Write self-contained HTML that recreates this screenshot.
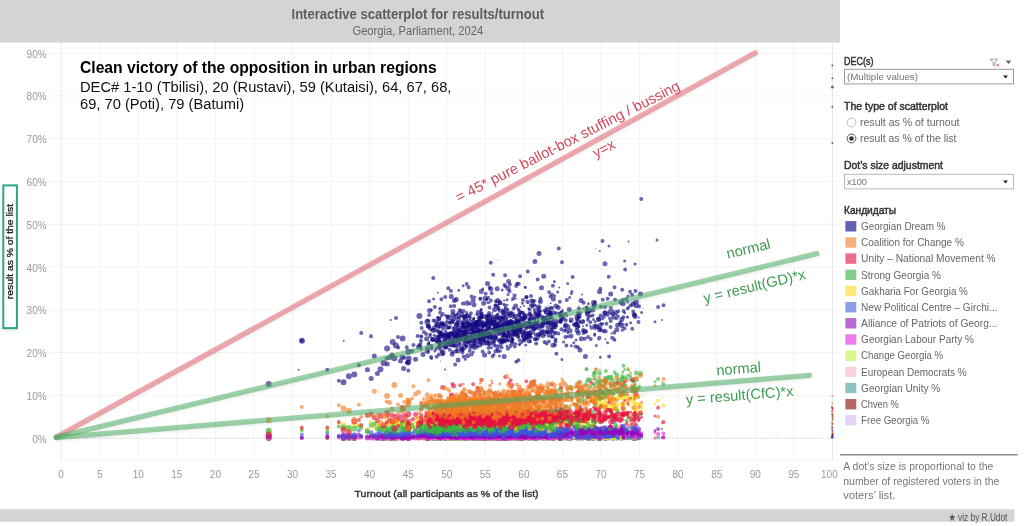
<!DOCTYPE html>
<html lang="en"><head><meta charset="utf-8"><title>Interactive scatterplot for results/turnout</title>
<style>html,body{margin:0;padding:0;background:#fff;overflow:hidden}svg{display:block;will-change:transform}text{font-family:"Liberation Sans", "DejaVu Sans", sans-serif}</style></head><body>
<svg width="1024" height="526" viewBox="0 0 1024 526">
<defs><filter id="sh" x="-5%" y="-5%" width="110%" height="115%"><feDropShadow dx="0.8" dy="1.2" stdDeviation="0.9" flood-color="#666" flood-opacity="0.22"/></filter></defs>
<rect width="1024" height="526" fill="#fff"/>
<rect x="0" y="0" width="840" height="42.5" fill="#d4d4d4"/>
<rect x="0" y="509.2" width="1014.4" height="12.6" fill="#d4d4d4"/>
<text x="417.8" y="19.2" text-anchor="middle" font-size="15" font-weight="bold" fill="#5e5e5e" textLength="252.6" lengthAdjust="spacingAndGlyphs">Interactive scatterplot for results/turnout</text>
<text x="417.8" y="35.4" text-anchor="middle" font-size="12.3" fill="#666" textLength="130.7" lengthAdjust="spacingAndGlyphs">Georgia, Parliament, 2024</text>
<path d="M99.7 43V460M138.2 43V460M176.8 43V460M215.4 43V460M253.9 43V460M292.5 43V460M331.1 43V460M369.6 43V460M408.2 43V460M446.8 43V460M485.3 43V460M523.9 43V460M562.4 43V460M601.0 43V460M639.6 43V460M678.1 43V460M716.7 43V460M755.3 43V460M793.8 43V460M832.4 43V460M49 395.4H840M49 352.7H840M49 309.9H840M49 267.1H840M49 224.3H840M49 181.6H840M49 138.8H840M49 96.0H840M49 53.3H840M61 460H840" stroke="#f3f3f3" stroke-width="1" fill="none"/>
<path d="M832.4 43V460" stroke="#e6e6ea" stroke-width="1" fill="none"/>
<path d="M61.1 43V460M61 438.2H839" stroke="#c4c4c4" stroke-width="1" stroke-dasharray="1 1.6" fill="none"/>
<g font-size="10" fill="#999" text-anchor="end">
<text x="46.6" y="442.6">0%</text>
<text x="46.6" y="399.8">10%</text>
<text x="46.6" y="357.1">20%</text>
<text x="46.6" y="314.3">30%</text>
<text x="46.6" y="271.5">40%</text>
<text x="46.6" y="228.8">50%</text>
<text x="46.6" y="186.0">60%</text>
<text x="46.6" y="143.2">70%</text>
<text x="46.6" y="100.4">80%</text>
<text x="46.6" y="57.7">90%</text>
</g>
<g font-size="10" fill="#999" text-anchor="middle">
<text x="61.1" y="477.7">0</text>
<text x="99.7" y="477.7">5</text>
<text x="138.2" y="477.7">10</text>
<text x="176.8" y="477.7">15</text>
<text x="215.4" y="477.7">20</text>
<text x="253.9" y="477.7">25</text>
<text x="292.5" y="477.7">30</text>
<text x="331.1" y="477.7">35</text>
<text x="369.6" y="477.7">40</text>
<text x="408.2" y="477.7">45</text>
<text x="446.8" y="477.7">50</text>
<text x="485.3" y="477.7">55</text>
<text x="523.9" y="477.7">60</text>
<text x="562.4" y="477.7">65</text>
<text x="601.0" y="477.7">70</text>
<text x="639.6" y="477.7">75</text>
<text x="678.1" y="477.7">80</text>
<text x="716.7" y="477.7">85</text>
<text x="755.3" y="477.7">90</text>
<text x="793.8" y="477.7">95</text>
<text x="829.4" y="477.7">100</text>
</g>
<text x="446.6" y="497" text-anchor="middle" font-size="9.7" fill="#333" stroke="#333" stroke-width=".4" textLength="184" lengthAdjust="spacingAndGlyphs">Turnout (all participants as % of the list)</text>
<rect x="3.3" y="185.4" width="13.6" height="142.7" fill="#fff" stroke="#2fa58c" stroke-width="2" filter="url(#sh)"/>
<text transform="translate(12.7 251.6) rotate(-90)" text-anchor="middle" font-size="9.5" fill="#222" stroke="#222" stroke-width=".3" textLength="95.2" lengthAdjust="spacingAndGlyphs">result as % of the list</text>
<g stroke-opacity="0.62" stroke-linecap="round" fill="none">
<g stroke="#d5b6f7">
<path stroke-width="6" d="M268.7 438.1h0m118.4-.1h0m5.6 0h0m15.6 0h0"/>
<path stroke-width="5" d="M387.3 437.9h0m35.7 .1h0m3.6 .1h0m16 0h0m7.8 0h0m.7 0h0m1.8-.1h0m.4 .2h0m2 0h0m3.3-.1h0m.2-.1h0m7.1-.1h0m.2 .3h0m1.3-.4h0m8.6 .3h0m1.2-.2h0m4.1 .3h0m2.3 0h0m1.4-.1h0m2.8-.1h0m3-.3h0m3 .4h0m.7 0h0m2.8 .1h0m.5-.2h0m6 0h0m.5-.1h0m3.2 .1h0m10.3 0h0m2.3 .1h0m2.7 .1h0m2.9-.1h0m9.6 .1h0m.3-.1h0m9.4-.4h0m.3 .5h0m4.9-.1h0m.9 .1h0m2.2 0h0m.6-.1h0m24.5 0h0m14.3-.1h0m12.3-.1h0m16.8 .3h0"/>
<path stroke-width="4" d="M338.8 438h0m97.3 0h0m2.5 .2h0m.3-.1h0m1.3 0h0m3.3-.1h0m1.8-.1h0m.3 .2h0m1.1 0h0m1.1 .1h0m.4-.3h0m.1 .3h0m1-.1h0m.3 0h0m2.8-.1h0m.2 .2h0m1.1-.3h0m.4 .3h0m.4-.3h0m1.4 .1h0m1.9 .2h0m1.8 0h0m3-.3h0m1 .2h0m.3 0h0m1.1-.3h0m1.7 .4h0m.4-.2h0m3.1 .1h0m.6-.1h0m.6 .1h0m.5 .1h0m1.9-.5h0m.2 .2h0m2.1 .1h0m.9 0h0m1.6 .1h0m5.5 0h0m2.7 .1h0m.9-.3h0m1.3 .3h0m.6-.4h0m.6 .3h0m.6 .1h0m3-.1h0m2.7 0h0m2.1-.2h0m1.3-.1h0m.5 .3h0m2.4 .1h0m3-.1h0m.8-.3h0m.2 .3h0m.2-.1h0m4.7 .1h0m.5-.2h0m.1 .2h0m3.3-.2h0m.6 .2h0m.9-.2h0m3.2 .2h0m7.9 .1h0m1.6-.3h0m.3 0h0m5.8 .3h0m1.6-.3h0m9.1 .2h0m2.2 0h0m1.9 .1h0m.8-.2h0m4.8 .2h0m9.5-.3h0m1 .2h0m13.3-.1h0m6.3 .1h0m17.2 .1h0m7.1-.3h0m9.7 .2h0m14 0h0"/>
<path stroke-width="3" d="M434.9 438.2h0m0 0h0m2.1-.5h0m3.3 .4h0m23.9 .1h0m1.2-.1h0m1.1 0h0m.2 .1h0m6.2 0h0m4.7-.1h0m1-.1h0m9.7 .2h0m1.7-.3h0m1.5 0h0m1.4 .3h0m1.6-.3h0m2.9 .2h0m.9 0h0m.9 0h0m1.2 0h0m3.8-.1h0m2.8 0h0m.1 .1h0m1.3 .1h0m3.2-.2h0m4.1-.2h0m9.1 .3h0m6-.1h0m.8-.1h0m2.2 .3h0m.4-.2h0m6.5 .1h0m3 0h0m3-.1h0m5.1-.1h0m9 .3h0m10.6-.3h0m7.4 .3h0m8-.4h0m1.7 .4h0m1.3-.1h0m.3 0h0m5 0h0m29.6 .1h0m5.9-.1h0"/>
<path stroke-width="2" d="M446.7 438h0m1.1 0h0m2.5 0h0m18.9 0h0m7.9 .1h0m9.1-.2h0m6.1 .3h0m7-.1h0m10.5 0h0m2.9 .1h0m2.7-.4h0m2.7 .4h0m27.2-.1h0m43.9-.1h0m1 .2h0m71.8-.1h0"/>
<path stroke-width="1" d="M435.3 438.2h0m5.5-.3h0m19.6 .1h0m53.3 .2h0m3.3-.3h0m3.5 .2h0"/>
<path stroke-width="6" d="M354.3 438.1h0m29.3 0h0m43.8-.1h0"/>
<path stroke-width="5" d="M389.7 438h0m42.7 0h0m4.3 .1h0m5.4-.1h0m1.7 .1h0m14.2-.1h0m3.7 .2h0m.5-.3h0m1.9 .1h0m2.9-.1h0m2 .2h0m4.5-.1h0m1.1 .1h0m1 0h0m3 .1h0m2.5-.1h0m4.2 .1h0m1-.2h0m2 .2h0m.3-.2h0m13.7 .1h0m15.4-.3h0m7.5 .3h0m4.5 .1h0m5.2 0h0m12.7 0h0m23.4-.1h0m6.1 0h0m4.2-.2h0m18.1 .2h0m5.8-.1h0m5.5 .2h0m2.5-.4h0"/>
<path stroke-width="4" d="M404.1 438.1h0m4.2 0h0m5.2 0h0m5.7-.3h0m8.4 .2h0m2.5 .2h0m8-.2h0m1.1 .1h0m.6-.2h0m1 .1h0m4.9 .2h0m4.6 0h0m2.3 0h0m2.5-.1h0m.7 .1h0m1.2-.1h0m.4 .1h0m2.4-.3h0m3.8 .3h0m1.5 0h0m1-.1h0m.1 .1h0m.5-.2h0m.1 0h0m1.7-.1h0m.4 .3h0m4.7 0h0m1.7-.2h0m.3 .1h0m.8-.2h0m2.6 .2h0m1-.1h0m1.3 .1h0m1.5-.1h0m3 .2h0m2.3-.1h0m3.6 0h0m2.2-.1h0m2 .2h0m.8-.1h0m.4 .1h0m1.1-.3h0m.3 .3h0m1.2-.1h0m1.9-.1h0m.3 0h0m1.1 .1h0m.3 .1h0m.7-.1h0m.5-.3h0m.2 .3h0m1.8-.1h0m1.4 .2h0m.3 0h0m.5-.3h0m0 0h0m1.5 .2h0m.5-.1h0m5.2 .2h0m2.5-.1h0m4.3-.1h0m0 .2h0m1.2-.2h0m2.6 0h0m.8 .2h0m.5-.3h0m1.8 .3h0m2.2 0h0m3.1-.1h0m7 .1h0m.1 0h0m1.2-.4h0m4.3 .1h0m.5 .1h0m1.1 .1h0m1.3-.2h0m1.6 .2h0m6.4 0h0m1.7 0h0m.4 0h0m.9 .1h0m11.2 0h0m11-.1h0m1.2 0h0m2 .1h0m1.1-.2h0m2.8 .2h0m4.4 0h0m5.4 0h0m.3-.3h0m1.9 .1h0m4.9 0h0m1.1-.1h0m5 .3h0m.5-.1h0m.3-.2h0m9.1 .1h0m.9 .1h0m14.6 .1h0"/>
<path stroke-width="3" d="M421 438.2h0m7.6 0h0m.2 0h0m2.7-.2h0m.4 .2h0m3.9-.2h0m3.4 .1h0m2.2 .1h0m4.3-.2h0m.1 0h0m6.3 .2h0m6.7-.3h0m.2 .1h0m.4 0h0m4 .1h0m1.9-.1h0m.1-.1h0m3.6 .1h0m4.4-.1h0m1.4 .3h0m3.3-.1h0m2.2-.3h0m2.5 .4h0m2.2-.1h0m2.1 .1h0m1.8-.1h0m.9 0h0m.6-.1h0m1.4 0h0m5.1 0h0m.8-.1h0m1.7 .3h0m2.8-.4h0m1.5 .1h0m7.7 .1h0m.2 .1h0m1.8-.2h0m3.2 .3h0m3.6-.4h0m9.9 .2h0m6.2-.2h0m1.1 .1h0m.7 0h0m3.9 .3h0m3.4-.3h0m6.9-.1h0m6.5 .4h0m15-.2h0m19.7 .2h0m17.9-.2h0m15.8 .1h0m.7 0h0m.1-.2h0m7.1 .2h0"/>
<path stroke-width="2" d="M435.5 438.1h0m5.8-.2h0m1.8 .3h0m46.3-.3h0m.2 .3h0m5.7-.2h0m17.6 0h0m16.2-.1h0m.8-.2h0m29.3 .4h0m7.8 .1h0m38.3-.3h0"/>
<path stroke-width="1" d="M481.6 438h0m21.3 .2h0m48-.1h0"/>
<path stroke-width="6" d="M343.5 438.2h0m65.2-.1h0m123.6-.1h0"/>
<path stroke-width="5" d="M371.2 438h0m6.2 .2h0m23.1 0h0m29-.1h0m10.8 0h0m.4 .1h0m2.2-.2h0m9.3 .1h0m5.1 0h0m2.7-.1h0m3.6-.2h0m.9 .1h0m1.2 .3h0m3.9 0h0m5.2-.1h0m3.8 .1h0m3.1-.1h0m.7-.1h0m1.3 .2h0m.9-.2h0m3.5 .2h0m1-.1h0m.3 0h0m.5 0h0m8.3 0h0m4.3 .1h0m1.3-.1h0m1.4 0h0m7.2 0h0m9.9-.1h0m5.3 0h0m1.9 0h0m4.6 .1h0m3.8 .1h0m11.3-.1h0m28.8-.1h0m15.5 .1h0m5.3 0h0m.8-.1h0m23.5-.1h0m9.9 0h0m1.4 .1h0m.7 .1h0"/>
<path stroke-width="4" d="M361.2 438.1h0m60.4 .1h0m12-.1h0m3-.2h0m1 .1h0m1.3 .2h0m.3-.1h0m3.8-.2h0m2.1 .3h0m3.3 0h0m1-.1h0m3.2-.1h0m.8 .1h0m.7 0h0m5.5-.1h0m.2 .2h0m2.5 0h0m.1 0h0m.1 0h0m.3 0h0m1.2-.3h0m3.3 .2h0m1 0h0m1.2-.3h0m1.2 .2h0m3.2 .1h0m.7-.2h0m1.1 .1h0m1.1 .2h0m3.4-.1h0m.4 0h0m.6 0h0m.1 0h0m.7 0h0m.9-.2h0m2.8 0h0m.1 .2h0m1 0h0m5.2-.2h0m3.5 0h0m3.9 .3h0m.6-.2h0m1.5 .2h0m.2 0h0m1.3-.1h0m1.1-.1h0m.5 .1h0m1.7-.1h0m2 0h0m1.3 .1h0m3.5 0h0m1.1-.1h0m1.2 .2h0m.3-.1h0m2.5-.1h0m1.2 .1h0m4.7 0h0m2.2 0h0m4.2 0h0m.5-.2h0m1.5 0h0m.6 0h0m.3 .2h0m5.8 0h0m.6-.2h0m3 .2h0m4.6-.2h0m3 .3h0m2.5 0h0m2.9-.1h0m7.2 .1h0m2.5-.2h0m.9 0h0m10.6 0h0m6.1 0h0m5-.1h0m4.4 .1h0m1.7 .2h0m9.4-.2h0m1.5 .1h0m4.4-.3h0m4 .2h0m4.3 .1h0m4.1 0h0m11.3 0h0"/>
<path stroke-width="3" d="M433.6 438h0m13-.2h0m2.1 .2h0m6.2 .1h0m1.7 .1h0m4.4 0h0m2.2 0h0m0-.2h0m1.8 .1h0m2.4 .1h0m2.9-.1h0m.4-.1h0m1.8 .2h0m.8 0h0m0-.2h0m.6 0h0m3.1 .2h0m2-.1h0m.3 .1h0m.6 0h0m.6 0h0m7.2-.2h0m3.3 .1h0m.9-.2h0m.8 .3h0m5-.3h0m3.1 0h0m1.4 .3h0m6.7-.2h0m1.5 .1h0m1.4-.2h0m4.9 .2h0m1.3-.2h0m1.4 .2h0m1.7 .1h0m3.2-.2h0m.3 .1h0m4.6-.1h0m1.2-.1h0m4.5 .2h0m2.6-.3h0m3.2 .2h0m2.1 0h0m26.8 .2h0m6.5 0h0m2-.1h0m2.1 .1h0m2.6 0h0m5.4 0h0m8.1 0h0m37.8 0h0"/>
<path stroke-width="2" d="M429 438h0m8.8 0h0m37.5 .1h0m26.9 .1h0m9.8-.3h0m2.2 .2h0m7.7-.2h0m7.5 .1h0m19.5 0h0m11.3 .1h0"/>
<path stroke-width="1" d="M440.6 438.1h0m34 .1h0m4.2-.2h0m31.9 .1h0m8.5 .1h0m26.2-.1h0m3.7-.1h0m9.7 .1h0m34.6 .1h0"/>
</g>
<g stroke="#840000">
<path stroke-width="6" d="M268.7 438.1h0m74.8 0h0m10.8-.2h0m96.1 0h0"/>
<path stroke-width="5" d="M403.6 437.9h0m23.8 .1h0m2.1 0h0m3.8-.1h0m3.3 0h0m3.7 .3h0m4-.2h0m.4 0h0m1.2 0h0m5.4 .1h0m1.6-.1h0m1.9-.1h0m14.8 .2h0m3.5-.1h0m8 0h0m2.4 0h0m13.8 .2h0m.5-.2h0m.1 .2h0m.3-.2h0m2-.1h0m1.6 .3h0m2 0h0m0-.2h0m3.9 0h0m.5 .1h0m.6-.1h0m5.9-.1h0m12.9-.1h0m10.2 .1h0m.1 .2h0m15.4 0h0m8.2-.2h0m4.1-.1h0m16.8 .2h0m11.5 0h0m6.1 .2h0m4.9-.2h0m29.5 .1h0"/>
<path stroke-width="4" d="M327.3 437.9h0m79.4 .1h0m10.9 0h0m4 .1h0m6.2 0h0m2.2 0h0m1 .1h0m1.9-.2h0m3.4 .1h0m1.9 .1h0m.7-.2h0m.1 0h0m.2-.2h0m2.8 .2h0m1.5 .2h0m2.1 0h0m1.1-.2h0m1.1 .1h0m0-.1h0m0 0h0m1.5 0h0m3.3-.2h0m.8 .1h0m1.1 .2h0m1.3 0h0m1.6-.2h0m.6 .3h0m1.4-.3h0m2.1 .3h0m1.6 0h0m3.6-.2h0m2.9 .2h0m2.3 0h0m6.2-.1h0m.1-.1h0m2.2 0h0m.9 .1h0m.8 0h0m.7 .1h0m2.2-.3h0m6.7 .3h0m.9-.5h0m2.5 .3h0m.6 .1h0m.8-.3h0m1.7 .2h0m2 .2h0m1.6-.2h0m.7 .1h0m3.3 0h0m.8-.1h0m.2 .1h0m1.4-.1h0m.5-.1h0m3.6 .1h0m1 .1h0m0-.1h0m2.6-.1h0m.3 .2h0m2-.1h0m2.8 0h0m1.9 .1h0m1.1-.1h0m.7-.1h0m.8 .3h0m1.3-.1h0m5.5 .1h0m.8-.4h0m3 .3h0m1.1-.1h0m8.4 .1h0m1.9 0h0m.4-.4h0m4.2 .5h0m.8-.3h0m3.4 .1h0m5 0h0m1.7 .2h0m14-.1h0m7.8-.1h0m1 .2h0m8.4-.3h0m11.6 .1h0"/>
<path stroke-width="3" d="M421 437.8h0m12.8 .2h0m.7 0h0m.4 0h0m3.4-.1h0m14.5 .2h0m2.8-.1h0m.7 0h0m.7 .1h0m1-.1h0m1.4 .1h0m.8-.2h0m3.6 .2h0m.4 0h0m1 .1h0m2.2-.2h0m4.2 0h0m.6-.1h0m.7 .2h0m.4-.1h0m.1-.2h0m.5 .4h0m.9-.2h0m2.2 0h0m.5 .1h0m1.8 0h0m1.3-.2h0m.9 .2h0m1.5-.3h0m5.4 0h0m1 0h0m3.2 .2h0m4.1 .2h0m.2 0h0m3.8-.3h0m11.9 .3h0m.7-.3h0m5.7 0h0m1.2 0h0m.9 .3h0m3.5-.3h0m.8 .3h0m3.9-.1h0m8.1-.1h0m6 .2h0m17.2 0h0m7.3-.3h0m3.4 .2h0m12.3 0h0m11.1 0h0m20.2-.3h0m40.1 .2h0"/>
<path stroke-width="2" d="M475.3 438.1h0m10.9-.1h0m1 .1h0m1.4-.1h0m3.7 0h0m.7 .1h0m1.5-.1h0m7.7-.1h0m9.8 0h0m2.2 .1h0m4.7 0h0m1 0h0m4.9 0h0m3.2-.1h0m25 .2h0m30-.1h0m249.3-24.3h0m.2 20h0m0-25.2h0"/>
<path stroke-width="1" d="M431.6 437.9h0m9.2 .1h0m19.6 .1h0m38.1-.1h0m96.6-.2h0m36.8 .1h0m11 .2h0"/>
<path stroke-width="6" d="M348.9 438.1h0m34.7-.1h0"/>
<path stroke-width="5" d="M374.3 438h0m52.3 0h0m1.9 .1h0m3.9-.1h0m4.3 .2h0m3.6-.2h0m.5 0h0m4.5 .1h0m6.8-.2h0m1.6 .3h0m3.3-.1h0m1 0h0m.1 .1h0m15.4-.2h0m2.1 .1h0m3-.2h0m4.5 .2h0m1.3 0h0m.8 .1h0m.4-.1h0m1.9 0h0m.3 0h0m.3-.1h0m2.7-.1h0m3 .1h0m.7 .1h0m.4 0h0m10.9 .1h0m0 0h0m15.4-.1h0m27.9-.2h0m1.1 .1h0m2.8 0h0m5.2 .1h0m34.5-.2h0m5.9 .3h0m1-.2h0m13.6 0h0m7.6-.2h0m12.2 .2h0m2.1-.1h0m1.3 .2h0"/>
<path stroke-width="4" d="M404.1 438h0m17.3-.1h0m7.7 0h0m2.3 0h0m1.9 .1h0m1.5 0h0m1.8-.2h0m3.7 .1h0m2.5 .3h0m2.3-.2h0m1.4 0h0m1.9-.1h0m1 0h0m.9 .1h0m3.8-.2h0m0 .1h0m.2-.1h0m.8 .2h0m.8-.4h0m2.6 .5h0m.8 .1h0m.9-.4h0m2.3 .4h0m.1-.2h0m1.4 0h0m2 .2h0m.2-.2h0m.2 .1h0m.3-.3h0m.3 .3h0m.1 .1h0m0 0h0m.2-.3h0m1-.1h0m1.5 .4h0m.5-.3h0m.5 .2h0m1.7-.2h0m.6 0h0m.1 .1h0m1.2-.1h0m1.3 .1h0m1.3 .1h0m.6 0h0m2.6-.2h0m2 .1h0m2.4 0h0m1.5 .1h0m.8 .1h0m3.9-.2h0m2 .1h0m1.9 0h0m.2-.2h0m.5 .2h0m.4 0h0m1.8-.1h0m.1 0h0m2 .1h0m3.1 0h0m1.9-.1h0m.2 .1h0m.6-.2h0m.8 .2h0m2-.1h0m4.8 .1h0m1.5 0h0m.6-.3h0m.2-.2h0m.2 .4h0m.7 0h0m.8 .2h0m2.8-.1h0m4 0h0m4.6 .1h0m3.3-.1h0m.3-.1h0m5.6 .2h0m1.6-.3h0m.3 .2h0m7-.2h0m2.2 .2h0m.3 .1h0m2.4-.2h0m0 .1h0m6.9-.3h0m2.4 .4h0m16.1-.2h0m20.7-.1h0m13.2 .1h0"/>
<path stroke-width="3" d="M420.9 438.2h0m7.9-.2h0m7 .2h0m1.2 0h0m3.3 0h0m3.5-.1h0m4.9 .1h0m7.6 0h0m.8-.1h0m6 .1h0m.3-.3h0m3.3 .1h0m.8 .1h0m4.6 0h0m.4 .1h0m5.1-.4h0m2.7 .2h0m.7 .1h0m1.7-.2h0m5.5 .3h0m1.2-.2h0m4.6 0h0m1 .2h0m.1 0h0m.2-.3h0m2.8 .2h0m2.4 0h0m1.7 0h0m1.4 0h0m1.8 0h0m1.2-.2h0m.5 .2h0m1.3 0h0m1.6-.2h0m.4 0h0m5.3 .3h0m2.7-.1h0m15.8 .1h0m33.5-.1h0m22.1-.1h0m.3 0h0m19.3-.1h0m17.8 .1h0m7.9 0h0"/>
<path stroke-width="2" d="M425.3 438.1h0m12.5-.2h0m5.3 .1h0m4.7 .1h0m15.1 0h0m.4-.2h0m7.6-.1h0m8 .3h0m4.2 0h0m2.9-.2h0m1.4 .1h0m10.5 .1h0m1.4-.1h0m4.9 0h0m4.8-.2h0m30.5 .1h0m.1 0h0m11.1 .3h0m16.3 0h0m46.1-.4h0m25.6 .2h0m23.3-.1h0m170.5-22.8h0"/>
<path stroke-width="1" d="M440.5 438.1h0m38.3-.1h0m15.3 0h0m8.8 .2h0m10.8-.2h0m6.8-.1h0m38.3 .1h0"/>
<path stroke-width="6" d="M392.7 437.9h0m1.7 .3h0m1.5 0h0m12.4-.4h0m180.4 .3h0"/>
<path stroke-width="5" d="M389.7 438.2h0m10.8-.1h0m18-.2h0m20.2 .3h0m3.9-.1h0m6.4-.2h0m2.1 0h0m4.2 0h0m1.4 0h0m3.3 .2h0m5.7-.1h0m9.1 .1h0m5.4 .1h0m.2-.2h0m3.2 .2h0m1-.3h0m1.7 .2h0m1.8-.2h0m4.2 .1h0m1.6 .1h0m6 .1h0m2.6-.2h0m1.7 0h0m1-.3h0m.3 .2h0m4 .1h0m6.9 .1h0m1.4 0h0m2.3 0h0m2.2 .1h0m1-.1h0m6.4 0h0m4.4-.1h0m1.2 0h0m.3-.1h0m8.1 .3h0m9.6-.2h0m6.9 .1h0m7.7-.1h0m1.4 .2h0m1.9-.3h0m34 0h0"/>
<path stroke-width="4" d="M420.9 438.1h0m3 0h0m3.7 0h0m1.5-.1h0m3.6 .1h0m5.4-.1h0m1.3 0h0m.7 0h0m.1 0h0m0-.1h0m5.4-.2h0m.1 .4h0m2.5-.1h0m4.4 0h0m2.1 0h0m1.9 0h0m.9-.1h0m.3 .1h0m3.8 .1h0m1.3-.2h0m1 .1h0m1.6 .1h0m3 .1h0m1.1-.2h0m.9 .1h0m.9-.3h0m3.2 .2h0m.6 0h0m.1 0h0m.8 .2h0m.3-.1h0m7.3-.1h0m3.1 0h0m1.8 .1h0m2.7 0h0m.4 .1h0m.3 0h0m1.2-.2h0m3.9 .2h0m2.8-.1h0m.1-.1h0m.1 .2h0m1.1-.2h0m.2 .1h0m.5-.2h0m.1 .2h0m1 0h0m6.3 .1h0m.3-.2h0m1.1-.2h0m1.1 .2h0m1.1 0h0m11.1 .2h0m.7-.4h0m2.3 .2h0m3.1 .1h0m.8 0h0m2.2 0h0m4.8 .1h0m1.4-.2h0m.2 0h0m.9 .1h0m2 0h0m1.6 0h0m2.3-.1h0m.5 .2h0m3.2-.1h0m2-.2h0m2.8 .1h0m1.4 0h0m3.9 .1h0m1.3 0h0m5 .1h0m6.2-.2h0m11 .1h0m2.8 0h0m1.7 0h0m2.6-.2h0m1.8-.2h0m2.5 .2h0m4 .2h0m1.5 .1h0m3.1-.4h0m1.5 .3h0m2.5 0h0m4 0h0m1.9-.4h0m4.3 .3h0m7.3-.1h0m1.4 .3h0m7.9-.2h0"/>
<path stroke-width="3" d="M431.6 438.1h0m14.2 .1h0m.8-.2h0m.9-.1h0m5.3 0h0m2.1 .1h0m1.7 .2h0m6.6-.4h0m2.2 .1h0m2.3 0h0m4.9 .1h0m1-.1h0m5 .1h0m.3 .1h0m.1 0h0m1.5 .1h0m2-.3h0m.3 .1h0m.1 .2h0m4.8-.2h0m2.3 .1h0m1.5-.3h0m6.2 .3h0m.7-.2h0m.8 0h0m4.5 .1h0m.1 .1h0m.8-.1h0m3 0h0m4.2 .2h0m4.8-.1h0m.6-.2h0m.7 .1h0m4 0h0m8.5-.1h0m0 .3h0m7.1-.2h0m.1-.1h0m7.8 .2h0m2.3-.1h0m2.8 .1h0m11.4-.2h0m1.7 .1h0m7 .2h0m3.2-.1h0m14.7 0h0m14-.1h0m25.3 0h0m.2 0h0m2.6-.1h0"/>
<path stroke-width="2" d="M429 438.1h0m36.3-.2h0m11.8 .3h0m3.1-.3h0m9.4-.1h0m18.6 .3h0m18.7 0h0m5.7-.2h0m21 .2h0m6.6-.2h0m29 .1h0m1 .1h0m241.7-31.1h0m.4 20.9h0m.1 8.1h0m.2 0h0m.1-16.7h0"/>
<path stroke-width="1" d="M460.8 437.9h0m56.4 .3h0m8.9-.1h0"/>
</g>
<g stroke="#3f9d94">
<path stroke-width="6" d="M427.4 437.8h0m24.8 .2h0"/>
<path stroke-width="5" d="M427.4 437.9h0m11.3 .3h0m1.6-.2h0m7-.1h0m1.7 .1h0m6-.2h0m2.3-.1h0m6.8 .4h0m1.8 .1h0m6.5-.3h0m7.3 0h0m3.9-.1h0m1 .3h0m1 0h0m1.9 0h0m1.1-.4h0m.8 0h0m1.4 .3h0m1.6-.1h0m.2-.1h0m2.3 .2h0m.5 0h0m4.2-.2h0m4.2 .1h0m2 0h0m3.7 .3h0m6.9-.1h0m4.5-.2h0m.3 0h0m8.3-.3h0m14.2 .5h0m6.5 0h0m3.1-.3h0m.6 .2h0m16.1-.2h0m7.4 .3h0m1.7-.3h0m2.2 0h0m17.5 .3h0m8.6 .1h0m5.8-.3h0m3.6 .3h0m19.6-.2h0"/>
<path stroke-width="4" d="M301.8 437.9h0m111.7 0h0m4.1 .3h0m15.1-.2h0m3.4-.3h0m2 .1h0m.9 .4h0m1.9 0h0m1.9-.2h0m2.9-.1h0m5 .1h0m5.9-.2h0m2.7 .3h0m1.6-.3h0m1.6 .4h0m1.1-.1h0m2.6-.4h0m1.9 .4h0m1.4-.2h0m1.7 .3h0m.4-.2h0m.3 .2h0m.6-.2h0m.7-.5h0m.9 .6h0m.7-.2h0m1.6 0h0m.8 .2h0m4-.4h0m.6 .1h0m4.3 .2h0m2.9 0h0m.6-.3h0m1.7 .2h0m3.6 0h0m.5-.1h0m2.2 .3h0m.5-.5h0m1.8 .6h0m.2-.2h0m1.8 0h0m1.1-.4h0m1.1 .3h0m2.9 .1h0m1.7-.2h0m3 .1h0m1.4-.2h0m.4 .3h0m1.1-.3h0m1.7 .3h0m2.4-.1h0m4 0h0m2 .1h0m5.2-.3h0m3.2 .1h0m1.3 .3h0m.5-.1h0m2.6 .2h0m2.1-.3h0m.2 .1h0m6.5-.4h0m3.7 .3h0m.4 .3h0m3.8-.2h0m7.8-.1h0m4.8 0h0m9.4 .1h0m24.3 0h0m24.6-.1h0m1.4 .3h0"/>
<path stroke-width="3" d="M428.8 437.7h0m8.2 .1h0m20 0h0m4 0h0m2.2 0h0m1.9 .1h0m5.2 0h0m1.8 0h0m8.9 .1h0m.9-.2h0m.5 .2h0m.1-.1h0m.1 .1h0m.1 .1h0m1.5-.5h0m5.2 .2h0m8 .2h0m3.4 .2h0m1.4-.4h0m1.5-.1h0m0 .3h0m3.9-.2h0m17 0h0m5.8 .1h0m.1 .2h0m7.5-.4h0m.9 .3h0m4.5-.1h0m26.2 0h0m1 .1h0m1.3-.2h0m6.2 .2h0m5.5-.1h0m3.2 .3h0m14.5-.2h0m29.3 0h0"/>
<path stroke-width="2" d="M463.1 437.8h0m7.8 .3h0m.9-.2h0m5.3-.1h0m12.5 .1h0m4.9 .3h0m17.5-.2h0m2.2-.1h0m7.7-.3h0m13.5 .5h0m17.6-.3h0m7.2 .1h0m21.8 .2h0m29.3-.1h0m1.8-.4h0"/>
<path stroke-width="1" d="M440.6 438.2h0m.2-.4h0m20 .1h0m50.5 0h0m16 .3h0m12.7 0h0"/>
<path stroke-width="6" d="M448.5 438h0m83.8 .1h0m56.4-.4h0"/>
<path stroke-width="5" d="M389.7 437.9h0m13.9 .1h0m19.4-.2h0m3.6-.1h0m6.7 .5h0m3.3-.1h0m4.2-.3h0m4.5 .1h0m11.4-.1h0m1.9 .2h0m.2-.4h0m.6 .2h0m4.2 .1h0m.9 .2h0m11-.2h0m1.3 .1h0m1.8-.3h0m6.6 0h0m16.6 .1h0m2 .4h0m0-.3h0m5.6 .3h0m.4-.3h0m2.6 .2h0m5.4-.5h0m2.3 .6h0m21-.5h0m1.9 .1h0m4.6 .2h0m.4 0h0m2.2 0h0m.9 .1h0m1.9 0h0m1.2 0h0m8.8 0h0m2.6-.2h0m2.3-.2h0m1.4 .5h0m1.7-.4h0m.2 .1h0m8.7 0h0m2.5 .2h0m16.2 .1h0m1.4-.6h0m5.2 .3h0m15.6 .1h0"/>
<path stroke-width="4" d="M398 438h0m29.8-.1h0m1.1 .2h0m.2-.1h0m0 .2h0m4.2-.4h0m3 .2h0m.3-.5h0m2.6 .3h0m1 0h0m.1 .3h0m7.5 0h0m1.6 .1h0m4-.2h0m4.4 0h0m.2 .1h0m1.4 0h0m4.2-.5h0m1.8 .2h0m1.3 .1h0m0-.3h0m.4 .6h0m9-.3h0m.9 0h0m.6 0h0m.6-.2h0m.4 .4h0m1.6 .1h0m.1-.2h0m.9 .1h0m2.9 .1h0m2.5-.2h0m.3-.1h0m3.9 .1h0m1.9-.2h0m1.2 .3h0m.4-.4h0m2.2 .1h0m1.1-.1h0m4 .2h0m.2 .3h0m.7 0h0m2.6 0h0m.7-.5h0m1.3 .2h0m.8 0h0m.3 .1h0m1-.2h0m4.1 .1h0m0 .1h0m2.1-.1h0m.8 .1h0m4.8-.4h0m2.9 .5h0m.1 0h0m.1-.2h0m1 .1h0m3.1 .2h0m.3-.2h0m1.6 0h0m7.6-.4h0m.2 .3h0m1.2 0h0m2.6-.1h0m5.7 .1h0m.6-.2h0m.9 .2h0m.2-.1h0m5.6 .4h0m.7-.2h0m4.7 .2h0m.6-.2h0m3.5-.1h0m1.6 .1h0m6.8-.1h0m13.8 .2h0m7.8-.2h0m.8 0h0m10-.1h0m1.5-.1h0m7.2 .2h0m6.2 .1h0m3.4-.3h0m7.5 .1h0m1.3 .4h0m26-.6h0"/>
<path stroke-width="3" d="M428.6 438.1h0m5.9 .1h0m1.4-.2h0m11.6 .2h0m4.6-.4h0m5-.1h0m6.1 .1h0m2.1 .2h0m.1-.1h0m2-.2h0m.3 .2h0m4.9 .1h0m4.4 .2h0m.6-.2h0m.7 .1h0m.3-.1h0m1.9-.2h0m1 0h0m3.2-.2h0m4.2 .5h0m.9 .1h0m2-.3h0m1.1-.1h0m2.4 .1h0m.3-.1h0m1.1 .4h0m1.4-.4h0m4.1 .2h0m.3-.4h0m5.9 .5h0m1.6-.2h0m3.4 .1h0m2-.4h0m2.5 .3h0m6.4 0h0m5.8 0h0m2.3 0h0m2.5 .1h0m1.5 .1h0m1.1-.2h0m.1-.1h0m3.6 .1h0m2.5 .1h0m13.2 0h0m3.7 .1h0m.2 0h0m1.6 0h0m5.3-.2h0m.2 .2h0m34.6-.4h0m5.1 .5h0m26.5-.4h0m7.5 .1h0"/>
<path stroke-width="2" d="M443.1 438.1h0m18.6-.2h0m26.9 0h0m.8 0h0m2.9-.3h0m3 .3h0m11.6-.1h0m6.1 .3h0m7.5 0h0m2.6-.5h0m.5 .4h0m1.2-.1h0m1.2 .2h0m.9 0h0m32.3-.2h0"/>
<path stroke-width="1" d="M440.5 437.7h0m58 .5h0m29.9-.3h0m2.6 .1h0m18.1 .1h0m22.3-.1h0m261.1-5.5h0m.1-.6h0"/>
<path stroke-width="6" d="M348.9 437.9h0m31.6-.1h0m3.1 .3h0m12.3-.2h0m54.5-.1h0"/>
<path stroke-width="5" d="M377.4 438.2h0m9.9-.5h0m55.3 .4h0m.3-.3h0m1.4 .1h0m.2 .1h0m4.2 .2h0m1.7 0h0m1.8-.1h0m2.2-.4h0m.4 0h0m2.2 .2h0m8.7 .1h0m3.9 0h0m5-.1h0m1 .3h0m5.9-.2h0m.8 .1h0m4.8-.1h0m10.2 .1h0m.9-.3h0m3.9 .3h0m3.1-.2h0m.3-.2h0m8.5 .2h0m.7-.1h0m1.7 .2h0m1.5 0h0m10 0h0m2 0h0m7.9 .2h0m11.6-.5h0m3.9 0h0m13.7 0h0m38 .1h0m29.4 .2h0"/>
<path stroke-width="4" d="M398.2 438.1h0m8.5-.1h0m12.5-.1h0m12.2-.1h0m7.8 .4h0m.6-.3h0m.5-.2h0m1.1-.1h0m2.1 .4h0m1.6-.1h0m.2 0h0m.3-.1h0m2.8 0h0m1.2 .1h0m2.5 .1h0m2 .1h0m4.4-.4h0m1.7 .2h0m.2 0h0m1.2 .2h0m.7-.1h0m5 0h0m.6 .1h0m.6-.5h0m.1 .5h0m1.2 0h0m.9 .1h0m.7-.1h0m2.1-.2h0m5.9-.1h0m.9 .3h0m.3-.4h0m.7 .2h0m1.5 0h0m3.9 .1h0m2.3 0h0m.2-.2h0m.5-.1h0m1.6 .4h0m.8-.2h0m1.1 .2h0m2.2 0h0m1.3 .1h0m.9-.3h0m.1 .3h0m4.3-.1h0m.7 .1h0m1.1-.6h0m.4 .3h0m.5 0h0m.2-.1h0m1.4-.1h0m4.4 .3h0m.5-.2h0m.1 .4h0m.5-.4h0m.5 .4h0m1.6-.2h0m1.6-.1h0m.4 .3h0m3.3-.1h0m.4 0h0m.5-.1h0m.3-.1h0m.8 .3h0m1.7-.3h0m1.7 .2h0m.6-.4h0m1.1 .2h0m.5 .1h0m2.5 0h0m.5-.2h0m1 .2h0m2.6-.1h0m4.9 .3h0m7-.1h0m1.3-.2h0m3.8 .1h0m1.1 .2h0m4.1-.3h0m2.8 .3h0m1.5-.5h0m14 .2h0m3 .1h0m.1 .2h0m13.7-.2h0m4.4 0h0m10.7 .1h0m5.8 .1h0m.5-.2h0m5.7 0h0m2.6 .2h0m3.2-.2h0"/>
<path stroke-width="3" d="M421.3 438h0m10.3 .2h0m.3-.3h0m2.2-.1h0m5.1 .4h0m5.6 0h0m3.7-.2h0m.2 .1h0m4.1-.3h0m3.5 .3h0m.3-.3h0m1.4 .2h0m7.2-.1h0m8.1-.1h0m.1 .1h0m1.2 0h0m4.7-.1h0m8.9 .3h0m10.7-.4h0m.3 .2h0m.2-.3h0m6 .1h0m0 0h0m4.9 .5h0m1.1-.4h0m.2 0h0m.7 .2h0m1-.2h0m2.4 .2h0m3.7 .1h0m.4-.2h0m13.1 .2h0m2.8-.1h0m.6-.3h0m1.1 .1h0m3.3 .1h0m3 .2h0m3-.3h0m1.1 0h0m4-.2h0m2.9 .5h0m19.1-.3h0m5 .2h0m4 0h0m40.1 0h0"/>
<path stroke-width="2" d="M441.3 437.9h0m9 0h0m15 0h0m10-.2h0m10.7 0h0m.2 .3h0m11.7-.1h0m10.3 .3h0m8.2-.4h0m2.5 .4h0m6.4-.4h0m28.3 .2h0m13.4 .1h0m16-.3h0m6.2-.2h0m38.7 .3h0"/>
<path stroke-width="1" d="M435.3 437.9h0m39.7 0h0m3.8 .1h0m31.9-.2h0m6.5 .2h0m2 0h0m1.3-.4h0m38.3 .5h0m273.6-16.5h0"/>
</g>
<g stroke="#f8b6ca">
<path stroke-width="6" d="M348.9 437.8h0m38.2 .1h0m7.3-.2h0"/>
<path stroke-width="5" d="M402.1 438h0m35.7-.1h0m2.5-.3h0m2.6 .1h0m1.6 0h0m4.2 .2h0m4.6-.1h0m1.1 .3h0m.9 .1h0m2 0h0m2.1-.1h0m3.2-.6h0m4.2 .1h0m6.1 .3h0m.2 .1h0m.4-.2h0m.5 0h0m1-.1h0m4.1 .1h0m2.2 0h0m2.3-.5h0m4.2 .3h0m.3 .2h0m2.7-.3h0m1.6-.2h0m2.1 .5h0m.9-.3h0m6.9 .2h0m2.9-.2h0m3.6 .5h0m12.4-.3h0m1.1-.2h0m3.4 0h0m8.4 .2h0m1.2-.1h0m3 .2h0m2.2 0h0m4.5 .1h0m5.2 .1h0m3.3-.4h0m28.9 0h0m17.1-.2h0m5.5 .7h0m2.4-.4h0m9.4 .1h0m5-.2h0"/>
<path stroke-width="4" d="M420.9 437.4h0m.5 .6h0m9.6 0h0m5.1 0h0m2.8-.3h0m.3 .4h0m.9-.2h0m1.3 .1h0m.6-.1h0m3.1 .2h0m.6-.3h0m2.1 0h0m.5 .2h0m.1-.5h0m4.2 .5h0m1.7-.4h0m.8 0h0m.7 .5h0m1.7-.4h0m.3-.2h0m10.5 .3h0m2 .1h0m.4-.4h0m.5 .3h0m.4-.4h0m.3 .3h0m.2-.1h0m1.4 .2h0m1.7 .1h0m.4-.1h0m2 .4h0m2.6-.4h0m.1 .1h0m.9-.2h0m.8 .3h0m.9-.5h0m3.7 .3h0m1.1 .1h0m.9 0h0m.3-.4h0m1.9 .5h0m.9-.2h0m.9-.1h0m.1 .2h0m1.2-.1h0m.2-.3h0m1.6 .3h0m.2-.1h0m1.2 .3h0m.5-.5h0m3.9 .2h0m1.5 .1h0m.8-.1h0m.4 .2h0m2.6-.4h0m.3 .2h0m2.8 .3h0m1.6 .2h0m.2-.4h0m.6 0h0m1-.3h0m.3 .1h0m1 .2h0m.1 0h0m.5 0h0m1 0h0m.1 0h0m.8-.5h0m2.3 .8h0m0-.5h0m3.3 .2h0m.2-.1h0m1.2-.3h0m.1 .5h0m2.1 .1h0m.7-.1h0m1.5-.1h0m4.6-.3h0m0 .1h0m1.8 .3h0m2.3 .1h0m2.1-.4h0m3.5 .2h0m3.8 .1h0m2.5-.1h0m.1 .2h0m7-.3h0m.1 0h0m.1 .3h0m4.3 .2h0m2.3-.4h0m2.8-.3h0m6.8 0h0m4.3 .3h0m9.5 0h0m8.6 .4h0m12.6-.5h0m1.1-.1h0m2.9 .6h0m2.1-.6h0m.5 .4h0m19-.4h0m1.2 .3h0m1.1-.1h0"/>
<path stroke-width="3" d="M435.9 437.9h0m5.5-.1h0m7.3-.2h0m.3 .1h0m3.1-.1h0m.7 0h0m11.4 .4h0m.9-.4h0m.2-.5h0m1.4 .7h0m3.6-.2h0m2.6-.3h0m.4 .6h0m.3 .3h0m4.1-.6h0m.4 .3h0m1-.4h0m.2 .3h0m3.2 .1h0m6-.3h0m.9-.1h0m5 .6h0m.6-.5h0m9.4 .3h0m2.2 .1h0m.4-.1h0m3.4-.3h0m.6-.1h0m.8 .5h0m4.6-.3h0m1.5 0h0m5.4 .3h0m6-.1h0m2.3-.3h0m3.3 .3h0m1.5 0h0m2.5-.3h0m4.8-.1h0m6.2 .3h0m23.9-.1h0m14.4-.1h0m39.7 .2h0m.1-.1h0m.5-.3h0m2.1 .5h0"/>
<path stroke-width="2" d="M460.6 438h0m1.1-.4h0m3.6-.1h0m5.6-.1h0m8 .5h0m19.1-.1h0m14.7-.3h0m.3 .7h0m2.4-.8h0m1 .4h0m83.4 0h0m13.3-.4h0"/>
<path stroke-width="1" d="M440.8 437.4h0m9.9 .4h0m30.9-.1h0m4.6-.2h0m7.9 .7h0m3.1-.5h0m13.5-.2h0m1.7-.1h0m18.6 .2h0m12.1 .6h0"/>
<path stroke-width="6" d="M380.5 437.5h0m15.4 .5h0m52.6-.5h0m83.8 .3h0"/>
<path stroke-width="5" d="M408.7 438.1h0m23.7-.3h0m6.3 .2h0m1.6-.6h0m5.6 .2h0m7.8 .2h0m3-.1h0m.3 .1h0m1 .2h0m3.7-.3h0m4.2-.1h0m3.6 .3h0m6 0h0m6-.4h0m2.9 0h0m.9 .1h0m2.2 .3h0m3.3 0h0m1.8-.5h0m2.3 .2h0m5.3 .3h0m2.3-.6h0m.1 .8h0m6.9-.2h0m.3 .1h0m5.8-.9h0m2.2 .4h0m10.1 .1h0m3.7 0h0m3.3-.1h0m8.1 .3h0m8.1 .4h0m4.8-.3h0m12 0h0m13.1-.5h0m12.5 .2h0m5.1 .1h0m6.3-.1h0m15.9 .3h0"/>
<path stroke-width="4" d="M338.8 438h0m59.2-.3h0m19.6-.1h0m3 0h0m8.3 .4h0m1.1-.5h0m4.8 .5h0m1.7-.8h0m1.3 .6h0m1.1-.1h0m1.3 .4h0m.4-.4h0m.3 .1h0m2.1 .1h0m3.2-.4h0m.5 .7h0m1.1-.1h0m1.4-.4h0m5.5 .1h0m2 .3h0m1.3-.4h0m1.8 .1h0m2.8 .1h0m.3 .2h0m.2-.5h0m.4 .2h0m1.2-.4h0m.4 .1h0m1.1 .2h0m0 .2h0m.3-.5h0m3.1 .1h0m.8 .3h0m1.2-.2h0m2.4 .4h0m.6-.1h0m2.4-.2h0m0 .1h0m1.2-.1h0m1.3 .5h0m1.8-.4h0m0-.4h0m1.3 .8h0m.2-.3h0m1.3 .1h0m2.7-.1h0m.7-.4h0m2.1 .4h0m2.4 .1h0m1.8-.2h0m2.4 .1h0m.4 0h0m1.9 .2h0m1.7-.1h0m1-.1h0m.2 .1h0m.4-.3h0m2.2-.4h0m.5 .6h0m2.8-.1h0m.9 0h0m1 .3h0m.1-.1h0m2.1-.5h0m.4 .1h0m.8 0h0m.6 .5h0m2.6-.3h0m4.3-.1h0m.2-.1h0m5.4 .4h0m.4-.4h0m.4 .2h0m6-.2h0m1.8 .1h0m3.2 0h0m2.3-.7h0m4.7 1.1h0m7-.3h0m.5-.2h0m.7-.2h0m7.8 .3h0m18.3 .2h0m4.8 0h0m4.3 .3h0m7.2-.2h0m.8-.3h0m3.5 .1h0m1.5 0h0m4.2-.1h0m.7 .4h0m57.7-.2h0"/>
<path stroke-width="3" d="M420.9 438h0m.4-.4h0m7.3 .2h0m6.3 0h0m26.1-.3h0m4 0h0m.8 .6h0m.8-.4h0m2.4 .2h0m3.6 0h0m1.3 .1h0m4.7 0h0m.3-.5h0m2.2 .5h0m7.2-.3h0m1.5 .5h0m2.9-.3h0m4.2-.1h0m.8 0h0m.4 0h0m.8 0h0m1 .3h0m2.3-.3h0m.5-.5h0m2.7 .4h0m1.6 .3h0m.1 0h0m8.3-.4h0m.3 .2h0m2.7 .1h0m.8-.2h0m.8-.2h0m1.1 .1h0m9.3 .2h0m3.4-.3h0m1.9 .5h0m17.8-.3h0m17.1 0h0m25.7-.3h0m5 .5h0m1.2-.5h0m22.1 .4h0m3.2 .1h0"/>
<path stroke-width="2" d="M443.1 437.9h0m3.6-.6h0m20.4 .2h0m6.9 .1h0m9.1-.1h0m6.5 .3h0m3.4-.3h0m13.9 .5h0m1.3-.5h0m14.9 .1h0m1.7-.3h0m2.1 .5h0m2.5 .1h0m6-.2h0m15.3 .3h0m24.9-.1h0m13.6 0h0m49.5 .1h0"/>
<path stroke-width="1" d="M460.4 437.4h0m37.6 .4h0m19 0h0m3.5 0h0m16 .1h0m9.8-.1h0"/>
<path stroke-width="5" d="M374.3 437.6h0m17.7 0h0m11.6 0h0m41.7 0h0m3.7 .4h0m3.2-.2h0m4.2-.2h0m7.7 0h0m3.5 .1h0m11 .1h0m2.2 .2h0m1.5-.3h0m4 0h0m17.5-.1h0m0-.2h0m11.8 .8h0m7.7-.8h0m6.4 .1h0m8.5 .1h0m3.3 .3h0m13.5-.3h0m5.2-.1h0m2.8-.2h0m4 .3h0m2.3 .2h0m35.9-.3h0m17.9 .3h0"/>
<path stroke-width="4" d="M358.9 437.7h0m27.7 0h0m20.1 0h0m1.6 .2h0m12.9-.2h0m6.6 0h0m1.3-.1h0m3.8 .2h0m.6-.2h0m6.8 0h0m3.4 0h0m1.5 .3h0m3.8-.1h0m1.7-.4h0m2.7 .2h0m4 .3h0m1.1-.4h0m.9-.1h0m.2 .6h0m2 .1h0m.8-.2h0m.4-.5h0m.5 .4h0m.3-.2h0m1.3 0h0m1.1 .3h0m2.1-.4h0m.5 .5h0m.9-.3h0m.1 0h0m.2 0h0m.1 .3h0m2.6-.3h0m1.4 .1h0m.9 0h0m3.8-.1h0m.4 0h0m.1 .2h0m1.3-.6h0m.8 .6h0m6.6-.2h0m1.7 0h0m.7-.1h0m1.1 .1h0m0 0h0m1.5 .3h0m1.9 0h0m.4-.2h0m2.5-.2h0m2.3 .3h0m2 .1h0m1.1-.4h0m1-.1h0m1.1 .2h0m.7 .1h0m1.2-.3h0m1.7 0h0m2.6 .3h0m9.1 .2h0m.3-.1h0m1.7-.2h0m1 .1h0m.6 .1h0m1.3 .1h0m1.1 .2h0m3.4-.3h0m2-.1h0m.3-.4h0m2.8 .4h0m.4-.1h0m2.6 0h0m1.2-.2h0m2.8 .4h0m1.3-.7h0m3.1 .8h0m4.1-.3h0m0-.1h0m0 0h0m1.7-.1h0m2.6 .5h0m.3 0h0m3.4-.2h0m.4-.3h0m3.2 .3h0m38.8-.1h0m2.8 .3h0m2.9-.3h0m3-.1h0m1.2 .3h0m7.1 .1h0m8.6-.1h0"/>
<path stroke-width="3" d="M430.3 437.9h0m3.8 .1h0m4.2-.4h0m18 .4h0m2.5-.1h0m4.4-.4h0m4.3 .4h0m4.6 .3h0m1.2-.5h0m.1 .4h0m1.4 0h0m2.8-.4h0m3.4 0h0m.5 .2h0m.9-.2h0m.3 0h0m3.9 0h0m2.3-.3h0m.5 .5h0m.6-.4h0m.2 .3h0m1.3 0h0m4.1 .2h0m.1-.8h0m2.7 .7h0m1.4-.2h0m.7 .2h0m.2-.2h0m2.8 .1h0m.3 0h0m20.8-.1h0m8.3-.3h0m5.2 .4h0m9.7-.2h0m2.7 0h0m1.8 .5h0m2.1-.5h0m6.2-.4h0m27.9 .2h0m11.8 .2h0m11.1 .1h0m13.3-.4h0m9.4 .5h0m1-.1h0m19.9 .1h0"/>
<path stroke-width="2" d="M425.3 437.3h0m32.3 .4h0m17.7-.4h0m20 .9h0m11.8-.4h0m13.4 .3h0m3.1-.2h0m6.3-.4h0m9.7 .3h0m5.7 .2h0m21.7-.4h0m16 .3h0m44.9-.2h0"/>
<path stroke-width="1" d="M451.5 438.1h0m27.3-.3h0m32.5 0h0m11.3-.1h0m5.8 .2h0m20.3 .1h0m.4-.1h0m93.8-.2h0"/>
</g>
<g stroke="#bbf243">
<path stroke-width="6" d="M348.9 437.3h0m183.4 .5h0m56.4-.6h0"/>
<path stroke-width="5" d="M387.3 436.9h0m4.7 .9h0m8.5-.2h0m40.2 0h0m1.7 .2h0m.5-.2h0m6.1-.2h0m8-.9h0m.3 1.2h0m1.3-.2h0m.2 .4h0m7.1-.3h0m3.7 .2h0m6-.2h0m1.2 0h0m2.3 0h0m1.3 0h0m.7-.8h0m2 .3h0m.3 .8h0m.2-.8h0m4.5-.5h0m1 1.1h0m.3-.3h0m.5 0h0m2.4 .2h0m5-.1h0m2.9-.2h0m2.4-.1h0m2.5 .5h0m.1-.5h0m3 1h0m14.6-.9h0m2.9 .2h0m5.9 .4h0m2.5-1.2h0m3.7 1.1h0m1.2 0h0m2.1-.2h0m2.2-.3h0m10-.4h0m0 .4h0m25.1 .1h0m14.3 .2h0m12.2 .2h0m11.9-.9h0m6.3 .7h0"/>
<path stroke-width="4" d="M419.2 438.1h0m1.4-.9h0m12.7 .5h0m5.6-.4h0m1.3 .4h0m1.4 0h0m.8-.7h0m2.8 .2h0m3.1 0h0m7.6 .2h0m.8 .4h0m.1-.3h0m1.2 .4h0m.5-.9h0m1.1 .6h0m.9 .3h0m3.5-.7h0m.9 .6h0m.5-.1h0m.1-.8h0m1 .5h0m.2 0h0m.6 .5h0m1.6-.9h0m.9 .1h0m1.1 1.1h0m1-.8h0m3.3 .3h0m.5-.1h0m.5-.4h0m.8 .1h0m.6 .3h0m1.8-.4h0m.2 .2h0m.6 .3h0m1-1.1h0m.9 1.2h0m.7 .2h0m6.2-.8h0m3.8-.1h0m.4-.2h0m.9 1.1h0m1.7-.5h0m.1-.2h0m.3 .4h0m1.4-1h0m2.6 1.1h0m1-.8h0m.6 .2h0m.7 .1h0m1.5 .1h0m3.1 .2h0m2.2 .1h0m.3-.2h0m2.7 .1h0m.9 .2h0m5.6-.2h0m4.6-.1h0m3.4 .7h0m1.7-.8h0m1.3 .3h0m1.2-.3h0m2.7 0h0m3.8 .2h0m1.6 .2h0m4.9-.8h0m2.3 .6h0m4.1-.2h0m2.5 .1h0m7.8 .7h0m6.1-.4h0m7.1-.5h0m25.1 .5h0m.4-.6h0m10.1 .1h0m4.7 .1h0m5.7-.3h0m10.1 .5h0m2.1 .1h0m1.1-.1h0m5.9 .2h0"/>
<path stroke-width="3" d="M431.6 437.8h0m2.9-.5h0m1.4-.6h0m1.7 .5h0m1.6 0h0m1.1 .5h0m.2 .3h0m15.1-.9h0m1.5 .3h0m6.1-.5h0m0 .8h0m.2-.5h0m1.9 .4h0m5-.3h0m2.6 .3h0m.5-.3h0m1.2 .3h0m3.5-.4h0m1 .6h0m1.5-.7h0m2.2 .3h0m2.1-.4h0m10.3-.1h0m3.2 .7h0m.5-.3h0m1.5 .2h0m3.8-.6h0m1.2 1.3h0m0-1.1h0m1.6 .2h0m0-.2h0m4.6 .3h0m2.8-.1h0m2.2 .1h0m2.8 .1h0m.8 .4h0m17.2-.4h0m.6-.6h0m.9 .4h0m2.3 .9h0m2.2 0h0m9.7-.3h0m7.5-.9h0m11.3 .4h0m6.2 .5h0m10.1-.1h0m1.6 .2h0m10.5-.6h0m1 0h0m20.9 .5h0"/>
<path stroke-width="2" d="M446.1 437.1h0m1.7 1h0m9.8-.9h0m7.7-.1h0m3.9 .5h0m13.9-.5h0m3.1 .6h0m3.2 .3h0m9.9-.4h0m10.5-.5h0m2.9 .7h0m1.5-.4h0m1.7-.2h0m8.9 0h0m20.5 .8h0m7.7-1.1h0m46.8 .7h0"/>
<path stroke-width="1" d="M440.6 437.2h0m19.8 .4h0m14.2-.1h0m4.2-.2h0m17.3 .3h0m1.9 .2h0m4.9-1.1h0m16.3 .9h0m29.9 .1h0"/>
<path stroke-width="6" d="M268.7 437.6h0m85.6 0h0m38.4-.4h0m1.7 .7h0m54.1-1.3h0"/>
<path stroke-width="5" d="M371.2 437.2h0m44.3 .3h0m11.1 .2h0m10-.4h0m2.1 .7h0m5.8-.7h0m4.2 .2h0m6.3-.5h0m1.3 .7h0m11.1 0h0m7.4-.7h0m.2 0h0m4.3 .1h0m2.2 .3h0m2 .6h0m.1-.1h0m1 0h0m2.9-.2h0m0 .1h0m6.4-.4h0m.6 .6h0m7.8-.7h0m.2 .1h0m1.7 0h0m11.4 .6h0m4.5-.4h0m.8-.3h0m1.4 .3h0m6.9 .2h0m6.4 .1h0m2.7-.5h0m2.2 .4h0m1-.2h0m1.5 .1h0m2.9 .1h0m4.3-.5h0m43.3-.1h0m6.1-.1h0m13.6 .4h0m21.2 .1h0"/>
<path stroke-width="4" d="M386.6 437.6h0m17.5-.1h0m23.5 .4h0m.9-.4h0m.6-.1h0m2.5-.4h0m3.2 0h0m1.7 .7h0m2.9 0h0m.9-.1h0m1.7 .2h0m1.1-.9h0m.6 1.3h0m3-.8h0m1.1 .3h0m1.5-.3h0m1 .7h0m3.1-1.1h0m3.6 .7h0m.8-.1h0m3.1 .4h0m1.8-.4h0m5.8-.2h0m1.1 .5h0m.7-.1h0m.4-.1h0m.7 .2h0m5-.4h0m5.4-.7h0m4.3 .8h0m1.4-.7h0m1.4 1.3h0m2.8-1h0m1 .8h0m1.1 0h0m.5-.5h0m1.1 .2h0m2.2 .3h0m.1-.8h0m3.8 .3h0m.4 .2h0m1.4-.1h0m1.6-.1h0m1.9-.3h0m.3 .6h0m2.4-.3h0m2-.3h0m1.8 .7h0m1.4-.7h0m2.4 .6h0m2.3-.8h0m.5 .2h0m.8-.4h0m2 .7h0m.2 .4h0m1.1 .3h0m1.1-.8h0m.1-.5h0m3 .3h0m1.1 1h0m3.8-.9h0m.3 .4h0m1.5-.1h0m.4 .2h0m3.9 .1h0m.1 0h0m3.1-.1h0m1.3-.2h0m2.9-.3h0m4.9 .7h0m3.2-1h0m.3 1h0m7-.9h0m1 .5h0m12.6-.1h0m4.5-.1h0m4.7-.5h0m2 .8h0m1.1-.2h0m12.6 .1h0m4.6-.5h0m.7 .8h0m5-.5h0m11.1 .3h0m1.4-.1h0"/>
<path stroke-width="3" d="M431.9 437.8h0m3 .2h0m10.9-.3h0m2.9 .1h0m0-1.1h0m.3 .9h0m3.8 0h0m4 0h0m2.2-.5h0m1.2 .2h0m4-.1h0m2.5 .2h0m.7-.2h0m1.6-.3h0m4.6 .3h0m.3-.3h0m.9 1.1h0m0 .2h0m2.2-1h0m.5-.1h0m1.4 .4h0m.4 .2h0m10.5 0h0m.6-.5h0m1.1 .5h0m3.6 0h0m.5 .1h0m4.9-.8h0m.2 1h0m.1-.3h0m1.9-.3h0m.9-.3h0m4.5 0h0m2.2 .6h0m.1 .3h0m1-.4h0m.2-.1h0m.7-.4h0m4.9 .5h0m.9-.3h0m3.8 0h0m2.7 .1h0m5.8-.1h0m3.4-.1h0m2.5 .8h0m.1-.4h0m10.3 .3h0m1-.2h0m.1-.1h0m9.1-.9h0m1.9 .4h0m3.6 .3h0m8.9-.5h0m2.5 0h0m20.9 .7h0m32.5-.2h0m14.4 .2h0"/>
<path stroke-width="2" d="M429 437.5h0m21.3 0h0m10.3 .4h0m10.3 0h0m3.1 0h0m6.2-.6h0m5.8 .1h0m1.4-.2h0m1.2 .2h0m1 .1h0m4.9-.2h0m17.5-.4h0m4.4 .5h0m2.5-.3h0m5.1 .4h0m11.4 0h0m15.3-.1h0m16.3 0h0m44.3 .3h0"/>
<path stroke-width="1" d="M460.8 437.9h0m50.5-.8h0m5.9 .9h0m11.2-.7h0m65-.3h0m49.5 .2h0"/>
<path stroke-width="6" d="M395.9 437.7h0m12.4-.3h0m.4-.5h0m43.5 1.2h0"/>
<path stroke-width="5" d="M423 438.1h0m17.3-.7h0m1.8 .8h0m.5-.9h0m8.5 .3h0m1.8 .2h0m.4-.4h0m1.5 .5h0m3.2-.1h0m3.7-.2h0m4.4 .1h0m3.4-.2h0m2.9-.1h0m2.2-.1h0m5.6 .6h0m8.4-.5h0m3.8 .5h0m16.2-.6h0m.2-.3h0m25.3 .3h0m4.1 .7h0m12.2 0h0m2.6-.8h0m1.2 .1h0m.8 .5h0m10.6-.3h0m11.5 .1h0m2.8-.1h0m2.5 .4h0m3-1.4h0m2.4 1.4h0m10.8-.7h0m12.1 .2h0m4.9 .2h0m17.4 0h0"/>
<path stroke-width="4" d="M398.2 437.9h0m15.3-.6h0m7.7 .2h0m11.7-.2h0m.6 .4h0m4.1-.4h0m.6 0h0m.4 .5h0m2.8-.7h0m7.6 .2h0m3.1 .5h0m.3-.4h0m.2-.3h0m0 .6h0m3.2 .3h0m2.4-.3h0m3.3-.5h0m.9 .4h0m.4-.3h0m.1 .2h0m.7 .5h0m0-.6h0m0 0h0m1.4-.1h0m.5-.1h0m.5 .7h0m.4-.6h0m1.5 .1h0m.7 .3h0m1.3 0h0m.3-.3h0m.6-.3h0m.8 .4h0m.9 .1h0m1.5-.4h0m1.6 0h0m1.3 1h0m.3-1.1h0m4.6 1.1h0m2.3-.8h0m.9 0h0m.8 .3h0m0-.4h0m.8 0h0m.2-.1h0m1.8 0h0m.4 .2h0m2.3-.2h0m.7 .6h0m4.7-.2h0m1.8-.4h0m.1 .3h0m1.8 .1h0m2.6 .3h0m.8 0h0m.2-.3h0m1.6 .3h0m1.7-.5h0m1.9-.3h0m0 .5h0m1.5-.1h0m.7 .2h0m.3-.1h0m1.2-.5h0m3 .7h0m.3-.3h0m.1-.1h0m3.1-.2h0m.2 .6h0m.5-.2h0m.1-.1h0m1 .2h0m1.2-.4h0m1.6-.2h0m.1-.1h0m.1 .5h0m2.2-.2h0m.1-.5h0m.5 1.1h0m.3-.6h0m.5 .5h0m.2 .2h0m2.9-.5h0m1.4-.4h0m.8 .9h0m0-.1h0m7.3-.3h0m1.3 0h0m.3 .1h0m3.3 0h0m.3 .2h0m2.4-.3h0m1.2-.3h0m.8 .1h0m4.2 .1h0m.6 .2h0m1.4 .1h0m5.1 .2h0m16.5-.3h0m8 .2h0m.6-.8h0m8.6 .4h0m13.7-.1h0m5.8 .2h0m5.9 .3h0m4.1-.9h0m9.9 .6h0"/>
<path stroke-width="3" d="M421 437.5h0m12.6-.3h0m11.2-.1h0m2.7 .4h0m5.3-.2h0m3.8 .9h0m11.1-.9h0m5.7 .9h0m6.9-.5h0m6.3 .2h0m1.1-.5h0m1.7 .3h0m2.5-.3h0m1 0h0m2.1-.4h0m2.7 .6h0m.4 .3h0m1.1-.2h0m3-.9h0m1.3 .4h0m.2 .1h0m.7-.1h0m4.5 .7h0m10.3-.8h0m2.4 0h0m.8 .7h0m1.9-.5h0m4.9 .4h0m1.2-1h0m2 .9h0m3.5 .4h0m4.8-1h0m2.1 .5h0m10.7 .3h0m4.2-.6h0m5.9 .3h0m19.9 0h0m.1-.1h0m11.5 .4h0m27.8-.9h0m1.8 0h0m3.1 .5h0m.1-.5h0"/>
<path stroke-width="2" d="M462.9 437.4h0m4.2 0h0m19.9-.2h0m17.1-.1h0m3 .6h0"/>
<path stroke-width="1" d="M440.8 437.7h0m40.8 .2h0m12.5-.4h0m18.3 0h0m13.7 0h0m38.9 .7h0m40.4-1.1h0m26.5 .3h0"/>
</g>
<g stroke="#e325da">
<path stroke-width="6" d="M383.6 437.2h0m9.1 .1h0m1.7 .1h0m57.8-.5h0m136.5-3.4h0"/>
<path stroke-width="5" d="M371.2 438h0m20.8-1h0m35.4 .7h0m1.1-1.5h0m1 1.4h0m2.9-.7h0m.9 0h0m5.4-.2h0m1 1.2h0m.6-.1h0m.4-1.1h0m1.4-.8h0m.3 1.4h0m2.3-.5h0m.6-.5h0m3.1 .6h0m.6-1.1h0m3.1 1.5h0m1.2-.3h0m1.5-.1h0m1.6-.3h0m.9 .2h0m0 .6h0m1.5-1h0m1.2 1h0m1.4 .3h0m1.9-.7h0m.3 .3h0m.8-.5h0m1.5-.8h0m.9 1.2h0m.2-.6h0m.6 1h0m2-.4h0m2.8-1.7h0m.5 1.3h0m.6 .7h0m2.1 .6h0m.4 0h0m1.2-.5h0m.4-1.2h0m1-.1h0m0 .9h0m.5 .1h0m.2 0h0m.9-.7h0m.2 .7h0m.9 .2h0m2.1 0h0m.1-.5h0m.1 .1h0m.1-.3h0m4.4 .5h0m0-.1h0m1.3-1.1h0m4.5 .1h0m3.4 .1h0m.5-.3h0m.4 .2h0m1.7 .7h0m3.9 1.3h0m0-1.3h0m.5 .4h0m.8 0h0m.4 .4h0m.3-1.9h0m1.9 .7h0m1.1 1.7h0m.6-.6h0m.1-1h0m.3-.5h0m2.3 .6h0m3.5-.4h0m.8 1.6h0m1.6-.2h0m2.1 .5h0m1.1-1.6h0m1.1 .9h0m1-.9h0m1.9-1h0m2.4 .5h0m.3 .3h0m3 .8h0m.7-1h0m3.3 1h0m.7 .3h0m2.2-1.1h0m.9-.2h0m.3 1.2h0m1.5-.6h0m2.8-.2h0m4.3 .2h0m3.5 .1h0m3.1 .2h0m.8-.3h0m.9-3h0m9.7 3.3h0m0-2.8h0m2.3-3.3h0m3.1 5.6h0m6.1-2.3h0m2.8 2.7h0m5.5-6.5h0m8.5 5.9h0m4.7 .1h0m.8-.1h0m.2 .9h0m.4-1.3h0m13.2-3h0m7.6 .7h0m2.3 0h0m13.1 1.5h0m4.3-1.4h0"/>
<path stroke-width="4" d="M361.2 437.1h0m52.3-.1h0m4.1 .7h0m1.6 0h0m1.4-.6h0m.3-1.2h0m3 1h0m3.9 .5h0m1.1-.8h0m1.1 .4h0m1.4-.5h0m1.9-.1h0m.3 1.2h0m2.9 .2h0m.1 .4h0m2.6-1.2h0m.7-.5h0m.2 1h0m.1 .1h0m.1-1.3h0m.6 .8h0m1.5 .1h0m2.9 .5h0m.4 .5h0m.8-.5h0m.2-.8h0m1.5-.6h0m.1 .6h0m2 .3h0m.6 .4h0m1.7-1.2h0m1.1 1.1h0m.6-.4h0m.2-.4h0m.2 .3h0m1.1 0h0m0-.5h0m.1 .7h0m.7 .1h0m1.2-.6h0m.2 0h0m3.6-.3h0m.4 .1h0m.3 .6h0m.3 .3h0m.1-.4h0m.1-.5h0m1.2 1.2h0m1.1-.4h0m.4 .6h0m.9-.4h0m.3-.4h0m.3-.1h0m.1 .7h0m0-1.1h0m0 0h0m1.4 .3h0m.1 .3h0m1.2-.7h0m1 1.6h0m.8-1.6h0m.9-.1h0m.6 .4h0m.4 0h0m.5 .8h0m.6-.4h0m2.3 .6h0m.1-.3h0m2-1.4h0m1.2 1.1h0m1-.7h0m.1-.1h0m1.3 .6h0m.2 .5h0m3-.6h0m.9-.2h0m.1 .2h0m1-.8h0m.3 1.1h0m.5-.4h0m.4 .1h0m.5-.2h0m.1-.2h0m.1 .4h0m1.1 .2h0m.5-.7h0m0 .7h0m1.5 .9h0m.4-1.8h0m0 0h0m1.1 1.2h0m.4-.8h0m1.1 1.6h0m.1-.2h0m0-1.1h0m0-.3h0m.6 0h0m.2 1.2h0m.4 0h0m.5-.4h0m.1-1.2h0m.5-.1h0m.4 1.7h0m1.3-.2h0m.3-.8h0m1.2 .7h0m.1-.7h0m.2-1h0m.2 1.4h0m.9-.5h0m1 .9h0m0-.5h0m.5-.2h0m.2 .9h0m.1-1.4h0m.1 1h0m.8-.3h0m3.7 0h0m.1 .7h0m.2-.6h0m.1 .1h0m0-1.3h0m2.2 1.3h0m.4 0h0m.7 .2h0m.4-1h0m.2 .2h0m1.2 .3h0m.8 .9h0m.2-.7h0m.1-.1h0m.5-.6h0m2.1 .3h0m.1 0h0m1.4 .5h0m.5-.3h0m.3 .4h0m.5 .8h0m1.7-1.4h0m.5 .1h0m.5-.4h0m.1 .6h0m.7 0h0m1.7-.6h0m.9-.4h0m.9 .8h0m.3-.3h0m2 1.3h0m.3-.6h0m1.7-.8h0m.6 1h0m.6-.5h0m1.2 .6h0m0-.5h0m.4 .4h0m.1-.1h0m0 .8h0m.5 0h0m1.3-1.1h0m.5 .1h0m.2 .2h0m1.2 .2h0m.2-1.2h0m.3-.5h0m4.1 .7h0m1.6 .1h0m1-.4h0m1.1 1.2h0m.6-1.2h0m.8 .3h0m.3 .7h0m.1-.9h0m2.2 .8h0m3.4-.2h0m1.4-4.6h0m2.2 4.8h0m2.4-.7h0m2.2 .8h0m2.5-2.7h0m1.3 3.6h0m10.1-5.7h0m1.9-.8h0m.4 2.3h0m.9-2.4h0m7.8 3.8h0m.2-5h0m2.6 4.6h0m6.9-3h0m1.4 .2h0m4.6 2.5h0m1.5-2.8h0m3.6 1.3h0m.4 1.2h0m1.6-.5h0m1.4-2.4h0m2.1 1.8h0m.3 .9h0m.6-1.1h0m3.1 .2h0m3.7 .9h0m1.7 .6h0m1.5-.6h0m4.9 1.9h0m2.1-3.7h0m7-.6h0m24.4 1.6h0"/>
<path stroke-width="3" d="M421 437.4h0m.3 .7h0m9-.8h0m1.3 .6h0m2.5-.8h0m5.1-.4h0m1.1 .4h0m5.4-.1h0m.9-.8h0m2.1 .4h0m0 0h0m6.9 0h0m.7 .9h0m.7 .1h0m2.4-.9h0m3.8 1.2h0m1.8-.3h0m.1-1.6h0m.2 .6h0m.1-.2h0m.4 .8h0m.7 .8h0m.1-.6h0m.1-2.1h0m.8 2h0m2.8 0h0m1.3-1h0m1.3 .6h0m.4 .5h0m1.3-1.1h0m.2 .9h0m0-.5h0m2.2 .6h0m.6 .6h0m0-.5h0m.1-.9h0m.3 .9h0m.3-.8h0m.3 1.4h0m.3-.9h0m.2 .6h0m1.4-.4h0m.6-.6h0m.8 .5h0m.5-.5h0m.4 1.3h0m.1-1.4h0m.1 .7h0m1.7-.1h0m3.6-.6h0m.1 .2h0m.5-.3h0m.5 .9h0m0-.2h0m.4-.6h0m.2-.5h0m2.7 1.1h0m.2 0h0m1.1-.8h0m1.3-.3h0m.3 .4h0m.1-.2h0m2.6-.2h0m.6 .8h0m0 0h0m.5-.4h0m1 1h0m.1-.3h0m.2-.3h0m1.5 .4h0m3.2-.1h0m1.6-.7h0m1.1 1.1h0m.3-.9h0m.5-.4h0m1.1 1.4h0m.3 .5h0m1.1-1.5h0m.1 1.5h0m1.1-.8h0m.1-.3h0m1.7-.1h0m.4-.8h0m1.8 1.2h0m.1 .1h0m.5-.3h0m1.2 .2h0m.6-.1h0m2.6-1h0m2.7 .5h0m.3-.4h0m.2 1.1h0m4.4-1.3h0m.9-.2h0m.4 .9h0m1.1 1.1h0m3.3-.5h0m1-.1h0m.5-.5h0m1 .1h0m.1-.8h0m.5 .5h0m3.2-.1h0m2.2 .1h0m.3 .4h0m4.1 .5h0m2.1-1.3h0m.6-3h0m1.3 3h0m.5 .2h0m8.3 .4h0m1.3-1.8h0m6-3.9h0m1.7 2.8h0m1 3.4h0m.8 .8h0m8.8-1h0m3.3-7.6h0m10 5.3h0m1.2-2.5h0m.4 1.6h0m7.4-1.4h0m5.1-2.7h0m1.8 6.9h0m5.5-4.4h0m9.8-4h0m2.5 4h0m0 2.8h0m.6-1.2h0m.1 .5h0m.1 3.7h0m.5-3.8h0m2.1-.5h0m4.5-3.5h0"/>
<path stroke-width="2" d="M457.6 437h0m3-.9h0m2.3 .6h0m4.2-.6h0m6.9-.2h0m6.2 .4h0m5.8 1.8h0m6.3-1h0m.7-.8h0m6.3 1.6h0m7.8-1.8h0m1.1 1.5h0m6-.5h0m2.8 .1h0m3.5 .2h0m3.1-.9h0m.4 .7h0m.8-.4h0m1.2 .9h0m.9-1.5h0m2.2 1h0m.3-1h0m10.1 1.3h0m.1-1.1h0m9.3 1.1h0m4.1-.9h0m.6 .6h0m6.6 .2h0m15.4-3.3h0m29.7-2.2h0"/>
<path stroke-width="1" d="M475 436.8h0m3.8 1.3h0m2.8-.9h0m5.8 .1h0m15.5-.7h0m7.8 1h0m.6-.5h0m11.3-.2h0m22.8 .8h0m5.5-.3h0m7.9-1.3h0m12.6-.5h0m23.7 .9h0"/>
<path stroke-width="6" d="M268.7 437.6h0m80.2-.4h0m38.2 .2h0m21.6-.7h0m39.8-.9h0m83.8 .4h0"/>
<path stroke-width="5" d="M367.4 438h0m19.9-1.3h0m13.2 .6h0m8.2 .6h0m6.8 0h0m3-.7h0m4.5-.1h0m3.6 .3h0m10.1-.6h0m1.1 .1h0m2.9-.8h0m1.9 1.3h0m.3-.6h0m1.4 .7h0m1.6-.5h0m1.4 .1h0m1.4-.3h0m3.5 .5h0m.7-.2h0m0-.4h0m.7 .1h0m.1 .8h0m.7-.4h0m.6-.9h0m1.3 .2h0m.4 .8h0m.3-.8h0m1 .3h0m3.7 .9h0m.9-1.3h0m1.5 .6h0m2 .1h0m2.9 .3h0m4.1-.4h0m.9 .3h0m.8-1h0m2 .4h0m2.6 .6h0m.3-.2h0m1.4-.4h0m.6-.8h0m.6 1.6h0m.8 .7h0m.5-1.6h0m.8 1h0m.6 .2h0m.3-.8h0m1-.4h0m2.3-.1h0m.5 .2h0m1.7 1.2h0m1.8-.7h0m1.9-.8h0m3.4 1.4h0m2.3-.7h0m1.6-.9h0m.5 .9h0m.3-.7h0m1.2 .5h0m.4-.5h0m1 .7h0m.6-.7h0m1.7 .5h0m8.1-.1h0m2.1 .8h0m5.1 0h0m6.4-.2h0m.3-.8h0m.3 .9h0m4.3 .4h0m0-1.5h0m1.2 1.8h0m2.9-1.6h0m3.3-.4h0m1.5 .9h0m.7 0h0m4.3-.2h0m1.4-.3h0m.8 .4h0m.2 .5h0m2.6-2.8h0m.5 2.5h0m.4-.5h0m6.3 1.5h0m1.3-7.3h0m9.7 4.3h0m6.2 2.1h0m1-2.4h0m2.9-1.2h0m3.9 .3h0m2.6-3.9h0m11.7 2.5h0m5.4-.9h0m2.5 4.4h0m8.2-2.2h0m1.2 1.3h0m.8-2.3h0m15.4 1.8h0m2.1-2.4h0m1.3 3.6h0"/>
<path stroke-width="4" d="M301.8 437.9h0m25.5-1.1h0m11.5 .2h0m59.2 .6h0m.2-1h0m10.1 .7h0m13.1 .4h0m4.8-.8h0m1.6 .9h0m2.3-1.2h0m.9 .7h0m1.7-1.5h0m.2 1.7h0m3.2-1.3h0m.5 .9h0m1.5-.3h0m.5 .4h0m.3 0h0m.3 0h0m.2-.5h0m.4 .6h0m.4-.2h0m1.2-.5h0m1.2 .8h0m.2-.7h0m.3 .5h0m2 .3h0m.1-.4h0m1-.5h0m1.6-.1h0m0 .3h0m.6-.3h0m.6 .5h0m.4 .1h0m.2 .3h0m1.1 .1h0m1.9-1h0m0 0h0m1.5 .3h0m1-.1h0m0-.1h0m.8-.8h0m.8 1.3h0m.1-.3h0m.2-.1h0m.4 0h0m.8 0h0m1.1 .5h0m.4-.1h0m.1-.3h0m0-.6h0m.4 .4h0m.2-.1h0m.5 .2h0m.6 .5h0m.9 0h0m.5 0h0m.4-.5h0m.2-.1h0m.1 .4h0m1.1 .1h0m.2-1.3h0m.6 1.4h0m.8-.7h0m.2 .4h0m.2 .5h0m.6-.8h0m.6 .5h0m1.7-.4h0m0 .6h0m.2 .9h0m.1-.8h0m.2-.9h0m.2-.4h0m.1 .3h0m.5 .7h0m1-.5h0m.2-.9h0m1.7 1.1h0m.1 0h0m.2 .8h0m1.1-1h0m.1-.2h0m.3 1.1h0m.2-.5h0m.4-.3h0m.2 .5h0m.4-.7h0m.4 .2h0m.4 .2h0m.5 .7h0m.5-.8h0m.8 .2h0m.2 .6h0m.4-.5h0m.3-.6h0m0 0h0m1 1.1h0m.7-.9h0m.1 .1h0m.1 .3h0m.7 0h0m2.1 .7h0m1.1-1h0m.5 .7h0m.3 .4h0m.6-.5h0m.2-.2h0m1.1-.2h0m1.4 .2h0m.6 .1h0m.9-.5h0m2.2-.3h0m0 .5h0m1-.3h0m.5 .8h0m0-.7h0m2.2 .7h0m0-.8h0m2.1-.3h0m.4 .9h0m.3 0h0m1.6-.7h0m1 .4h0m1-.2h0m.2-.9h0m.7 1h0m.9 .6h0m.5-1.1h0m.2 1.1h0m.3-1h0m.2 .7h0m.1 .9h0m0-1.3h0m.2 .7h0m.5-.2h0m.1-.7h0m.4 1h0m.7-1.8h0m.2 1h0m.7 .3h0m.8-.7h0m.1 .8h0m.4 0h0m.1-.1h0m0-.6h0m.1 1.6h0m.1-1.3h0m.2 1.4h0m.6-.7h0m.9-.6h0m.1 1h0m.6-1.1h0m.3-.3h0m.4 .5h0m.6 .2h0m.2 .4h0m.5-.4h0m.3-.2h0m.9-.1h0m2.3 .4h0m0 .8h0m.2-1.5h0m.5-.4h0m.9 .2h0m1.4 .2h0m.3 .2h0m1.3 .5h0m.7-.2h0m.4-.2h0m.2-.4h0m.2 .6h0m.2-.5h0m.4 .1h0m.2 1.1h0m.7-.7h0m.8-.1h0m2-1.3h0m.1 1.8h0m.2-1.2h0m1.7 .5h0m.3 .2h0m.2-1.2h0m.8 2.1h0m5.2-.9h0m1.2 1.2h0m.3-.2h0m.6-.3h0m1.3-.5h0m.2 1h0m.1-2h0m.4 1.1h0m1.6-1.1h0m3.9 .9h0m1-5h0m1.1 4.5h0m.4 1.6h0m0 0h0m0-1.6h0m.3 1.5h0m.8-1.5h0m1.2-3.4h0m1.5-3.8h0m.5 7.2h0m.7 .7h0m.2 0h0m.7-1.1h0m.1-1.9h0m2.4 2.5h0m1.1 1.4h0m.2-3.8h0m1.3 2.7h0m11.2-4.7h0m1.3 2.5h0m.8-1.2h0m.9-1.7h0m2.6 2.6h0m4.9-1.2h0m.5 3.7h0m1.2-4.8h0m1.6 .2h0m3.9-3.1h0m2.2 3.3h0m1.7-3.1h0m5.2 7.3h0m1 1.1h0m.1-4.9h0m.3-.3h0m.1 .8h0m4.1 3.6h0m5.6-.8h0m.2-3.4h0m2.7-2.6h0m.2 5.6h0m2.8-2.6h0m3.4-.3h0m3.1 1.7h0m3.4-1.5h0m4.4 3h0m1.5-4.5h0m.9 1.2h0m1.2 5.2h0m1.1-1h0m22.6-3.2h0"/>
<path stroke-width="3" d="M428.8 436.9h0m3.1-.1h0m1.9-.5h0m2.1 .1h0m1.7 0h0m2.9 .6h0m.6 1.2h0m3.4-.8h0m.3-.6h0m1 .3h0m3.2-.4h0m3.1 .8h0m5-.5h0m.9-.1h0m1-.2h0m4.4-.4h0m1.8 1.3h0m2.5-.7h0m1.3 0h0m1.7 .8h0m2.6-.2h0m.1-.3h0m0 .6h0m.5-1.3h0m.9 .5h0m4.5 .2h0m0 0h0m.6-.3h0m.4-.1h0m.7-.1h0m.5-.6h0m1.2 .2h0m1.5 1.1h0m.8-1.3h0m1.4 .2h0m.7 1.3h0m1.1 .6h0m.3-1.6h0m1.7-.3h0m.8 1h0m.8-.2h0m.5-.2h0m4.4-.7h0m.7 1h0m.3 .2h0m.4-1.6h0m.3 .9h0m.8 .8h0m.7-.6h0m2.3 .4h0m.5-.3h0m.9-.6h0m.1-.2h0m0 1.1h0m.5 0h0m.2-.4h0m.2 .6h0m2.5-.6h0m.5 .3h0m.8-.6h0m2-.1h0m0 .3h0m1.2-.3h0m1.7-.1h0m.1 .7h0m4.7-.3h0m1.1-.3h0m.2 .3h0m.6 1.1h0m.2-.5h0m2.2-.1h0m6.9 0h0m1.1-.3h0m.4-.2h0m1.6 0h0m.5 .1h0m1.3-.8h0m1.3 1.1h0m.2 .5h0m1.9-.5h0m3.1 .2h0m1.3-.5h0m.8 .4h0m.9-1h0m1.7 1.5h0m1.3-.4h0m1-.4h0m4.1 .4h0m1.3 .2h0m5.7-.6h0m12.5-5.1h0m4.8-1h0m2.7 2.8h0m4 0h0m5.4-3.1h0m8.1 6.9h0m6.5-4h0m8.6 .6h0m11.5 2.8h0m1.7-1h0m30.4-3.4h0"/>
<path stroke-width="2" d="M429 437.3h0m6.5-1.2h0m2.3 1.3h0m5.3-.3h0m1.9 .8h0m16.7-1.6h0m1.4 1.3h0m2.2-.1h0m3.9-.8h0m1.7-.3h0m.9 1.1h0m5.3 .1h0m1.8 .6h0m8.1-2.1h0m.2 .1h0m.2 1.3h0m1.2 .3h0m1-1.2h0m4.9-.2h0m3.4-.2h0m4.3 .3h0m1.9 .7h0m.1-.9h0m4.8 1.3h0m.8-.7h0m2.2 .8h0m.7-.5h0m.2 .9h0m.1 0h0m2.4-1h0m.6-.5h0m.4 1.1h0m1.7-.3h0m1.8 .4h0m2-1.1h0m6.1 .3h0m.3 1.2h0m1.6-1.5h0m5.5 .9h0m53.8-.8h0m1-6.4h0m37.7 2.7h0m10.8 .2h0"/>
<path stroke-width="1" d="M435.3 437.7h0m5.3-.7h0m10.1-1h0m10.1 1h0m13.8 .4h0m16.5-2.2h0m3 1.6h0m2 .5h0m1.1-.5h0m.8-.2h0m.5 .5h0m20.7-.9h0m9.2 1.1h0m2.6 0h0m5.5-.2h0m6.6-.6h0m3.2 .7h0m2.4-.4h0m.4 .1h0m82.8-4h0"/>
<path stroke-width="6" d="M343.5 437.2h0m10.8 .2h0m26.2 .3h0m15.4-.3h0m6.7 .3h0m5.7-.6h0m19.1 1h0m23-1.8h0"/>
<path stroke-width="5" d="M374.3 436.8h0m3.1-.3h0m12.3 .2h0m12.4 .3h0m1.5 1h0m4.3-.5h0m28.7-1.1h0m3.7 .3h0m.5-.4h0m3 1.4h0m.7-.2h0m5.9-.2h0m.7 .2h0m.2-.1h0m4 0h0m2.7-1.3h0m.1 .7h0m.5 .2h0m.8 .5h0m2.8-.2h0m2.3 .6h0m1.2-1.3h0m1.7 .6h0m2.1 .4h0m5.1-1.3h0m.4 .9h0m.5-.5h0m2.7 1h0m2.6-.8h0m.7-.1h0m.9-.2h0m2.2 .5h0m.6 .3h0m.4 .8h0m1.5-1.4h0m.4 .5h0m0-.9h0m.3 0h0m.3 .3h0m.2 .3h0m.6 .3h0m.7-.9h0m.3 .9h0m.9-.4h0m1.5 .6h0m.1-.5h0m1.4 .2h0m1.1-.5h0m.5 .7h0m1.8-.1h0m2.4-.2h0m2.5-.3h0m.4 1.4h0m5.7 0h0m.4-.6h0m3.8 .1h0m1.6-.5h0m.7-.4h0m1.7-.5h0m1.4 1h0m0-.9h0m.1 .7h0m3-.2h0m4.8-.2h0m2 .1h0m2 .4h0m.2-1.1h0m8 .6h0m.4 .2h0m2.8-.1h0m3.9 .4h0m.3-.5h0m.6-.3h0m3.2 .4h0m.1-1.4h0m1 2.3h0m0-.8h0m3.1-.9h0m0 1.5h0m4.9-1h0m4.8 .3h0m4 .2h0m2.3-2.6h0m.7-1.9h0m6.9 .8h0m1.1 2.3h0m1.1 .3h0m1.9 1.6h0m1.4-8.8h0m10.3 5.4h0m.8 .2h0m.6 1.9h0m4.7 .9h0m6.2-3.1h0m.2 .1h0m5.5 0h0m11.1-4.5h0m12.6 4.9h0"/>
<path stroke-width="4" d="M358.9 437.6h0m27.7-.8h0m17.5 .1h0m2.6 .5h0m0 .6h0m5.4-.4h0m9.1-.6h0m.4-.8h0m6 1.5h0m.9-.8h0m.6 .3h0m0-.3h0m2.5 .5h0m1.9-.1h0m1.3-.1h0m1.5-.2h0m1.3 .5h0m.2-.5h0m.4 0h0m.7-.4h0m.1 1.2h0m1.3 .4h0m.3-1.1h0m.2-.1h0m.8-.4h0m.4 .2h0m1-1.4h0m.5 2.2h0m.2-.5h0m1.9 .5h0m0-.5h0m2.2-.7h0m1.4 .7h0m.1 .5h0m1.4 0h0m1.4-.3h0m.3-.4h0m.2 1.3h0m.8-1.2h0m.7 .1h0m3.4 0h0m1 0h0m.9-.5h0m0-.1h0m.2 .8h0m0 .1h0m.6-.3h0m.3-.7h0m1.9 .7h0m.1 0h0m.1-.5h0m.1 0h0m.4 .4h0m.2 1.2h0m.3-.6h0m0-.8h0m.3 1.2h0m1-1.6h0m.1 .2h0m.4 .1h0m0 1.4h0m.6-1.5h0m.1-.1h0m.1-.2h0m0 .7h0m.5 0h0m.1-.3h0m1.3 .5h0m.2-.2h0m.6 .6h0m.6-.8h0m.7 .9h0m.1-.5h0m.2-.7h0m.2 0h0m.5 .7h0m.2 .9h0m.2-.2h0m1.6-.9h0m.4-.4h0m.8 0h0m.4-.1h0m.9 .2h0m.4 .3h0m.9-.2h0m1.2-.6h0m.9 .9h0m.4 .4h0m.9-.8h0m.2-.7h0m.6 2.2h0m.6-.9h0m0 0h0m1.9 0h0m.4-.5h0m.5-.4h0m1.1-.7h0m.1 2.1h0m1-1.2h0m2.1 .3h0m.1 0h0m.2 1.1h0m.4-.8h0m2.1-.4h0m.3-.3h0m.1 .5h0m.5 .2h0m.1 .1h0m1.1-1.1h0m.3 1.6h0m.8-1.8h0m.2 .4h0m.4 .1h0m0 1.2h0m.2-1.7h0m.5 1.7h0m.4 .5h0m.5-1.3h0m1-.5h0m.4 .1h0m.1 .1h0m.8 .8h0m.5 .2h0m.1-.7h0m.2 .1h0m.2-.2h0m.8 .1h0m.4 .9h0m.2-.9h0m.1-.9h0m.6 .3h0m.2 1.5h0m.3-1.1h0m.3 .3h0m.7-.8h0m.1 .7h0m1 .3h0m.5-.5h0m1 .3h0m1.6 1.2h0m.5-1.4h0m0 0h0m1.5 0h0m2.4 .2h0m.5-.3h0m.5 1.4h0m2-.8h0m.5 .4h0m1-.7h0m1.1 .6h0m.5-.1h0m.1-.7h0m.4 .1h0m.2-.3h0m0 0h0m.8-.1h0m.1 .6h0m2.4-.1h0m1.4 .5h0m.1-.8h0m.4-.4h0m.1 1.6h0m.5-1.5h0m1.3 .8h0m.3-.4h0m1.2-.1h0m1.3 .2h0m.3 .3h0m.1 .6h0m1.2-.4h0m.1 .5h0m2.1-1.5h0m.3 1.8h0m.9-1.3h0m.1-.5h0m1.7 .5h0m1.4 .5h0m1.7 .2h0m.1-1h0m3.5 .2h0m.4 .1h0m1.3-.2h0m1.1 .1h0m.6 .8h0m.1-.9h0m.3 1.5h0m.2-1h0m.7 0h0m2.9-.7h0m1.1 .4h0m.5-.1h0m.1 .9h0m.8-.4h0m2.1-2.4h0m.8 1.9h0m.4 1h0m4.3-2.8h0m.2-.8h0m.6-1.1h0m.7 4.3h0m2.2-.7h0m1.6-.6h0m0 .9h0m.6-1.9h0m9.8-3.7h0m.6 4.5h0m.2-3.2h0m.8 2.7h0m.2-1.8h0m7.8 4.2h0m.6-4h0m.4-.3h0m4.7 1.6h0m3.5-2.3h0m.1-3.1h0m.1 4.2h0m.7-1.5h0m6.8 4.6h0m.9-1.9h0m2.2 .3h0m.7-3.4h0m1.1-.3h0m1.9 1.8h0m2.1 1.5h0m6.2-2h0m2.6 1.1h0m1.8-.5h0m1.1-3h0m1.2 3.5h0m2 2.5h0m12 1h0"/>
<path stroke-width="3" d="M420.9 436.3h0m7.7-.1h0m2.9-.6h0m2.1 1.3h0m.9-.8h0m.4 1.1h0m0-.4h0m.9-.1h0m1.2-.3h0m1.3 .3h0m.9 .6h0m2.2-.3h0m2.4-.6h0m2 .4h0m1.7-.7h0m1 .7h0m1.7-.7h0m2.6 1h0m0-.2h0m2.1 .9h0m1.4-.9h0m.3 .1h0m0-.4h0m.2-.5h0m2-.1h0m1.4 1.4h0m.4-.5h0m.4-.2h0m2.1 .2h0m.1-.2h0m0 .8h0m.6 .7h0m.4-1.3h0m1.2 .3h0m2-.5h0m.3 .4h0m4.4-.2h0m.1 .9h0m0-1h0m.3 .3h0m.1-1.4h0m1 2h0m3.9-.8h0m.6 .2h0m.9-.7h0m1.6 1.1h0m1.9 0h0m.1-.7h0m2.3 .2h0m1.7 .2h0m1.1-1.1h0m1.9 1.4h0m.8-.1h0m.1-.9h0m1 .4h0m.4 .6h0m.7-.1h0m1.8 .5h0m.1-1.3h0m.5 .3h0m.1 1.3h0m.1-.9h0m.4-.7h0m1.3 .7h0m.8 0h0m.4-.8h0m1.7 1.1h0m1-1.6h0m1.7 1.1h0m1-1.1h0m.3 1.3h0m1.6-.7h0m1.2-.6h0m.4 .9h0m4 .2h0m.6-.3h0m.2-.3h0m.5 .6h0m1.4-.3h0m.2 1.1h0m1.5-1.4h0m.2 .5h0m.1 .4h0m.3-.6h0m.3 .8h0m.1-.3h0m1.5 .5h0m.1-1.8h0m1.8 1.2h0m1.3-.2h0m.8-.3h0m1.4-.2h0m2.1 1.3h0m.4-.8h0m4.6-.4h0m3.4-.4h0m2.5 .7h0m1.8 .4h0m.8 .3h0m1.8-.2h0m8.9-.7h0m3.9-.2h0m.9 .2h0m.3 .6h0m2.2-2.8h0m.8 2.2h0m3.1 1.3h0m1.6-1.2h0m1.2-3.6h0m4.1 .7h0m0-2.8h0m4.2-.7h0m1.9 3.4h0m4.3 .4h0m5.5 4h0m3.2-.6h0m0-1.3h0m1.7-4h0m1.3-.6h0m.3-.6h0m4.6 2.4h0m5.6 1.4h0m1-1.8h0m20.9-1h0m11.9 .9h0m7.5 3.5h0"/>
<path stroke-width="2" d="M425.3 438.2h0m16-.5h0m4.8-1.9h0m.6 .3h0m1.1 1.1h0m2.5 0h0m3.5 0h0m9.5 .3h0m12-.4h0m7.8 .1h0m3.1 .1h0m3.2-1.3h0m.1 1.1h0m5.8 .2h0m2.7-1.4h0m8.9 .5h0m9 .2h0m3 .5h0m4.2 .4h0m2.2-1.6h0m7.3 .7h0m12.7 .3h0m5.4 .3h0m8.5-1.2h0m7.8-2.9h0m15 3h0m1-2.6h0m.4 4.7h0m16.4-5.1h0m11.5 3.3h0m1.8-2.6h0m48.9 3.3h0"/>
<path stroke-width="1" d="M431.6 436.6h0m8.9 .8h0m.3-.3h0m10.7-.6h0m8.9 .8h0m25.8-.8h0m26.2 .3h0m1.3 .8h0m3.3-.8h0m.2-.1h0m3.3 .5h0m5.6-.2h0m1.2 .6h0m12.7 .1h0m25-.6h0m14.1-.4h0m14.3-1.3h0m12 1.2h0m37.5-3h0"/>
</g>
<g stroke="#8a05b4">
<path stroke-width="6" d="M268.7 436.1h0m114.9 .5h0m3.5-2.1h0m8.8 1.4h0m56.3-2.2h0m136.5 3.2h0"/>
<path stroke-width="5" d="M374.3 435.9h0m29.3 1.5h0m5.1-2.6h0m14.3-1.2h0m3.6 1.4h0m.8-.9h0m5 2.2h0m.9-.2h0m4.5-1.2h0m1.9 2.4h0m.6-.3h0m0-1.3h0m.4-1.5h0m.1 .4h0m3-1.1h0m.5 .5h0m.2 .6h0m5.9 .5h0m.9-.5h0m.9 .9h0m1.4-.5h0m2.7 .2h0m.4-.2h0m.3 .7h0m.3-2.6h0m.8 1.2h0m.5 1.2h0m3.1-.2h0m.5-.3h0m3.7-1.3h0m1.1 2h0m2-.6h0m.6 0h0m2.8-.9h0m.7 3.3h0m4.5-2.9h0m1-.7h0m0 .4h0m.7 .4h0m.1 1.2h0m.3-.8h0m.5-1h0m1.1 1.5h0m.2-1.6h0m.8 1h0m.8-.1h0m.5 .5h0m.1-1h0m.9 2.5h0m.7-.8h0m.3-1.1h0m2.2-.4h0m.3 .2h0m1-.5h0m.3 1.5h0m.2 1.3h0m.3-2.3h0m.9-.6h0m1.8 1.1h0m1.9-.3h0m.4 .1h0m3.3-.8h0m3.6 2.4h0m.3-2.7h0m.2-.5h0m.2 3.6h0m1.7-1.4h0m1.6 0h0m0-1.8h0m1.9 2.1h0m2.1 .2h0m2.6-2.8h0m5.3 1h0m.2-.1h0m.1 1.6h0m2.1-2h0m3.2-1h0m4.3 1.9h0m6.5 1.2h0m4.1-2.5h0m2.9 1.9h0m2.2 .5h0m2-.3h0m.6 1h0m3.2-2.7h0m.3-1.4h0m.8 2.7h0m0-1.9h0m0 1.8h0m.9-1.1h0m1.9-3.4h0m5.2 5.6h0m4.8-1.1h0m13.9-4.6h0m.5 5.3h0m1-8.4h0m1.5-.5h0m5.3 4.2h0m.2-.8h0m2.4-1.1h0m4.9 5.1h0m.8-5h0m5.3 1.6h0m.7 1.3h0m.5 .6h0m5.2-2.9h0m8 5.2h0m7.6-3.8h0m13.6 1.5h0m.7-3h0m1.3 .8h0m4.1 4.4h0"/>
<path stroke-width="4" d="M301.8 437.4h0m25.5-.9h0m33.9-.3h0m45.5-1.1h0m1.6 2h0m12.9-2.8h0m8.9 .4h0m.9-1.4h0m.4 .9h0m1.9-.5h0m.3 .2h0m2.5 1.5h0m.4 0h0m1.1-2.4h0m.2 3.6h0m.3-1.2h0m.8 .2h0m.1 .8h0m.2-1.2h0m.2 .9h0m.5-1.7h0m.2 1h0m.5-.2h0m.2-.6h0m1.6 1h0m.2-.9h0m.5 .1h0m.6 1.5h0m1.4-.7h0m1.4 1h0m1.3-1.3h0m.4 .2h0m.8 .3h0m.3-2.7h0m.1 2.3h0m.2-.1h0m1.1-.3h0m.2 .3h0m1.5 .1h0m.2 1.1h0m1.1-1.9h0m.4 .2h0m1.8 .1h0m1.5 1.7h0m.8 .2h0m1.5-.2h0m.5-.6h0m.3-1.4h0m.4 1.9h0m.6-1.6h0m.1 1.3h0m.4-2h0m.6-.4h0m.1 1.3h0m.1-1h0m.1 .4h0m.4-.7h0m0 1.8h0m.3-1.9h0m0 1.8h0m.4-.7h0m.7 0h0m.2-1.8h0m1.2 1.4h0m.1 2.1h0m.1-2h0m.1-.6h0m.3 1.4h0m0-1.1h0m.1 .3h0m.3 0h0m1 .4h0m.2 .3h0m2 .1h0m0-1.1h0m.4 .3h0m.9 1.8h0m.5-1.9h0m.4 .2h0m.6 .5h0m.7 .3h0m.1-1.3h0m.2 1.9h0m.5 0h0m.2-1.2h0m2.2 .9h0m1.2-1.3h0m.9 .4h0m.3 2.2h0m.1-2.3h0m.8 2.4h0m0-.8h0m.1-.4h0m.8-1.8h0m.6 .7h0m0 .2h0m1 .1h0m.9-.2h0m2.1-1.1h0m.3 1.2h0m.6-.5h0m.1 .3h0m1.8-.2h0m.4 .9h0m.2 .3h0m.5 0h0m1.6 .1h0m.4-1h0m.3 1.6h0m1.2-1.1h0m.6 0h0m.5-1h0m.4 1.6h0m.4-1h0m.3 1.4h0m.3-2.8h0m.2-.6h0m0 2.2h0m.3 1.3h0m.5-1.8h0m.9 .4h0m0 .2h0m.1-.8h0m2.4-.5h0m1.3 .8h0m.1 .7h0m.3-1.8h0m.1 .5h0m.6 .5h0m.2-.4h0m.1 .7h0m.2-.4h0m1 .5h0m.6 1h0m.1-1h0m.2 .1h0m.2 2h0m1.4-3.2h0m.3 1.3h0m.3 .8h0m.2-.7h0m2.3 .6h0m.6-1.7h0m.6 2.6h0m.4-1h0m.1-.8h0m.4-2h0m.5 1.8h0m.1 .6h0m.9-.6h0m.4 .1h0m2.2-.7h0m1.3 2.4h0m1.3-1.5h0m1 .2h0m0-.3h0m1.8 1h0m1.5 .9h0m1.2-.7h0m.1-.6h0m0-1.6h0m.2 1.7h0m1-1.3h0m.9 .2h0m.4-.3h0m.5 .3h0m2.9-1h0m.2 2.6h0m3-2.7h0m0 1.4h0m.6-.2h0m.7-.9h0m.5 .5h0m.5 1h0m0 .6h0m3.7-.3h0m.1-.5h0m.1-.3h0m.3 1.3h0m2.3-1.1h0m.1 .3h0m.4 .4h0m2.1-.3h0m3 2.3h0m.4-.9h0m.1-2.7h0m.8-.2h0m.1-2.1h0m.2 3.2h0m1.3 .7h0m0-5.5h0m0 5h0m1-.1h0m.1-4h0m0-4h0m3.2 9.1h0m.1-2.9h0m1.4 .3h0m0 2.3h0m.2-4.6h0m2 3.1h0m1.5-2.3h0m.6-1.2h0m.8 .1h0m.1 4.3h0m.6-6.1h0m2.2 5.8h0m1.6-1h0m11-6.4h0m1.4 1.3h0m5.4 1.7h0m1.2-2.4h0m1 4.2h0m2.1 2.9h0m.2-.1h0m2.2-7.2h0m1.2 7.8h0m4.4-8.4h0m4.9 1h0m1.9 3.3h0m2.3-1.1h0m.1 3.1h0m4 2.3h0m.4-9.4h0m1.3 9.6h0m2.7-.3h0m3-9.1h0m1.3 5.6h0m.4 1.2h0m1.7-4.3h0m2.3 3.7h0m.8-4h0m.6 8.9h0m.9-7.5h0m2 2.2h0m6.7 .4h0m2.3-4.6h0m3 5.9h0"/>
<path stroke-width="3" d="M421 435.1h0m7.8 .3h0m4.8-.9h0m2.3 .8h0m3.3-.2h0m1.9-1.5h0m.3 3h0m3.1-.1h0m.3-1.6h0m3.9 1.1h0m0-1.3h0m.3-.4h0m1.2 1.3h0m1.9-1.6h0m6.7-.3h0m5.4 2.8h0m.9-1.3h0m.1 .1h0m.2-.4h0m1.3 .6h0m.8 .7h0m3.2-1.1h0m1.5-1.7h0m1.1 1.8h0m.1 .8h0m.2-.6h0m1.2 1h0m2.7-.2h0m.1-1h0m0 1.9h0m1-2.2h0m.3 0h0m2.1-1.9h0m.5 3h0m.9-1.5h0m1.8-.2h0m.8 .7h0m2.1 0h0m2.3-.3h0m.6-.2h0m.2-.4h0m.2 1.9h0m1.9-.7h0m2.8 .5h0m.2-1.7h0m2.1 1.4h0m.7-.3h0m.2-.1h0m.1 .4h0m1-.3h0m.5-.9h0m.6 1.5h0m3-2h0m.2 .9h0m0 1.3h0m.9-1.4h0m.8-.1h0m0 0h0m3 .7h0m0-.3h0m1.9 .9h0m.7-1.5h0m.4 0h0m.1-1h0m.1 1.5h0m.7-.7h0m.3 1.1h0m.1 .6h0m1-2.2h0m2.6 1.6h0m.3-.5h0m.1 .7h0m1.2 1.6h0m1.1-1.2h0m1 .8h0m1.6-2.3h0m.8 1.4h0m.9-2h0m1 1.1h0m1.5 1h0m3.4-1.7h0m1.2-.1h0m.4-.9h0m.8 1.6h0m1.3-.6h0m3 .1h0m.5 1.3h0m1-.2h0m.6-.7h0m.9 .8h0m3.9 1.3h0m.6 .5h0m.3-2.8h0m1.7 1.3h0m8.1 .4h0m4.2-2.1h0m3.1 .9h0m1.1-5.6h0m.5 5h0m1.2 2.7h0m7-3.2h0m.8-10.7h0m4.7 13.1h0m4.1-4.7h0m6.6 1.8h0m3.3-3.3h0m4.6-1.1h0m0 6.1h0m27.5-2.8h0m.7 1.6h0m5-1.1h0m2.7 .6h0"/>
<path stroke-width="2" d="M429 434.9h0m14.1-1.8h0m3 2.1h0m7.7 1.3h0m3.8-1.3h0m5.3-1.3h0m.2 1.3h0m7.8-.1h0m4.4-1.1h0m3.6 2h0m7.1-.8h0m1.2-.5h0m17 .8h0m5.6-1.4h0m6.2 1.3h0m5.9-.1h0m2.9-.9h0m.5-.9h0m.7 2.9h0m.9 0h0m1.4-1.9h0m1.1 .6h0m.5 .8h0m2.7-.1h0m6.9-.6h0m13.5 .2h0m.6 0h0m13.4-4.5h0m16.4 3.3h0m27.9-7.6h0m16.6 8.2h0"/>
<path stroke-width="1" d="M460.4 435h0m.4 .2h0m13.8-.7h0m.4 1.3h0m23-.8h0m14.4 .3h0m4.6 0h0m.2-1.6h0m11.2 1.5h0m20.7-1.2h0m9.7-2.2h0"/>
<path stroke-width="6" d="M348.9 436.7h0m31.6-1.2h0m22.1 1.9h0m5.7 .6h0m.4-1.4h0m18.7-1.1h0m21.1-1.8h0m1.9 1.8h0m81.9 .3h0"/>
<path stroke-width="5" d="M367.4 437.1h0m10 .9h0m9.9-1h0m2.4-1.7h0m10.8 1.1h0m15-.3h0m13-1.5h0m13.6 1.4h0m.3-1.4h0m.2 1.3h0m4.7-.2h0m1.4-2.4h0m3.4 2h0m.8-1.6h0m0 .8h0m.4-.4h0m.4 1h0m.7 .4h0m.4-.2h0m.2 .9h0m2.3 1.3h0m2.7-2.4h0m1.4 .5h0m1.2-.5h0m1 1.6h0m2.1-1.8h0m1.1 .6h0m2.7 .8h0m3.4-.9h0m.6-.1h0m1.3-1h0m.8 .9h0m.4-.4h0m.8-.8h0m.4 1.8h0m3.2-.6h0m.4 .2h0m1.6-1.9h0m1 .7h0m.1 1.3h0m.9-1.4h0m1.9 1.8h0m.8-2.1h0m1-.2h0m0 .6h0m.2 .1h0m.3 .8h0m.3-.8h0m1.9 1.5h0m1.6 1.1h0m1.4-2.7h0m1.6 .4h0m1.8 .3h0m.6 .5h0m1.8-.4h0m.3 .1h0m2.7 .9h0m1.2-1.4h0m1.4-.4h0m3-.9h0m.4 2h0m.2-1.3h0m.7 .9h0m2.6-1h0m1.9 .5h0m.7 .1h0m1.7 .3h0m0-.7h0m4.5 .4h0m1.9 .6h0m2.9 2.5h0m2-2.7h0m.2 .7h0m1.9-.6h0m4.3 .8h0m.8 1h0m.4-1.8h0m.3 .3h0m3.1-.4h0m9.3-.3h0m1.2 1.7h0m4.1-.6h0m.6-.4h0m2-2h0m4.3 4.9h0m6.8-8.8h0m.9 2h0m2.1-.6h0m1-.8h0m8.1 .7h0m1.9 1.3h0m12.9-9.7h0m5.5 15.5h0m.2-7h0m5.3-.5h0m.1-.3h0m5.7-2h0m4.9 3.8h0m2-2.3h0m4.2-3.1h0"/>
<path stroke-width="4" d="M338.8 435.9h0m74.7 .8h0m4.1-.3h0m1.6-.3h0m2.2-.3h0m6.4 0h0m0 .3h0m2.2 .2h0m1.6-.8h0m1.1 1.6h0m.8-3.5h0m3.1 3.3h0m2-2h0m.3 .2h0m1.3 .3h0m.7 .2h0m.5-.1h0m.6-1.3h0m1 1h0m.5-.7h0m1.8 .6h0m2.5-.5h0m0-1.1h0m.5 2.5h0m.1-1.2h0m.8-1.1h0m1.5 1.7h0m1.9 1.1h0m0-2.1h0m1.7 .9h0m.2 .3h0m.6-.1h0m.7-1.3h0m1.7-.6h0m.3 2.6h0m1.6-2.1h0m.2 1h0m0 0h0m.2 .5h0m.4-1.2h0m2.4 2.1h0m.1-1.9h0m.8-1.1h0m.1 2.6h0m.3-.2h0m1-.4h0m.5 0h0m1.6-.6h0m.1-.5h0m.2 .1h0m1.2 1.2h0m1-2.5h0m.3 1.5h0m.1-.2h0m.5-.3h0m.1 2.8h0m.9-1.6h0m.2 .8h0m.3 .2h0m1.3-.6h0m.3-1.3h0m.5 2.2h0m.4-1.9h0m1.4-.3h0m.3 .8h0m.9 .9h0m.2-1.2h0m.9 .3h0m.5-.8h0m.4-.8h0m.6-.1h0m.4 3h0m.6-.8h0m.6-.4h0m.1-.3h0m.7 1h0m.6-.9h0m.3-1.9h0m2.1 1.6h0m.8 .6h0m.8 1.3h0m.3-3h0m.6-.7h0m1.5 3.1h0m.6 .7h0m.6-2.7h0m.6 1.1h0m0-.3h0m.9-.5h0m.9-.4h0m.2 .1h0m.4 .3h0m.7-1.1h0m.2 3.1h0m1.4-2.4h0m.3 1.2h0m.1 0h0m.7 .2h0m1-1.5h0m.5 2h0m.1 0h0m.4-.6h0m0 .4h0m1.1-.2h0m.2-1.8h0m.3 2.5h0m0-1.8h0m.2 1h0m1.2 .8h0m.1-.9h0m.2 .5h0m.1-1.1h0m1.8 .6h0m.2-.7h0m.2 2.4h0m1.3-.8h0m.3-1.8h0m.5 .2h0m1.5 .5h0m.4-.4h0m1-.4h0m0 1h0m.1 1h0m.6-2.7h0m.8 .8h0m.6 .6h0m.2-.2h0m1.8-.9h0m0 1.7h0m.6-.9h0m.8 .7h0m.7-1.3h0m.1-.4h0m.2 1.2h0m.2-.1h0m.2 .4h0m2.1 .1h0m.5 .3h0m.1 0h0m.6-1.9h0m0 1.5h0m.5-1.7h0m1.1 2h0m1.7-2.3h0m.7 3.4h0m.7-2.1h0m.6 .8h0m.4 1.8h0m.2-2.7h0m.2 1.1h0m.2 0h0m.6-1.8h0m.1 1.7h0m.9-.7h0m.9 .8h0m1.1-.6h0m1.2 1.3h0m.3-.8h0m.1-.8h0m.1 .5h0m.8-1h0m.3 2.8h0m.2-.6h0m.2-.3h0m.9 .1h0m.9-1.4h0m.6 .5h0m.4-.8h0m.8 .9h0m1.1 .1h0m.5-.6h0m.2 .8h0m.4 .1h0m1-.2h0m.2 .7h0m2.2 0h0m1.1-1.2h0m2.5 .2h0m.3 0h0m.6 .4h0m.1-.1h0m.3-2.3h0m.2 1.6h0m3.2 0h0m.4 1h0m1.6-1.4h0m3-7.2h0m.8 8h0m3 1.1h0m1.3-8.6h0m.6 4.8h0m2.3 2.3h0m2.5 .3h0m.9-.1h0m.4-2.9h0m7.1 1.7h0m1.7-.3h0m.6-5.2h0m1.6 5h0m2.3-.8h0m3 1.8h0m3.3-.6h0m8.6 3.3h0m.1-1.7h0m2.5-6.9h0m1.4 4.3h0m.4-.6h0m1 .7h0m.5 1.8h0m2.7 .1h0m5.1-4.9h0m1.9-2.8h0m1 2.7h0m.5 3.1h0m1.6-2.3h0m.5 .3h0m.3-1.5h0m10.6 3h0m1.3-2.6h0m5.7 6.1h0m.2-2.1h0m2.1-2.6h0m4.7-2.2h0m24.4 8.2h0"/>
<path stroke-width="3" d="M428.6 433.8h0m1.7 1.3h0m1.6 1.5h0m2.2-.3h0m.8-1.4h0m.9-.4h0m1.2 1.5h0m1.3 .7h0m.9-2.2h0m4.6-.5h0m1.9 2.7h0m.1 0h0m.8-2.1h0m6.2 0h0m0 1.3h0m3.5-.6h0m.3 .1h0m.5 1.3h0m1.9-.9h0m1.6-.2h0m.4 .2h0m2.1 1.3h0m.1-1.9h0m1.8 .5h0m.3-1.1h0m.1 .9h0m.4-.5h0m.8 0h0m.8 1h0m1.6-2h0m1.3 1.8h0m1.8-2h0m.4 1.3h0m.4-.7h0m.4 1.8h0m.1-1.3h0m1.4-.6h0m2.9 0h0m.3 2h0m2.3-2.4h0m.2 .5h0m.6 1.3h0m1.5-1h0m.3-1.9h0m3.7 1.9h0m1.1 .2h0m.6 .6h0m.1 .2h0m.1 0h0m1.1-1.4h0m.2 1.3h0m.7 .3h0m1-1.3h0m.4-2h0m.8 2.5h0m.2 1.8h0m1.5 0h0m.8-1.4h0m.4-2.1h0m1.1 .8h0m1-.3h0m0 1.9h0m.4-.6h0m.8 0h0m.3-.7h0m3 .3h0m.3 .2h0m4.5-.6h0m1.1-1.1h0m2.3 1.9h0m3-.2h0m1 1.1h0m1.2-2.5h0m.1 3.5h0m1.5-3.4h0m.8 1.3h0m.4-1h0m.8 1.1h0m.2 .5h0m.8-.1h0m1.7-1.2h0m2.9 1.7h0m.6 .1h0m4.7-.4h0m2.3-1.2h0m1.4 1h0m1.1-1.3h0m5.8 2.4h0m1.3-2.1h0m4.7-2h0m2.9 2.5h0m.9-2.3h0m4.2 2.2h0m2.2-9h0m10.8 .2h0m.2 2.4h0m1.7 8.3h0m1.7-4.9h0m.6 1.2h0m1.9-7.8h0m5 7.6h0m8 3.1h0m1.4-5.5h0m5.3-2.7h0m1.6 1.4h0m1.2 5.5h0m6.5-.1h0m8.6-1.4h0m3.5-3h0m12.3 4h0m0-1h0m.8-2.2h0m27-.6h0"/>
<path stroke-width="2" d="M441.3 435.1h0m3.7-.5h0m15.6 .8h0m11.2 1.1h0m11.3-2.2h0m5.5 1.1h0m.9-.9h0m3.5 1.6h0m1.5-.6h0m.8-1.1h0m2.6-.8h0m.1 1.8h0m4.2-.3h0m1.9 1h0m2.8-1h0m.2-.3h0m1.1 .5h0m.8 .6h0m3.7-1.4h0m.2 .1h0m3 .7h0m2.2-1.3h0m1.8 .6h0m3.2 .5h0m.9-1.8h0m4 1.7h0m1.1-.5h0m10.5 1.5h0m5.7 .2h0m13.9-2.4h0m16.4-2.3h0m6.4 2.3h0m7.2-4.3h0m1 .3h0m9.6-1.4h0m38.9 3.2h0m23.3-2.9h0"/>
<path stroke-width="1" d="M431.6 434.4h0m3.7 .8h0m5.2-.4h0m.1-1.3h0m.2 1.9h0m9.9-.8h0m.8 1.2h0m30.1-1.2h0m5.8-.1h0m6.7 .3h0m2 1.4h0m1.1-.3h0m13.5-1.1h0m.6 .6h0m7.9 1.5h0m8.1-1.3h0m12.7-.8h0m3.1 .2h0m3.2 .1h0m2.4 1h0m16.3 .3h0m14.1-8.1h0m16 2.7h0m47.8 1.1h0"/>
<path stroke-width="6" d="M343.5 435.2h0m10.8 1.3h0m38.4 .8h0m1.7-1.6h0"/>
<path stroke-width="5" d="M371.2 435.7h0m20.8 1.1h0m10.1-.2h0m5.8-1.5h0m10.6 .6h0m11-1h0m7.1 1.1h0m.1-1h0m2 1.1h0m2-.5h0m2.2 .2h0m1.8-1h0m.6 .6h0m.6-.6h0m2.5-.4h0m.6 .4h0m2.1 1.4h0m4.2 .9h0m1.1-1.1h0m1.6-2.1h0m0 2.2h0m.8-1.5h0m.6 1.4h0m3.9-1.6h0m.8 1.4h0m.3-1.3h0m.1 .9h0m1.6 .9h0m1.3-.1h0m.2-2.6h0m6.4 2.7h0m.6-.3h0m.4-.9h0m.5-1.2h0m2.7 .1h0m.9 1.3h0m2 .4h0m.6-2.3h0m1.9 .4h0m1.4 2.1h0m.2-.7h0m2.3-1.8h0m0 1.6h0m4.8-.1h0m1.6-1.3h0m3.4 .4h0m.6 2.3h0m2.3-1.2h0m3.6-.1h0m0 2.7h0m.5-3.2h0m.8-.1h0m.4 1.4h0m2-.6h0m1.9-1.5h0m6.2-.6h0m0 1.2h0m2.2 1.4h0m0-.2h0m3.4-2.4h0m1.1 1.7h0m2.9 .4h0m4 .1h0m.3-.1h0m.2-.5h0m.2 1h0m1 .4h0m.7-1.4h0m6.2-.3h0m.1-.8h0m.4-.6h0m.7 2h0m1.5 .3h0m1 .9h0m1.5-2.7h0m.7 2.2h0m1.3-.4h0m2.6-.1h0m2.8 0h0m2.9 .2h0m.2-.1h0m.7 .6h0m.8-2.4h0m6.5-2.5h0m4.1 4.6h0m0-2.6h0m3.7 2.5h0m1.9-1.6h0m5.9 2.2h0m.9-6h0m3.3-.2h0m1.1 7.4h0m11.7-1.8h0m4.5-4.6h0m8.8 1.5h0m9.4-1h0m6.3 .5h0m9.9-3.2h0m3.2 4h0"/>
<path stroke-width="4" d="M358.9 434.5h0m27.7 .8h0m11.4 .6h0m.2-.6h0m5.9 1.3h0m2.6-1.5h0m5.4 2.3h0m8.5-2.9h0m.3 1h0m.7-1.2h0m2.3 2h0m2.3-1.1h0m1.4 1.3h0m.9 .5h0m.4-1.9h0m.2-1.8h0m0 3.2h0m3.8-.6h0m1.9-1.3h0m1.5-.3h0m.3-1.5h0m1.6 1.5h0m1 1.4h0m.6-.8h0m.4-.4h0m.1 .8h0m0-1h0m1.3 1.1h0m1.2-2.3h0m2.4 2.2h0m.4-3h0m0 2.8h0m.1 .8h0m.5-.7h0m.5-1.4h0m3.6 3.6h0m1.8-1.2h0m.5-1.2h0m.8 .3h0m.7-.7h0m.6 .7h0m.4-.7h0m.7-.7h0m.1 1.1h0m.7 1.5h0m.1-4h0m.1 2.2h0m.2 .6h0m1-.8h0m.5 .1h0m.8-.7h0m.1 2.2h0m.4-.9h0m.6-.4h0m1.9 .8h0m.1 .2h0m0 .3h0m.1-.9h0m.6 0h0m1.9-1.5h0m.1 1.9h0m.3-1.3h0m.1 1.9h0m0-2.6h0m.5 2h0m.2-1.2h0m.3-.4h0m.2 .4h0m.4 .3h0m.8-.4h0m.7 1.3h0m.3 .5h0m.7-1.8h0m0 .9h0m.2-1.7h0m.3 2.6h0m.1-.4h0m.6-1.1h0m.1 .8h0m.3 .6h0m2.4-.7h0m1.6 .9h0m.1-1.8h0m.3 .9h0m.1 .2h0m.5-1h0m.2 1.3h0m.4-1.6h0m.1 1.5h0m.7-.5h0m2.6 .8h0m1.1-1.8h0m.8 .4h0m.1-.3h0m1.9 .6h0m.5-.9h0m1.1 1.2h0m1.1 .6h0m.9-.7h0m.1-1.1h0m.3 .5h0m.7 1.2h0m.1 .8h0m.6-1.9h0m.1-.4h0m1.7 1.4h0m.8 .3h0m.6-.1h0m1.2-.9h0m1 .3h0m0-1.4h0m.5 1h0m.1-.9h0m1 2h0m.6-1h0m0 .3h0m1.4-1.1h0m.9 .2h0m.5-.6h0m.1 .8h0m.4-.1h0m.8-.1h0m1.8 .5h0m.3-.8h0m.5-.5h0m.3 1.9h0m.2-.4h0m.2 1.9h0m1.1 .2h0m1-3.3h0m.4 1h0m.1 1.4h0m.8-1.3h0m.4 1.1h0m.4-1.3h0m0 .3h0m.3 .3h0m.5-1.4h0m.1 .6h0m1.8-.5h0m.4-.3h0m.8 1.9h0m.3-1.4h0m.2 .4h0m.4 1.8h0m.7-1.4h0m.4 .1h0m.6-.5h0m.4 1.4h0m.6-.6h0m.1-1.4h0m.8 .9h0m1.4 .1h0m.7 .5h0m.4-.7h0m.5 .2h0m.1-1.4h0m.1 1.2h0m.1 2.5h0m.3-1.6h0m1.7-.7h0m.5 0h0m1.7 .2h0m.1 .8h0m0-1.6h0m2.1 .2h0m1 .5h0m.2-.1h0m.5 .7h0m1.1-1.8h0m.1 1.9h0m.1-.8h0m3.3 0h0m2.8-.2h0m1.6 1.1h0m2.3-1h0m.6 .7h0m2.8-.6h0m.5 .1h0m.3-1.1h0m2.3 1.5h0m1.1 .1h0m1.8-1.2h0m1.5 .3h0m1.4-.8h0m.6-1.3h0m.2 1h0m1.3-2.8h0m1.2 3.5h0m.2-.4h0m.7-1.7h0m4.5 1.9h0m5-5.2h0m6.8 3.8h0m2.1-5.4h0m2.2 3.1h0m.1 5.1h0m1-3.7h0m.8 0h0m.4 1.6h0m7.2-5.8h0m.4 2.7h0m3.9 2.2h0m1.8-.9h0m1.7 3h0m1-1.6h0m5.3-2.5h0m3.1-3.1h0m2.2 5.4h0m.7-4.4h0m1.1 2.4h0m3.1 1.6h0m4.4-3.4h0m5.3 3.9h0m1.5-5.1h0m1.4 9.4h0m6.7-11.5h0m.8 5.7h0m27.3-2.4h0"/>
<path stroke-width="3" d="M420.9 434h0m.4 1.1h0m10.2-.2h0m.1-.3h0m2.2 1h0m.7-1.4h0m.4 1h0m2.7-.3h0m2.7 2.4h0m.2-2.3h0m5.3 .1h0m1.7 0h0m1 .4h0m6.4-1.6h0m.7 2h0m.7-1.5h0m.3-.1h0m.2-.7h0m.2 2.2h0m1-.7h0m1.4-1.8h0m.8 1.5h0m3 .1h0m0 1.4h0m.2-1.1h0m.4-1h0m2.7 2.2h0m1.2-1.1h0m0-.3h0m3.9 .9h0m.6 0h0m.4-.6h0m1.3-1.1h0m.7 3.3h0m.2-2.3h0m2.2 .8h0m1.1-1.5h0m.2 1.1h0m.7-.6h0m.1-.4h0m.2 .4h0m0 0h0m.6 .1h0m.7 2.2h0m1.3-.9h0m.6-1h0m.2-1.2h0m.1 1.1h0m.2-1h0m1.7 .6h0m.2 1.3h0m1.5-2.1h0m1.8 .7h0m.7-.7h0m.5 1.8h0m1.6-.7h0m.8 1h0m.8-.3h0m1.4 .1h0m.5-1.6h0m.5 .7h0m.6 .2h0m.1 0h0m1.2 .1h0m2 .6h0m.9-1.6h0m.6 1.3h0m.3-.5h0m.1-1.3h0m1.4 1.6h0m.5-.3h0m.9-.7h0m.2-.7h0m.4 1.6h0m.2-1.2h0m2.2-.3h0m.4 1.5h0m.1-1.2h0m.5 2.6h0m1.3-.8h0m1.1-.5h0m.4-1.1h0m1.2-.3h0m.2 1.2h0m1.5 .2h0m.6-.6h0m.9 .4h0m.6-.9h0m.6 1h0m.4 0h0m1.7 .7h0m1.7-.1h0m1.3 .4h0m3.5-2.6h0m4.7-.5h0m1.1 1.9h0m.1-.6h0m3.7 .1h0m1.3 1.2h0m.2-1.8h0m.6 .6h0m1.2 .5h0m.1-.3h0m.5 2.1h0m2.6-1.7h0m.5-.2h0m2.5-.7h0m4 .2h0m.1-.1h0m2.1-1.5h0m1.9 1.7h0m0 .7h0m.5-1.2h0m.8-2.1h0m1.3 3.2h0m4.4-.5h0m1.8-.8h0m7.1-8.2h0m10.4 6.1h0m4.7-2.7h0m.7-1.6h0m.1 5.3h0m4.9-5h0m1.3 4.1h0m10.5-.9h0m1-3.4h0m1.2 4.2h0m5.1 1.4h0m1.8-2.5h0m15.2 2h0m.1-.2h0m3.1-.1h0m.7-1.1h0m5.6-2.2h0m1 2.9h0m6.5 3.6h0"/>
<path stroke-width="2" d="M425.3 435.4h0m10.2-.4h0m2.3 1.4h0m8.9-.8h0m1.1 .4h0m2.5-1.2h0m11.4 .5h0m1.6 .9h0m2-1.4h0m1.8 .8h0m2.1-.5h0m4.8-.4h0m3.1 0h0m3.1 .4h0m6 1.4h0m.8-.7h0m.4 1.2h0m2-2.1h0m.2-.6h0m2.7 1h0m7-.3h0m12.7-.9h0m1 .2h0m1.2-.4h0m1.2 .2h0m1 1.4h0m.6-1.4h0m1.9 1.3h0m1.6-1h0m3.1 3.8h0m11.8-4.3h0m13.5 1.7h0m1.8 0h0m9.5-.4h0m22.8-4.7h0m22.3 5.3h0m7.8-4.7h0"/>
<path stroke-width="1" d="M478.8 435h0m7.4 .2h0m4.9 .3h0m7.4 .1h0m4.4-1h0m10.8-.5h0m6.8 2.1h0m2.1-1.5h0m3.5 .2h0m4.9-.4h0m5.5 1.2h0m8.9-.3h0m5.5-.1h0m20.5-1.2h0m22-3.1h0m12-.6h0m26.5 2.4h0"/>
</g>
<g stroke="#3f55de">
<path stroke-width="6" d="M268.7 434.3h0m74.8 2.4h0m5.4-1.1h0m31.6-3.6h0m3.1 .7h0m10.8 .6h0m8.2-.5h0"/>
<path stroke-width="5" d="M400.5 434.5h0m15-3.9h0m7.5 .4h0m5.5 .4h0m8.1 1.6h0m3.7-4.7h0m0-1.5h0m.4 7.1h0m.1-.3h0m1.8-8.8h0m3.3 7.5h0m1.4 .2h0m1.1-.8h0m2.7-3.3h0m1.1 5.1h0m.7-7.7h0m.4 6.6h0m2-.7h0m2-.5h0m1.3-3.3h0m2.8 2.1h0m.3 .8h0m.5 .8h0m1.4 .3h0m.5-4.9h0m3.3 2.7h0m.2-.7h0m2 1.1h0m2.8-1.2h0m.5-1.5h0m.6 .2h0m1.5 3.5h0m.5-1.7h0m.5 2.4h0m2.2 .1h0m.4-2h0m0 2.7h0m.7-3.4h0m.9-3.8h0m.9 6.7h0m2-1.5h0m.5 .5h0m.1 .8h0m.9 1.4h0m.6-5.5h0m.1 1.7h0m2.2 1.1h0m1.1-1.2h0m.8 1.1h0m3.2-.5h0m2.3-.5h0m2.3 .6h0m.1 1.3h0m2.6 .5h0m2.4 .3h0m.3-.9h0m1.2 1.6h0m0-1.3h0m1.4-.4h0m.3 .4h0m.3-1h0m0-.3h0m1.7-1.4h0m.7-1.6h0m1.3 4.7h0m2.9-2.7h0m4 1.2h0m3.7 .2h0m1.1-1.1h0m1.1 2.3h0m3.4-2.3h0m1.9 4.7h0m.1-5h0m.2 4.7h0m1.6 0h0m.2-3.6h0m8.1 2h0m.1-1.7h0m.8-.3h0m.3-1.8h0m2.5 .6h0m3.5-2.3h0m.3 3.9h0m2.7-.7h0m1.4-.3h0m1 1.1h0m2.9 2.5h0m0-5h0m2.6 0h0m7.1 4.4h0m2.6-1.7h0m11.3 6.4h0m2.2-.5h0m15-9.5h0m10.9 3.1h0m.2-2.9h0"/>
<path stroke-width="4" d="M327.3 433.5h0m33.9 2.7h0m37-.6h0m15.3-3.2h0m7.1-1.5h0m.8-2.3h0m.2 3.6h0m2.3 .8h0m2.3 .6h0m1.4 1.6h0m.2-5.5h0m1.1 .3h0m.2-.5h0m1.9 1.5h0m.4-.9h0m4.7 1.6h0m2.5 1.3h0m.6-.2h0m.2-.5h0m.5-2.6h0m.3 2.7h0m.1 3.1h0m0-6h0m.3 1.8h0m.3 2.7h0m1.1-5.5h0m.4 3.4h0m.2 1.1h0m.2-7.3h0m.9 5.3h0m1.5 2.6h0m.1 .3h0m2.5-4.3h0m.4 0h0m.1-.7h0m1 1.6h0m.1-2.2h0m.2-3.8h0m1.1 6.9h0m1.7-1.5h0m.2-1.4h0m0-.7h0m0 4.2h0m1.1-3.4h0m.4 1.8h0m0-2.6h0m.6 4.7h0m1.1-2.3h0m.1-4.1h0m.9 3.8h0m1.2 2.6h0m1.3-2.7h0m.1-.5h0m.2 2.7h0m.6 1.2h0m.7-.5h0m1.1-1.6h0m.6 .1h0m.1-2h0m0 1.2h0m1.3-1.1h0m.9 2.6h0m.5-2h0m1.3 3h0m.4-3.8h0m1.5 5.4h0m1.2-5.7h0m.1 1.8h0m.2 1h0m.2 .4h0m.6 1.8h0m.3-5.5h0m.4 0h0m.3-.4h0m1.6 2.3h0m.1 4.4h0m.2-6.1h0m.2 2h0m.4-2.5h0m.2 2.5h0m.6-.9h0m.5 .2h0m.1 0h0m1.2 1.8h0m.6 .4h0m1-3h0m1.6 .3h0m.4 2.6h0m.6-2.2h0m.9 1.3h0m.7-2.2h0m.1 1.6h0m1.7 1.6h0m1.2-1.6h0m.3-.1h0m.7 5.4h0m.1-6.8h0m.9 2.5h0m1.4 1h0m1.6-.3h0m.5-4.1h0m1.3 4.1h0m.1-1h0m.5 1.6h0m0-.5h0m1.1-1.1h0m.6-.6h0m0 .3h0m.2-4.1h0m.3 5.2h0m.1-1.9h0m.7 4.7h0m.9-4.8h0m.6-5.1h0m.8 7.8h0m.9 1.3h0m.5-4.8h0m.2 4h0m1.1-2.8h0m.4 .8h0m.2 .9h0m.1-3.5h0m.6 2.4h0m1.3 3.1h0m.2-4h0m.1-.8h0m.2-1.6h0m.2 10.2h0m.4-5.2h0m1.4-3.1h0m.7 4.6h0m.1-4.6h0m.2-2h0m1.7 3.5h0m.2 3.5h0m.3-2.8h0m.1-2.2h0m.3 .8h0m.8-1.1h0m.5 1.3h0m1.1-.2h0m.6-1.2h0m.4 .8h0m.6 5.8h0m1.3-6.5h0m1.9 1.8h0m1.3-1.9h0m.3 1.8h0m.5-2h0m.2-.1h0m.2 1.8h0m.7 2.5h0m.1-.4h0m.6-1.4h0m1.9-2.5h0m1-2.7h0m.1 3.9h0m.7-3.8h0m.8 2.4h0m.2-.9h0m.4 4h0m.9-3.1h0m.8-.1h0m.7 3.1h0m1.3-3.3h0m.3 .9h0m.7 5.1h0m1.5-3.5h0m.8-1.9h0m1.8-.5h0m.5-1.8h0m2.5 3.3h0m1.2 1.6h0m.4-3.6h0m.3 4.8h0m2.6-.1h0m1.6-5.1h0m.5 4.9h0m1.7-2h0m.1-1.1h0m.3 1.5h0m2.2 2.5h0m1.6-1.3h0m2.3 2.8h0m2.1-6.3h0m.2 8.1h0m.8-4.6h0m5-3.3h0m44.2 8.3h0m.1-.3h0m6.5-.6h0m.5-7.9h0m4.4 .1h0m7.1-2.8h0m2.9 4.7h0m3.5 7.2h0m2.1-.2h0"/>
<path stroke-width="3" d="M420.9 430.3h0m7.7-.6h0m5.2-1.7h0m.3 4.6h0m1.7-1.4h0m1.8-2.1h0m1.6 4.6h0m1.1-2.5h0m5.5 1.8h0m1.7-1.6h0m1-3.3h0m.2 2h0m.3 2.6h0m6.6-4.6h0m1.4 .9h0m1-.3h0m.8 2.3h0m.2-2.2h0m.4 4.1h0m1.2-4.6h0m2.6 .1h0m.6-2.5h0m.4 5.6h0m.8-1.8h0m.2 3.2h0m.2-4.2h0m0 4.2h0m2.1-2.3h0m4.1 .4h0m.6 1.8h0m.3 1.7h0m1.1-.5h0m1-2.6h0m.2 6.8h0m2.2-8.7h0m1 .1h0m.1 2.6h0m1-.9h0m.2 0h0m0-2.8h0m1 2.9h0m.3-.1h0m.4 1.3h0m.1 .6h0m.4-5.2h0m.9 2.8h0m.3 .7h0m.3 2.8h0m1.7-2.6h0m.3-2.3h0m1.4 2.4h0m.7 .7h0m1.2-2.8h0m.6-1.5h0m2.1 0h0m.5 3.4h0m.3-1.6h0m.1-.5h0m.4-2.2h0m.6 1.8h0m1.5 2.6h0m.1-4.7h0m.5 .7h0m.1-1.4h0m2.3 3.8h0m.7-.4h0m.2 1.2h0m.9-5.9h0m4.4 3.1h0m.1 7.3h0m.7-6h0m.2-3.5h0m2 5.7h0m.4 .1h0m.6-2.4h0m.5 2.6h0m.3-2.4h0m.5 2.7h0m1.5-2.2h0m.6 2.2h0m.6-2.4h0m1.1-2.8h0m.7 1.1h0m.3 2.2h0m.2 4.8h0m.5-5h0m1-.9h0m.2 .8h0m.7-.6h0m.3-.4h0m.1-.6h0m.5 2.9h0m.7-2h0m1.3-.5h0m1.9 1.8h0m.8-.1h0m.5 .4h0m.9 1.3h0m1.5-5h0m1 1.4h0m3.5 .1h0m2.3 4.7h0m1.3-4.2h0m1.3 2.1h0m1.3 3.2h0m1.9-5.9h0m.2 8.7h0m3.1-3.7h0m.5-1.3h0m2.5-2.7h0m0 .6h0m4.1 2.9h0m2.1-4.2h0m3.2-1.4h0m4.6 8.7h0m5.9-6.2h0m16.6-4h0m8 10.6h0m5.3 .4h0m1.2-.1h0"/>
<path stroke-width="2" d="M435.5 426.7h0m7.6 1.4h0m10.7 4.8h0m3.8-2.7h0m13.3-2.4h0m.9-1.1h0m2.2 2.6h0m6.2-3.1h0m5.8 7.5h0m1.4-4.9h0m1.2 .3h0m9.4 3.2h0m4.2-2.5h0m1.9-.3h0m.1 5.2h0m8.5-5.2h0m3.3 1.2h0m2.1-5.1h0m3.8 7.6h0m2.9-2.5h0m.5 1.1h0m.7 2h0m.9-3.4h0m3-1.8h0m15.4 1.3h0m14.9 .2h0"/>
<path stroke-width="1" d="M431.6 430.4h0m3.7 1.5h0m5.2 1.1h0m.1-4.4h0m34 4.7h0m.4 .7h0m3.8-3.7h0m2.8 1.5h0m5.8 1h0m8.7-3.4h0m15.2-.9h0m5.7 2.1h0m.2-1.7h0m2 5.2h0m1.3-6h0m6.8 3.3h0m3.7 .1h0m5.5 .2h0m12.2-1.7h0m.4 2h0"/>
<path stroke-width="6" d="M354.3 435.3h0m94.2-2.3h0m3.7 1.1h0m80.1-2.1h0m56.4 5h0"/>
<path stroke-width="5" d="M371.2 432.8h0m3.1 3.1h0m13-3.5h0m4.7 1.6h0m10.1 1.2h0m1.5-2.4h0m4.3-1.1h0m.8 .7h0m9.8 1.4h0m8.1-2.6h0m.8 .2h0m5.9-.7h0m3.4-3.2h0m1.1 5h0m.9-2h0m1-1.6h0m1 1h0m1.4 2.9h0m.3-1.9h0m2.1-4.5h0m.2 4.7h0m4 2.7h0m.3-.7h0m2.3-1.2h0m1.6 2.9h0m.7-5.2h0m1.2 .8h0m.2-.1h0m1.3 .2h0m.1-2.7h0m.9 .2h0m.8 .8h0m1.3 .6h0m3.2 4h0m.7 .9h0m1.1-1.8h0m.1 .1h0m1.2-2.8h0m.4-1.8h0m.9 1h0m2 1.9h0m.5-3.4h0m3.6 4h0m.9-1.4h0m1.6-2.1h0m2 4.5h0m1.5-2.3h0m2.2-1.7h0m1 2.5h0m.1-1.2h0m1.1-.5h0m1.5 2.6h0m1.3-2.1h0m1.2 1.3h0m.3-4.2h0m.3 2.4h0m.8 2.1h0m.7 4h0m.3-7h0m.9 .7h0m0-1h0m1.6 6.6h0m1.4-7h0m.1 8.4h0m3.9-3.7h0m4.3-2h0m2.1-.9h0m.1 2.1h0m3.4-1.4h0m2.1-1.7h0m2.3-.6h0m2.6-1h0m1.7 3.4h0m1.4 1.8h0m0-1.7h0m.2 1.1h0m2.9 1.4h0m1.9-4.3h0m6.4-2.3h0m1.7 3.9h0m.7-2.4h0m2.5 2.5h0m1.5 3.1h0m2.7-6.1h0m2.2 5.3h0m.6-1.9h0m1.9-.5h0m.3-.5h0m.4 3.7h0m2.2-4h0m4.3 3.5h0m.9-1.9h0m2.4 .3h0m.7-5.2h0m13.7 1.9h0m1.4-2.9h0m43.9-3.4h0m4.4 15h0m17.5-6.8h0m1.3-3.3h0"/>
<path stroke-width="4" d="M404.1 432.4h0m2.6 .6h0m5.4 1.1h0m8.8-5.7h0m6.9 3.3h0m1.3-.7h0m.9 .4h0m2.9 .5h0m.6-.6h0m.1 .6h0m2.9-2.7h0m.1 5h0m1-2.4h0m1.3 3.5h0m.9-6.9h0m.3 3.5h0m.1-2.7h0m4.9-5.7h0m.5 8.3h0m0 .9h0m.1-3.1h0m1-1.2h0m1.1 3.4h0m.6-.3h0m.8-2.8h0m1.5 1.5h0m.2-4h0m1.7 3h0m.8 1.1h0m.9-3.2h0m1.5 2.7h0m.1 2h0m.8-2.2h0m.8 1h0m.3-.1h0m.7-2.3h0m.9 4.9h0m.2-4.9h0m.2-1.3h0m.6 7.5h0m1.1-1.7h0m.8 .2h0m.2 .6h0m.1 1.7h0m.7-5.2h0m.2 2.5h0m.1-1.2h0m0-1.1h0m.3 .5h0m1 4.3h0m.1 .4h0m.4-4.3h0m.1-2.1h0m0-1.2h0m.6-2.7h0m.1 2.7h0m0 3.3h0m.5-1.5h0m0 5h0m.1-2h0m.3-2.8h0m.2 4h0m.6-3.4h0m.6-.9h0m1 0h0m.1 2.1h0m0-1.6h0m.6 2.2h0m.1 1.8h0m.1-2.7h0m.1 0h0m.2 2.4h0m.7-3.9h0m.2-1.7h0m1.5 .8h0m.1-3.5h0m.7 3.5h0m.2 3.3h0m.7-3.7h0m.8 .3h0m1.2 4.9h0m.1-1.2h0m.1-1.6h0m.2-.8h0m1.9 1.6h0m.9-3.6h0m.3 2.6h0m0 .9h0m.1-1.9h0m.9 .6h0m.5-.7h0m0-1.6h0m.2 2.3h0m.2-.2h0m.4 1.5h0m1.1 1.7h0m1.3-7.4h0m.8 .8h0m.9 5.7h0m.1-.8h0m.9-1h0m.4 .2h0m.5-.1h0m1-2.3h0m0-.8h0m.1 1.5h0m.5 2.8h0m1.9-1.8h0m1.8 .6h0m0 1.7h0m1.5-4.7h0m.4 4.5h0m.1-1.3h0m.6 .2h0m.1-1.6h0m.1 1.9h0m.4 1h0m.5 0h0m1-1.7h0m0-6h0m1.8 7h0m1.5-1.6h0m.8 1.5h0m.3 5h0m0-9.2h0m.3 5h0m.7-2.4h0m.2 1.9h0m.9-3.5h0m.5 1.4h0m.2 1.8h0m1.3-.6h0m.8 2.1h0m.8-4.4h0m.6 .1h0m2 5.4h0m0-5.1h0m.9 1h0m3.6 0h0m.3 2.3h0m.1-6.1h0m2.3 3.2h0m.3 1.8h0m.6-.7h0m0 2.1h0m.7-5h0m.1 .6h0m1 .6h0m1.2 2.1h0m1 .8h0m.6-1.5h0m.1-.4h0m.6-4.1h0m0 4.6h0m.5-1h0m.1 3.7h0m1.5-1.6h0m.5-1.9h0m2.4 1h0m.2-2.2h0m1.1 .3h0m.8 4.3h0m1.6-5.9h0m.3 1.1h0m.7 4.8h0m.5-1.6h0m.4-.9h0m.6-.3h0m.2-.9h0m1.6 .3h0m1.5 .5h0m.1 .9h0m2.4-2.6h0m.3 6.5h0m3.3-5.1h0m.3-3.5h0m1.2 6.2h0m.7-3h0m.4 2h0m1.2-.9h0m.1-1.4h0m1.2-1.9h0m0 4.6h0m1.6-2.4h0m.9-.9h0m2.7 2.7h0m.6 .1h0m9.6-.8h0m9.8 0h0m10.2 7.6h0m1-9.2h0m1.3-1.1h0m2.2-.5h0m2.2 9.9h0m2.5-8.1h0m13.7 7.5h0m2-.4h0m7.5 1.8h0"/>
<path stroke-width="3" d="M430.3 431.4h0m1.2 1.2h0m.1-.3h0m2-4.9h0m.9 4.5h0m.4 4.6h0m2.1-3.3h0m1.3-4.2h0m2.2 .8h0m3.3 3.6h0m1-5.2h0m.9-1.9h0m.1 10.5h0m6.3-6.3h0m2.8 .2h0m2.2-2.5h0m6 1.3h0m.1 .2h0m2.1 1h0m1.4 1.8h0m.7 2.5h0m.3-4.1h0m0 .8h0m1.3-.7h0m3.6-.4h0m.3 3.7h0m.4-3.3h0m.1-.7h0m0 3.1h0m1.4-2.2h0m2.7-2.4h0m.1 5.6h0m0-5h0m.7 .3h0m.3-.7h0m.3-.3h0m1 .4h0m2 1.2h0m1 3.1h0m4.8-2.5h0m.5 .5h0m1.2 .4h0m.2-1.7h0m.6-1.7h0m.3 0h0m3.5 1.7h0m1.3-2.9h0m.3 3.9h0m.1 .7h0m3.2 .1h0m.9-2.5h0m.9 .6h0m1.5 .8h0m.3-2.1h0m1.3 1.9h0m3.2 1.8h0m1.4-.5h0m1.6 1.8h0m.4-5.3h0m1 .8h0m.1 3.8h0m.8-5.1h0m2.5-.4h0m.9 2h0m.3 2.5h0m.4-1h0m2-2h0m1 3.8h0m.4 1.5h0m1.8-7.5h0m3 6h0m5.5-2.2h0m.3-1.5h0m.1 .3h0m.3 1.1h0m1.6-.5h0m2.5 .3h0m.8-1.3h0m.2 1.2h0m1.6 1h0m1.4-.1h0m3.1-1.7h0m.8-.5h0m.6 2.5h0m2-4.4h0m8.1 3h0m1.2 1.5h0m4.1-2.6h0m8.9 1.8h0m.2 6.9h0m15.7-10.4h0m3.2 9.1h0m16-.1h0m24.4-8.5h0"/>
<path stroke-width="2" d="M425.3 429.5h0m12.5-1.6h0m3.5 3.5h0m4.8 2.8h0m.6-5.1h0m1.1 .3h0m2.5-.7h0m12.6 2.3h0m.4-.3h0m2 1.4h0m1.8-3.9h0m8.2-.3h0m11.9 1.5h0m7.3 5.1h0m12.6-6.6h0m2.7-.5h0m3.1-.6h0m.1 1.4h0m1.2 2.6h0m1.2-2.5h0m1.6 2.2h0m1.9 3.3h0m1.6-3.4h0m3.1-.7h0m16-1.6h0m36-.4h0m37.5 8.5h0"/>
<path stroke-width="1" d="M440.8 430h0m9.9 4h0m35.5-2.7h0m4.9 3.8h0m3-3.6h0m3.1-5.4h0m.8 3.7h0m24.6 2.9h0m3.5-5.4h0m2.3 2.5h0m14.7-2.2h0m52 9.8h0"/>
<path stroke-width="6" d="M387.1 436.1h0m5.6-1.7h0m3.2 .4h0m12.4-2.1h0m.4 1.4h0m18.7-6.9h0m23 4.8h0"/>
<path stroke-width="5" d="M367.4 430.4h0m10 3.6h0m12.3-1.5h0m39.8-1.7h0m2.9-1.5h0m10.5 1h0m.9-2.6h0m.5 4h0m1 1.9h0m5.1 .3h0m1.7-.4h0m1.6-6.8h0m.7 4.9h0m2.3-1.4h0m.3-2.1h0m1 6.9h0m0-2.3h0m.8-2.7h0m1.2 3.4h0m5.9-3h0m.9 .5h0m7.8 1.6h0m.2-4.5h0m2 1.4h0m.4 4.6h0m2.2-2.8h0m.3-.6h0m.7 5.2h0m.4-6.1h0m.7 1.5h0m.2 .9h0m1.7-2.2h0m.2 3.8h0m.8-1.1h0m1.2-4.3h0m1.5 3.4h0m1-1.7h0m0-4.3h0m.2 7.1h0m.8-1.1h0m3.2-4.1h0m2.2 2h0m.9 1.5h0m2.5-2.6h0m.3 4.4h0m1.4-4.2h0m.6 1.4h0m1.6-1.4h0m.7 .3h0m1.3 2.1h0m1.3-.2h0m3.5-2.1h0m.2 2.5h0m.6-.6h0m4.6-1.4h0m1.6 2.9h0m0-1h0m2.1-.3h0m.2-1.8h0m5.4 2.2h0m1.9-.2h0m4.6 2.2h0m.1-8.8h0m4.2 4.7h0m.8 4.7h0m.4-5h0m2.9 2.9h0m9.4-.5h0m1.5 4.2h0m.1-3.7h0m1 1.5h0m0-5.5h0m3.7 4.4h0m1.1-5.2h0m3.2 4h0m12.8 5.3h0m6.1-3.6h0m.3-5.4h0m10.4 9.2h0m10.8-7.6h0m8.8 7.6h0"/>
<path stroke-width="4" d="M301.8 434.5h0m37 1.8h0m20.1-5.9h0m27.7 1.7h0m11.4 2.2h0m8.7-.9h0m1.6-1.6h0m9.3 2.9h0m1.6-2.6h0m2-2.1h0m7.3 3h0m1.6-4.5h0m1.5 7.1h0m1.1-5.8h0m.6 1.4h0m1.5 .5h0m1.5-5h0m.3 3.4h0m1.2-2.6h0m.3 5.1h0m.1-3.3h0m.7 1.1h0m.1-.3h0m.2 .3h0m1.6 .5h0m.6-.1h0m.2 1.6h0m1.4-1.2h0m.1-2.1h0m.4 3.7h0m2.7-4.7h0m.3 3.4h0m1.3-4.1h0m1.2 5.4h0m1.3-5.1h0m1.8 2.3h0m2.4 2.8h0m.6-4.3h0m0-2.5h0m1.5 3.9h0m.4 3.8h0m.4-2.8h0m.8-1.3h0m1.5-.7h0m.1 .9h0m.4 3.1h0m.3-4.1h0m1.1 3.1h0m.8 .1h0m0-.8h0m.4-2.4h0m.1 2.1h0m.2 2.5h0m.2-3.3h0m.3-.5h0m1.1 2.3h0m.4-3.6h0m.9 3.1h0m.3-.3h0m.1 3.1h0m.1-2.6h0m.5 2.1h0m.1-1h0m1-4.2h0m.2 6.9h0m.6-5.9h0m.9 4.6h0m1-4.3h0m1.3 1.6h0m.4-.1h0m2.8-.2h0m.8 2.7h0m.1 .7h0m.2-5.5h0m1.7-1.7h0m.1 2.2h0m.8-2.5h0m.4 7.2h0m.1-4.7h0m.1 1.5h0m1.6-2.6h0m.1 1.4h0m2.8 1.3h0m1.6 2.4h0m.9-2.1h0m.9-.9h0m1.3-.7h0m.1-1.9h0m.1-1.1h0m0 3h0m.5 1.7h0m1.3 0h0m.5-3.6h0m.4 4.8h0m0-2.1h0m.3-1.7h0m.8 5.3h0m1-4.7h0m.3-.9h0m.6 1.1h0m.8 .8h0m.2 0h0m.2-.6h0m0 1.3h0m1.7-1.5h0m0-3.9h0m.5 1.9h0m.1 .3h0m1.5 4h0m.2-.7h0m.1-.3h0m.2-1.2h0m0-1.3h0m.2 4h0m1-7.7h0m.1 7h0m.2 .7h0m.3-2.8h0m.8 3.6h0m1-3.2h0m.8 3.6h0m.1-3.5h0m.8 .7h0m1 2.9h0m.1-5.6h0m.2 3.7h0m1 .3h0m.4 2.2h0m.1-5.2h0m.4 3.3h0m.5 .4h0m.4-2.8h0m.6-4h0m.6 4.8h0m.6-2.8h0m.1-.5h0m.2 6.1h0m.1-2.3h0m.8 1.6h0m.5-2.1h0m.1-1.8h0m.1 2.9h0m.2-1h0m.1 1h0m.6 1h0m.4 .5h0m.1-2.4h0m.7 2.8h0m.1-1.7h0m.1 4h0m.1-.8h0m.2-4.7h0m.4 1.2h0m.8-.3h0m1.1 3.7h0m1.2-6.4h0m.5 2.9h0m.8 1.2h0m2-1.1h0m0-1.8h0m1.5-1.2h0m.4 4.7h0m.5-2h0m1.2-2.5h0m.1 3.5h0m.1-3.5h0m1.5 .2h0m.2 2h0m1.1-2.5h0m.3-3.2h0m.9 4.1h0m.4 .1h0m1.2 .3h0m.4-.1h0m.6-.1h0m0 2.3h0m1.2-3.5h0m1.1 .5h0m1.8 1.1h0m.3-1.5h0m.8 .9h0m1 1.3h0m.3 .4h0m.8 3.3h0m1.5-5.1h0m.9 6.2h0m.4-4.8h0m.5-.4h0m2.6 1.4h0m1.1-2.5h0m.6-.6h0m.9 8.5h0m1.1-2h0m.7-6.3h0m.7 2.7h0m.7 2.8h0m2.6-6h0m.7-.3h0m.9-5.4h0m.1 13.3h0m2-4.7h0m.4 1.9h0m1.9 3.9h0m.6-10.4h0m.1 2.6h0m.6 7.4h0m1-9.1h0m1.2 3h0m22.2 6.5h0m1.5-.3h0m11.5-.4h0m1.1-.7h0m6 0h0m18-8.1h0m8.7-.8h0m5.9 11.2h0"/>
<path stroke-width="3" d="M421 433.8h0m.3-5h0m7.5-.8h0m3.1 2.6h0m3 .9h0m1-4.6h0m3.3 2.3h0m1.9 1.7h0m.3 1.9h0m3.1-1.4h0m2.1-.2h0m2.1 .1h0m1.5-6.7h0m2.6 2.9h0m0 1.7h0m3.5 1.8h0m0-1.7h0m.3 3.1h0m0-3.7h0m.2 3h0m3.4-3h0m.8 .2h0m2.2 2.2h0m.2-3.8h0m1.7 1.1h0m.7 1h0m.7 3.1h0m.1-3.4h0m3.7 1.8h0m.4 .7h0m1.4-1.4h0m.1-2.9h0m1.1 1.8h0m.6 1.5h0m.9 .5h0m2.9 1.3h0m1.3 .7h0m1.5-1.4h0m2-2.6h0m.1-.1h0m.2 1.6h0m1.4 .3h0m.7-3.6h0m1.7 3.8h0m1.8-1.1h0m.1 2.7h0m.9-8.5h0m.4 7h0m.2 2.7h0m.4-2.8h0m2.2-2.9h0m.1 1.7h0m2.5-.1h0m.4 .9h0m1.1-4.4h0m.2 5.5h0m.8 1.6h0m0-1.7h0m.4 .1h0m.3 .5h0m.5-4.3h0m.5 3.3h0m.5-1.6h0m.5-.4h0m.1 4.3h0m.3-4.5h0m1.4 1h0m.5 0h0m.8-.6h0m.2 .4h0m.5-.7h0m1.2 .8h0m0 4.3h0m1.7 .3h0m3.2-1.4h0m1.3-1.8h0m.2-2.4h0m.8 3.3h0m.7-1h0m4.7-2.1h0m.1 2h0m.9 .3h0m1-.2h0m.2-1.1h0m4.1-1h0m1.1-1.1h0m3.8 .3h0m1.2 7.8h0m3.4-5.3h0m2.5 1.5h0m.1-3.1h0m1.6 2.1h0m.1-.2h0m2.6-.9h0m6 .2h0m1 3.2h0m1.9-2h0m2.2 3.7h0m0-5.9h0m.5-.5h0m2.1-.9h0m6.2 3.7h0m.2-2.8h0m1.6 2.1h0m11.4-3.8h0m9 10.1h0m7.3-9.4h0m10.2 9.3h0m24.3-5.1h0m2.6 4.8h0m3.4-9.5h0"/>
<path stroke-width="2" d="M429 430.2h0m16-.8h0m15.6 1.1h0m1.1 2.5h0m1.4-.3h0m6.1-3.7h0m7.9-.1h0m1.8-.5h0m4.2 4.9h0m3.1-2.3h0m.8-.4h0m2.4 1.6h0m.1-.8h0m.1-4.5h0m2.7 4.3h0m.7 2.8h0m2.3-.1h0m2.6 1.3h0m1.4-3h0m7.6 1.9h0m1.3-2.3h0m.8-1.1h0m3-1.7h0m3.9 2.2h0m.5-1.7h0m3.5 .9h0m3.2-.6h0m.9 .4h0m4-1.8h0m.3-.2h0m.8 0h0m.3 3.6h0m3.2 3.6h0m2.8-5.7h0m4.1-.9h0m9.4 .9h0m1.8 .9h0m2.3 2.6h0m.6-5.1h0m5.6 3h0m23.8 5.4h0m28.3 .7h0m16.6-7.3h0"/>
<path stroke-width="1" d="M451.5 434.2h0m8.9-5.8h0m.4 2.4h0m37.7-1.2h0m4.4 3.3h0m7.8-2.2h0m1.7 0h0m1.3 3.9h0m26.3-2.5h0m5.4-.4h0m.9 .7h0m4.6 1.1h0m14.1-1.7h0"/>
</g>
<g stroke="#ffdc20">
<path stroke-width="6" d="M387.1 424.5h0m8.8-.4h0m6.7 .7h0m5.7 2.3h0m.4-2.9h0m18.7-1.4h0"/>
<path stroke-width="5" d="M387.3 419.8h0m14.8 4.4h0m1.5-1.6h0m11.9 .8h0m14 2.1h0m3.8 .1h0m3.3-1.1h0m3.7-10.8h0m.4 1.9h0m1.9 .5h0m1.2 8.5h0m1.5-8h0m.6 7h0m2.8-7.3h0m2.4 8.2h0m1-4.1h0m.1 2.6h0m.7 2.2h0m.4-1.7h0m3.1-6.9h0m.9 6.3h0m1.3-1h0m.2-1.7h0m2.9-7.4h0m1.6 1.3h0m.3 4.8h0m2.1 3.5h0m.2-.5h0m3.6 4.3h0m3.6-8.1h0m2.4 7.7h0m.5-8.8h0m1.2 .1h0m.4 2.5h0m.6 2.8h0m1.1-3.9h0m.4 7.2h0m.5-9.6h0m1.1 10.8h0m.2-13.5h0m.8 9.3h0m1.1-4.5h0m.1 2.3h0m1.5-10.7h0m.2 6.8h0m2.9 3h0m0 2.3h0m1.5-1h0m2.8 .6h0m1.5-5.3h0m.6 5.3h0m.9-6.3h0m1.8-1.6h0m.6 3.8h0m4.7 4.2h0m1.3-.2h0m0-.7h0m.5-3.4h0m.9-2.1h0m.6 1.4h0m2.8 1h0m.2-.3h0m.6 4.8h0m.4-6.8h0m5.8 1.6h0m2.1 6.4h0m5.1-7.8h0m4.8 .1h0m1.9 6.9h0m.2-1.6h0m.1 .2h0m.1 7.1h0m5-17.8h0m.4 7.2h0m.3 2.2h0m3.1-3.5h0m4.3 1.4h0m.3 3.9h0m4.7-4.5h0m5-.5h0m.3 10.8h0m0-7.8h0m.9-.2h0m1.7-.1h0m4.3-2.4h0m1.3 5.1h0m4.1-5.3h0m1.4 4h0m.9-10.1h0m9 4.7h0m.5-6.5h0m1 7.5h0m9.4 4h0m6.3-18.1h0m5.3-5h0m5.5 10.9h0m.3-3.9h0m16.6 .2h0m1.3-6.2h0m9.9 9h0m1.4-10.6h0m.7 7.2h0m1.1-7h0m4.3 8.9h0"/>
<path stroke-width="4" d="M327.3 428.5h0m11.5-5.4h0m22.4 3.2h0m25.4-1.6h0m32.6-1.9h0m1.4-.1h0m3.3 2.6h0m2.3-.5h0m1.6 .9h0m0-4.4h0m3.6-5.9h0m1.9 8.4h0m.3-.3h0m2.5 1.5h0m.2 1.1h0m.3-1.7h0m1.2 1.5h0m1.1 0h0m.5 3.7h0m.8-1.6h0m.4-6.9h0m.3 4.7h0m1.1-.9h0m.4-2.7h0m.2-.1h0m.4 3.2h0m.5-1h0m2.1-4h0m0 5.3h0m2.8-9.3h0m.6 4.6h0m.4-4.2h0m.2 3.7h0m1.3-3.9h0m1.5 10.3h0m.2-14.8h0m0 13.3h0m1.1-9h0m.4 3.3h0m1.7 .9h0m.1 7.1h0m.9-1h0m1-2.4h0m.2-2.3h0m.5-2.6h0m1.7 .1h0m0 2.8h0m1.8-3.4h0m.6 1h0m.1-5.5h0m.6 3.1h0m.3 2.6h0m1.1-1h0m.7-4.5h0m0 3.3h0m.8-.2h0m.1 9.4h0m.2-14.7h0m.2-.8h0m1.2 2.9h0m.6 8.5h0m.1 1.7h0m1-4.9h0m.7-.3h0m.1-2.3h0m.1-2.3h0m1.1 3.6h0m1.5-3.5h0m.7 2.5h0m.3 1.8h0m.5 7.1h0m.2-7.1h0m.5 3h0m.9-3.5h0m.2 2.4h0m.4 2.8h0m.2-6.6h0m.2 .5h0m.9-1.7h0m.1 8.7h0m.8-14.2h0m.4 13.1h0m1.8-.3h0m.1-3.1h0m.5-6.5h0m.4 2.4h0m.4 2.1h0m.2-1.8h0m2.9-2.7h0m.1 4.2h0m1.1 2.8h0m.6-1.1h0m.3-3.6h0m.8 3.5h0m.3-1.5h0m.1-1.5h0m.2 5.3h0m.4-4.1h0m.1-2.3h0m.5 .4h0m.6 8.7h0m.5-2.9h0m1.3-2.5h0m.6 5.5h0m.7-7.4h0m.4 1.7h0m.6 .4h0m.2 4.2h0m.3-9.8h0m.1 4.8h0m.3 .8h0m.1 4.4h0m.6-1.5h0m.6-3.3h0m.5 5.7h0m0-.4h0m.1-1.6h0m.4-7.6h0m.1 1.4h0m1.7 .5h0m.3-.2h0m0 4.5h0m.2-1.3h0m1.2 1.9h0m.1 1.8h0m.2-2.6h0m1.1-6.4h0m1-3.2h0m.9 8h0m.6 1.1h0m.3-4.7h0m.5 1.3h0m1.6 5.6h0m.4-1.3h0m.7-4.5h0m.2 2.7h0m.4 4h0m.6-2.8h0m1.2-4.8h0m.3 3h0m.6 7.8h0m.8-6.5h0m.1 .6h0m.1 0h0m.3 1.1h0m1.1-1.5h0m.5 3.3h0m.4 1h0m.2-10.4h0m.4 .4h0m.9 8.1h0m1.4-7.4h0m.9 1.2h0m.9 .2h0m.4 9.6h0m.3-10.5h0m.2-4.2h0m1.5 5.8h0m1.4-.7h0m.1-1.1h0m.4 6.7h0m.1-8.4h0m.4-.6h0m1.7 6.7h0m1.7 .9h0m1.3-4.6h0m.1 4.8h0m1.9-2.2h0m.3-7.6h0m.2 9.4h0m.2-6.2h0m2.4 2.9h0m.5 3.7h0m0 1.7h0m.5-3.7h0m.2 5.7h0m1.4-6.6h0m.2-2.7h0m.6-3.9h0m.9 1.2h0m.1 4.2h0m.3 9.6h0m.8-2.2h0m1.5-11.4h0m.9 15.6h0m.9-15h0m1.9 5.2h0m.7 7.1h0m0-6.3h0m1.2-.9h0m.5-1.7h0m.8 9.8h0m.3-9.2h0m.9 1.2h0m1.5 .9h0m0-5.5h0m.5 3.1h0m.1 2.8h0m.6-3.7h0m.2 3.3h0m1.3-4.8h0m2.1 8.3h0m2.1-3.5h0m1.7 4.5h0m1.2-8.4h0m4.5 7.8h0m0-4.4h0m1 1.4h0m8.8 0h0m2.2 1.2h0m.2 4h0m2.1-6.5h0m3-7.3h0m3.3 14.3h0m1.5-1.4h0m.2-3.8h0m2.6-7.1h0m4.4-14h0m2.5-1.4h0m1.4 20.4h0m.4-19.7h0m1-1.8h0m9.1 2.8h0m4.7 6h0m.9-7.6h0m1.4 6.5h0m3.9 12.7h0m2.6-13.9h0m.3-8.8h0m.3 18.7h0m1.5 0h0m5.7 10.9h0m1.5-23.1h0m2.1-3.7h0m29.1 7.2h0"/>
<path stroke-width="3" d="M431.6 424.2h0m2.2-3.6h0m.3 3.8h0m1.7 4.3h0m1.8-4.2h0m.7-.7h0m2.2-.1h0m.6 1.3h0m2.7 1.5h0m.7-1.9h0m1.3-4h0m0 8h0m1.7-7.3h0m1.2-8.7h0m.3 11.1h0m1.2 2h0m2.6 1.8h0m2.1-3.5h0m1.4-5.7h0m.3 1.8h0m.2-1.6h0m.2-3h0m1.8 2.4h0m1.8 .2h0m4.8-2.5h0m1.2 3.9h0m.1-2.7h0m.7-.6h0m.3-1.6h0m3.9 .4h0m.6 6.6h0m.4-1.4h0m.8-3.2h0m.2-1.6h0m.3 13h0m.7-13.6h0m.2 6.6h0m0-6.3h0m2.9 2.1h0m.3 1.5h0m.3 1.1h0m1-2.1h0m1.2-5.4h0m1.4 1.2h0m.9-4.3h0m.1 9.6h0m7.3-3.8h0m.3 8.5h0m1-8.6h0m.3-.2h0m.1 12.6h0m.7-8.9h0m.1-.2h0m1.3 3.9h0m.4-3.2h0m.1-2.7h0m.7 .4h0m.1 1.5h0m.3 3.3h0m.1 .3h0m2-2h0m.4-7.8h0m0 10.1h0m1.1-4.9h0m3 .3h0m1.5-4.5h0m.1 4.5h0m.4 6.6h0m.4-11.3h0m.8 10.2h0m1.6 2.9h0m1.1-.6h0m.3-1.3h0m.5-6.6h0m1.1 4.5h0m.3 1.4h0m.1-1.4h0m1.1-5.3h0m.1-.8h0m.2 7.3h0m.9-6.2h0m1.7 3.2h0m.4 .8h0m.6 .7h0m.6-.4h0m.3-8.3h0m.4 10.1h0m1.2-6.6h0m.2-3.7h0m.9 6.3h0m.8-3.8h0m1.3-.2h0m2.2 2.3h0m2.5 1.3h0m3.5-3.7h0m1.1-.6h0m.1 3.4h0m1.1 4.1h0m1.3-2.9h0m.9-2.8h0m.4 11.2h0m1.7-5.1h0m1.6-7.9h0m3.2 6.2h0m3 4.3h0m4-2.7h0m4.1 2.6h0m2.6-4.3h0m.3-2.4h0m3 .9h0m3.1 4h0m7.1-4h0m15.6 2.3h0m.1-4.2h0m3.2 .7h0m1.4-2.2h0m13.1 5.5h0m1.2-16.4h0m8.9 1.7h0m13.3-5h0m30.3 2.5h0"/>
<path stroke-width="2" d="M443.1 418.7h0m3 4.4h0m11.5-6.5h0m5.3 1.9h0m.2 5h0m8.7-2h0m7.1-4.3h0m7.3 6.4h0m3.4 .6h0m8.3-9.8h0m6.3 7.8h0m2.7-13.4h0m.2 12.3h0m4.9-2.3h0m6.9-1.5h0m1 2.1h0m.6-6.2h0m1.4 4.9h0m1.7 4.9h0m.4-10.9h0m2.9 3.4h0m3-.8h0m5.5 7.7h0m15.3 4.2h0m2.9 .4h0m5.6-4.6h0m102.8-24.9h0"/>
<path stroke-width="1" d="M431.6 424.4h0m3.7 4.3h0m5.3-12.9h0m.2 9.2h0m9.9-9.8h0m9.7-.3h0m.4 4.3h0m14.2-2.8h0m6.6 3.8h0m4.6 2.7h0m1.2 1.9h0m6.7-3.8h0m3.9-5.4h0m14.4 5.1h0m4.6-4.2h0m3.5 9.9h0m2.1-7.2h0m5.8 .7h0m14.7 2.8h0m15.7-2h0m73.1-9.9h0m11-9.2h0"/>
<path stroke-width="6" d="M348.9 428.8h0m31.6-2.3h0m3.1 2.1h0m10.8-6.2h0m54.1 3.6h0m3.7-1.3h0m136.5-12.4h0"/>
<path stroke-width="5" d="M377.4 424.5h0m41.1-4.3h0m4.5 1.4h0m3.6 2.6h0m5.8-8.7h0m7.3 10.8h0m1-2.5h0m6.6 4.1h0m1.7-4.7h0m1.4 1.1h0m3.2-10.4h0m.8 6.7h0m.4-1.7h0m.5 2.5h0m2 1.4h0m.7-9.1h0m0 6.2h0m2-4.4h0m1.4 3.1h0m.8 7.4h0m.4-8.3h0m1.8-3.6h0m.1 5.6h0m1.6 1.6h0m.7 2.1h0m.6-4.4h0m1.6-4h0m.6 4.1h0m2.8 1.3h0m.5-7.7h0m.6 2h0m1.5 8.2h0m3.6-4.2h0m.8 4.3h0m1.4-7.3h0m.3 7.4h0m.6 2.1h0m.7-2.8h0m1.2 0h0m.1-4.4h0m.7 5.3h0m1.2-2.5h0m1.5 1.1h0m.4-3.5h0m.3 .8h0m.3-5.4h0m.2 3.2h0m.6 1.4h0m.2-9.6h0m.8 16.6h0m.9-1.3h0m0-8.2h0m4.1 1.8h0m3 3h0m2 4.8h0m1.9 1h0m.3-12.6h0m.5 2.9h0m1.2 4.9h0m1.3-2.2h0m.4-10.2h0m.3 5.7h0m1.9 1.3h0m4.7 7.2h0m2.3-2.4h0m1.7-.9h0m1.4-12.6h0m0 8.6h0m.1 6.3h0m3.3-3.3h0m1.1 7.9h0m1-7.4h0m1.9 3.2h0m.5-2.7h0m2-3.6h0m.2 6h0m3.7-3.3h0m2.5 1.1h0m0-1.3h0m3.7-.4h0m1.2 8.2h0m6-.5h0m.3-6.5h0m.6 3.2h0m1.7-2.1h0m1.5 .1h0m.3 3h0m.8-5.3h0m0-3h0m0 1.8h0m.9-.8h0m7.1 1.3h0m18.9 1.3h0m5.3 1.6h0m16.2-20.7h0m12.1 17h0m2.5-8.3h0m7.6-14.2h0m15.6 15.3h0"/>
<path stroke-width="4" d="M301.8 429.7h0m96.2-7.8h0m.2-.5h0m5.9 1.1h0m2.6 4.6h0m1.6 .6h0m3.8-2.3h0m1.4 1.2h0m7.4-1.2h0m6.7-1.4h0m1.3 4.6h0m1.1-5.5h0m.1 4.5h0m.9-3.1h0m1.7-.9h0m.2 0h0m.6 3.2h0m4.1 .3h0m1-8.6h0m.3-5.1h0m.1 11.1h0m.2 1.8h0m0-1.4h0m.6-3.1h0m.4 3.6h0m.1-.8h0m.5 2.4h0m.8-12.1h0m1.2 1h0m.9 4.7h0m1.4 4.2h0m.2-.4h0m.9 .5h0m.3 1.7h0m1.3-.2h0m.5-.7h0m.9-7.8h0m1.1 6.8h0m1.8 .7h0m.5 .1h0m.8-4.7h0m1.3-1.9h0m.4-2.7h0m.7 4.1h0m.8 4.3h0m.1 .3h0m.3-7.7h0m1.2 .4h0m1.2 11.1h0m0-10.3h0m.2 3.3h0m.1 .4h0m.8-9.3h0m1.1 7.1h0m.8-2.9h0m.1-2h0m.1-1.9h0m.3 4.9h0m.6 1.9h0m.1-4.7h0m.4 4h0m.9-2.3h0m.6 5h0m.5-2.3h0m.8-6h0m.2 11.4h0m.1-6.5h0m.2-5.3h0m1.6 9h0m.6 1.3h0m.1-2.8h0m.2 .9h0m.3-1.1h0m.1-6.1h0m.1-1h0m.6 1.4h0m.5 2.8h0m.5-4h0m.6 5.1h0m1-1.4h0m.1 4.6h0m.3-.6h0m.1-4.3h0m1.2 2.4h0m.4-5.1h0m.1 12.5h0m.1-9.2h0m1.8-2.5h0m1.9 1.1h0m.5 .8h0m.2 2.4h0m.1-1.8h0m0 6.6h0m.3-6.6h0m.6-3.9h0m.1 7.1h0m.8 1h0m1.6-8.5h0m.4 13.6h0m1.7-6.3h0m.3-.6h0m.6-1.3h0m.1-2.5h0m0 7.1h0m.9-3.7h0m.4 7.5h0m.7-1.5h0m2-6.5h0m.5-2.3h0m.4 1.4h0m.4 9.7h0m.6-3.4h0m.1-6.8h0m.4-3.7h0m1.5 6.2h0m.2-.9h0m.8 4.8h0m.9-5.3h0m.1 4.3h0m.4-.7h0m2.9-7.8h0m.4 6.4h0m.8-7.2h0m.2 10.8h0m.5-.7h0m.1-8.3h0m.8 1.8h0m.2-7.1h0m.8 15.7h0m0-6.6h0m.2-6.7h0m.2 5.5h0m.1 3.1h0m.2-7.4h0m.1 10h0m.1-1.2h0m.4-5.7h0m1.4-5.7h0m.3 13.7h0m.2-1h0m.1-5h0m.7 .8h0m1.4-3.3h0m.1 6.5h0m.3-6.7h0m1.1-3.5h0m.1 2.5h0m.4-1.4h0m.1 7.6h0m0-6.1h0m.2 5.5h0m.3-6.3h0m.4 7.2h0m3.2 2.1h0m.5 4.4h0m.4-11.9h0m2.4 5.7h0m.1-14.7h0m.4 11.8h0m.4-1.3h0m.3 .4h0m.3 2.3h0m.2-5.5h0m2.3 4.5h0m1.2 .9h0m.1 1.2h0m.7-3.9h0m0 4.2h0m.8-1.1h0m.2-3.4h0m3.6 2.2h0m.3-.5h0m.5 .6h0m.4-7.1h0m.5 7.5h0m2.1 3h0m.3-5.8h0m.3-1.4h0m3.5 5.1h0m.7-2.9h0m1.4 6.5h0m.2-4h0m2.2 5.6h0m.7-6.7h0m.8-2.6h0m1.3 4.5h0m.8-15.2h0m.9 14.5h0m1.2 4.2h0m.5-2.1h0m2.5-4.1h0m4.3-7.5h0m.1 11.9h0m.2-.3h0m.4 1.8h0m.8 .7h0m0-11.3h0m.2-2.6h0m3.5 11.8h0m.6-2.6h0m3.7-.3h0m1.3-.2h0m8.4-5.9h0m.8 8.6h0m1.5-5.7h0m.6 1.4h0m.1 1.4h0m.1 1.5h0m2.2 2.2h0m4.4-1h0m2.2-5.5h0m.6 2.2h0m5.1 7.3h0m1-2h0m1.7-31.3h0m.8 10.4h0m.9-2.6h0m4.6 21.4h0m.3-23.8h0m1.9 8.5h0m.9-4.6h0m0 1.4h0m1.4-1.6h0m.1-.5h0m.7 3.1h0m1.8 2.2h0m1.1 2.4h0m2-17.5h0m.1 8.6h0m3.7 6.6h0m7.4-11.3h0m.3 7.3h0m4.3-5h0m6.7-.9h0m2.3 6.3h0"/>
<path stroke-width="3" d="M421 427.3h0m9.3-1.5h0m1.2 1.8h0m3-.4h0m.4 2h0m0-4h0m1 1.5h0m3.3-14.3h0m0 12.1h0m2.2 .3h0m4.3-8.1h0m.9 6.9h0m2.1-8.4h0m10.7 5.3h0m.8 1.4h0m.8-1.6h0m2.1 6.4h0m.1-.9h0m.2-9.7h0m.4 2.1h0m1.2 5.5h0m.4 1.7h0m2.1-7.3h0m3.2 2.5h0m1.4 4.3h0m.1-2.3h0m1.1-7h0m0 2.6h0m.1-1.1h0m1.4 4.1h0m2.7 6.1h0m.6-9.8h0m3 1.4h0m1.5-3.2h0m.4 3.3h0m1.7-1.4h0m.2-2.3h0m1.5 3.4h0m.7 3h0m.6 2.1h0m.5-6h0m.1 1.3h0m1.1 1.3h0m.6-5.2h0m2.3 1.6h0m.6 .7h0m2.1 .7h0m.6-5h0m3.3 9.5h0m.9-7.3h0m.7 2.2h0m.3-4.1h0m1.9 13.2h0m1-8.4h0m.7 .4h0m1-5h0m1.2 13.8h0m.5-10.8h0m.5 4.4h0m2.8-.5h0m1 3.4h0m.2-.8h0m1.7-11.9h0m2.4 15.1h0m.9-4.6h0m1.8 2.8h0m1.6-.9h0m.2 1.9h0m1.4-2.8h0m.3-2.1h0m.5 4.9h0m1.9-4.6h0m.3-.3h0m.2-3.9h0m.6 6.9h0m4.7 1.4h0m.3-14.9h0m.4 9.2h0m1.6-.4h0m2.5 4h0m1.5-3.4h0m1.2 8.1h0m3.6-12.1h0m1.6 1.7h0m.6 6.6h0m.3-5h0m1.7 0h0m1.3-2.7h0m1.1 6.1h0m1.8-7.2h0m.3 6.5h0m1.9-6.6h0m1.3-2.1h0m3.8-1.9h0m1.9 2.5h0m4.8 5.4h0m4.1 1.4h0m2.9-3.7h0m5.5 4.3h0m6.7-1.8h0m4 4.4h0m3-8.9h0m5.3-6.8h0m5.2 3.9h0m9.1-12.9h0m5.5-.7h0m8 5.5h0m4.3 12.7h0m0-13.4h0m.6-4.7h0m.1-.5h0m7.2 6.1h0"/>
<path stroke-width="2" d="M425.3 426.6h0m3.7 1.7h0m6.5-.3h0m2.3-3.9h0m8.9 2.9h0m1.1 .5h0m6-1.3h0m6.8-9.1h0m1.1-1.3h0m3.6 4.8h0m1.8-6.4h0m10 5.8h0m11.5-9h0m.9 2.3h0m3.5 3.3h0m1.5 6.1h0m.8-9.9h0m2.7 5.7h0m1.3 .4h0m2.9 3.7h0m1.9-.6h0m4.1-5.2h0m.8 1.1h0m.8-1.2h0m4.4 9.7h0m1.8-6.9h0m1-2.6h0m6.1 1.7h0m4.9-1.5h0m.3 8.7h0m20.6-6.7h0m4.1-.6h0m29 2.6h0m1.4-1.2h0m5.8 .2h0m1-2.4h0m37.7 .8h0m10.8-8.7h0"/>
<path stroke-width="1" d="M451.5 424.9h0m27.3-11.5h0m12.3 11.3h0m19.6-4.2h0m15.4-2.8h0m1.2-2.9h0m9.2 3.7h0m3.5 2.2h0m8.7-2.2h0m.4-1.7h0m15.9 5.2h0m6.4-7.2h0m22-10.1h0m12-4h0"/>
<path stroke-width="6" d="M268.7 432h0m74.8-7.1h0m10.8-.1h0m38.4-.9h0m57.7 .7h0m81.9-6.5h0"/>
<path stroke-width="5" d="M367.4 429.8h0m3.8-7.5h0m3.1 4.8h0m15.4-3h0m2.3-1.7h0m8.5 2.5h0m7.4-.4h0m.8-1.8h0m18.7 1.3h0m1.1 2.7h0m8.2 .4h0m1.1-5.8h0m.9 2.9h0m1.6 0h0m.5-5h0m1.3 5.2h0m.3 .8h0m.5 2.4h0m1.4-3h0m.2-1.3h0m.2 .9h0m3.7-1.7h0m2.9-14.8h0m1.6 10.9h0m.8 9h0m1.3-13.2h0m1.3 3.7h0m.4 6.8h0m.3-5.8h0m1.1 5.7h0m1.3-8.5h0m4.7 9.5h0m2.9-1.6h0m.6-14.4h0m6.4 6.7h0m.6 2.3h0m.2-1.2h0m.8 3.6h0m1.2-4.5h0m1.8 6.8h0m.5-6.1h0m1.3 2.3h0m2.7 2.3h0m.5-6.3h0m1 0h0m.7 3.5h0m1 2.2h0m1.2 3.7h0m1.1-5.6h0m.8-3.5h0m2.9 4.3h0m.3 1.4h0m1.2-1.4h0m3.5-.4h0m.9 1.6h0m1.4-5.9h0m.6 2.6h0m2.1 2.6h0m1.9 2.8h0m3.3-9.4h0m.7 6.4h0m1.3-.4h0m2.6-8.3h0m1.9 10.9h0m1.6-9.1h0m.8 16.4h0m1.6-14h0m2.1 .4h0m.8 1.5h0m8.3-2.5h0m1.7 .7h0m7 8h0m.3 1.8h0m.1-1.6h0m2.2 4.1h0m.6-16.6h0m.4 4.5h0m2.2 5.1h0m5.5 9.2h0m1.2-9.8h0m3.1-.5h0m.4-4h0m1.1 2.6h0m8-1.3h0m2.6-.9h0m3.7 1.6h0m.7-3.3h0m1 4.2h0m.2 .9h0m6.8-5.2h0m1.1 5.1h0m.8 .7h0m1.1 5h0m.3-11.8h0m3.9 7.3h0m.2-5.1h0m7.3 7.4h0m.8-25h0m.4 2.5h0m4.9-1.8h0m.7 .9h0m.1 1.7h0m.4 4.9h0m5-12.9h0m2.4 3.7h0m8.2 1.6h0m1.2 5h0m.8-6.3h0"/>
<path stroke-width="4" d="M358.9 425h0m47.8-3.1h0m10.9 1.8h0m3.6 3.3h0m.2-4.2h0m.2 2.7h0m6.9-1.9h0m.6 2.2h0m0-.5h0m2.5-2.2h0m3.2 1.4h0m1.7 .6h0m.1 1.5h0m1.5-.7h0m.1 2.9h0m1.7-3.6h0m.2-1.2h0m.2 3h0m1.1-5.3h0m1.7-1.5h0m2.1 5.6h0m.5-5.7h0m1 5.6h0m1.1-1.9h0m0-3.9h0m.4 3.8h0m1.1-2.2h0m1.4-3.4h0m0 3.6h0m1.9 .1h0m1.5-6.8h0m.2 8.9h0m.2 2.7h0m.6-1.3h0m.8-2h0m1.5-7.4h0m.1 7.5h0m1.8-6.8h0m.3-5.5h0m.2 6.2h0m0 7.1h0m.6-10.6h0m.5 2.4h0m.6 2.8h0m.8 5.6h0m.1-2.4h0m.3-5.3h0m.1 7.4h0m.3-7.7h0m.2-1h0m.3 7.6h0m.3-12h0m1 10h0m.1-.4h0m.1 1.8h0m.4-7.1h0m.6 1.7h0m.1 2.4h0m.2-.3h0m.3-2.3h0m0 1.3h0m.4 .2h0m0 2.6h0m1 .3h0m.2 .4h0m1.5-4.8h0m.1-1.2h0m.8 1.1h0m.1 4.3h0m.4-5.5h0m.4-3.6h0m.5 13.8h0m1.1-7.5h0m1.2-3h0m1.7-.6h0m.8-1h0m.1 2.1h0m1.6 8.7h0m.5-.1h0m.5-5.7h0m.8 6.5h0m1.4-2.9h0m.2-7.6h0m.9-1.6h0m1.7 7.1h0m.4-2.9h0m1.6 4h0m2.4-6.3h0m.5-.8h0m.1 2.2h0m2.1-.7h0m.3 7.5h0m1.8-5h0m.1-.1h0m.2 5.7h0m1.3-9.4h0m.1 3.7h0m.4 .1h0m0 2.4h0m.3 3.8h0m1.4-2.8h0m.9-1.8h0m.1 .6h0m0-3.8h0m.8 6.3h0m.3 .1h0m.2-10h0m.2 8.5h0m1.4-3.4h0m.3 5.1h0m.7-7.9h0m.2 2.6h0m.6 5.5h0m.8-14.6h0m1.5 10.8h0m1 .2h0m.5-1.6h0m.2 1.1h0m.9 1.7h0m.5 .2h0m0-1h0m.8-.5h0m.4-5h0m2.7 7.8h0m.3 2.5h0m.4-7.4h0m.2 2.5h0m.4-2.2h0m.3 1.9h0m.4-3.2h0m.9 1.3h0m.2 4.2h0m.4 1.5h0m1 .1h0m1.1 .1h0m.2-2.7h0m1-2.3h0m0 1.5h0m0-6.7h0m.7 3.4h0m2.3-1h0m.5 .5h0m.5 4.4h0m.6 .1h0m1.2 2.4h0m.1-8.7h0m.8 8.9h0m.2-10.5h0m.1 6.7h0m.1-2.4h0m.5-4.3h0m.3 .8h0m.5 2.1h0m.2-3.8h0m.2 12.1h0m1.5-2.7h0m1.1-3h0m.1 6.7h0m2.2-.5h0m0-9.7h0m1.2 6.6h0m.1-9.5h0m.5 5.8h0m.4 1.7h0m3.8 3.8h0m.7-.6h0m2.2 1.5h0m2-5.8h0m2.6 4.5h0m.2 .9h0m2.1-6.2h0m.3 2.9h0m1.2-8.6h0m0 7h0m0 1.1h0m.3-.3h0m.7-.4h0m4.2-1.9h0m.2-.8h0m3 5.6h0m1.9 2.3h0m.1-11.9h0m.6 7.8h0m.6 2.2h0m1-10.4h0m3.4 10h0m6.2 2h0m5.6 .8h0m.6-9.5h0m6 4.7h0m2-1.7h0m3.5-7.2h0m4.9-5.9h0m5.7-10.8h0m5.6 10.8h0m2.6-11.7h0m1.5 10.3h0m1 1.8h0m.5 2.6h0m1.4 .1h0m.2-9.2h0m4.1 9.4h0m.4 17.8h0m1.7-28.6h0m4.6 10.6h0m1.9-13.4h0m3.6 3.8h0m2.1 15.4h0m6.4-10.8h0m.6 10h0m19-13.3h0"/>
<path stroke-width="3" d="M420.9 424h0m.4-2.1h0m7.3 3.4h0m.2-5h0m3.1 7.5h0m1.7-3h0m3.4-8.1h0m3.3 7.7h0m4.5-2.4h0m3.7-1.1h0m3.6-1.8h0m.7 7.2h0m2.8-8.5h0m.7 5.7h0m.3-2.9h0m.5 1.1h0m.9 .3h0m1 5h0m4.2-10h0m0 3.2h0m1 .3h0m.9 .5h0m.1-.5h0m.1 1h0m.5 2.8h0m.7 .3h0m1.2-11.5h0m1.3 1h0m1.3 5.3h0m2.2 2.4h0m.4-4.6h0m4.1 .3h0m.6 2.9h0m0-3.7h0m1 5h0m.3-.5h0m.1-4.4h0m.1 2.4h0m.2-2.8h0m.6 9.4h0m.4-4.8h0m.3-5.1h0m.4 9.4h0m.5-11.7h0m.9 12.2h0m.1-10.8h0m.2 8.7h0m1.5-5.9h0m.8-3.9h0m1.6 4.4h0m1.8 .4h0m.1 3.9h0m.4-4.1h0m.5 10.5h0m.2-5h0m.2-8.3h0m.6 10.5h0m.6-2.3h0m4.1-4h0m1.6 .5h0m.2 5.9h0m.5-6.1h0m.3 1.6h0m.6-3.4h0m.1 6.6h0m.5-4.1h0m.5-5.2h0m.5-2.5h0m.5 .9h0m.3 7.9h0m1.5-2.1h0m.3 4.5h0m1 .7h0m.1 .7h0m3.4-6.1h0m1.4-5.5h0m2.6-3.6h0m1.3 5.8h0m.3 1.5h0m.8 9.2h0m.3-5.2h0m.2-4.2h0m1.7 8.2h0m.8-5.9h0m.8 2.2h0m.8 3h0m1.2-1h0m.2-7.9h0m9.8 3.6h0m6.3 7h0m.2-12.8h0m.6 3.6h0m1.1 2.6h0m.6-.1h0m.1-4.2h0m.8 4.6h0m1.8-4.6h0m1.3 3h0m8.5 2h0m1.8-3.3h0m1.2 2.3h0m7.1-7.2h0m1.3-2.9h0m.5 2.7h0m5.3 7.8h0m1.9-2.4h0m1.7 5.1h0m.1-9h0m.5 7.5h0m1.9 .2h0m4.3-.9h0m.7-7.6h0m1.4 5.8h0m8.3-7.6h0m1.6 7.4h0m3.4-3.8h0m1.2-9.2h0m0-3.4h0m1.6 13.9h0m6.5-.7h0m4.8-10.7h0m14.6 4h0m2.4 3.2h0m3.4-13.1h0m.5 3.4h0m2.1-4h0m3.5 1h0m7.5 10h0"/>
<path stroke-width="2" d="M441.3 426.1h0m3.7-11.1h0m5.3-3.3h0m13 7.6h0m5.9-3.5h0m1.7 7.6h0m3.1-1.7h0m1.3-6.3h0m4.9 6.1h0m2.9 8.7h0m2.9-9h0m1-3.1h0m.2 3h0m.2-3.3h0m2 7.5h0m2.9-10h0m20.4-5.2h0m.2 3.6h0m.1 9h0m2.4-.9h0m.5 2h0m.5-.2h0m1.7-4.4h0m6.7 .8h0m.5 2.4h0m.7-6.2h0m3.1 1.3h0m.3 6.8h0m3.2-2.7h0m6.9 5.7h0m.1-10.6h0m5.7 4.2h0m14.9-3.7h0m6.8-2.2h0m8.6 4.1h0m7.4 2h0m16.8-2.2h0m5.5-24.9h0m6 5.6h0m1.8-.1h0"/>
<path stroke-width="1" d="M440.5 427.7h0m34.1-4.8h0m21.5 4.8h0m1.1-9.7h0m1.3 2.9h0m4.4-1.9h0m8.4-4.4h0m2.4-1.1h0m3.5 4.1h0m2-.6h0m11.8 4.6h0m14.4 3.7h0m.9-6h0m4.6 4.5h0m28.2 .5h0m16-16.1h0"/>
</g>
<g stroke="#36b440">
<path stroke-width="6" d="M348.9 428h0m5.4 .8h0m38.4-1.6h0m55.8-20h0m1.9 18.9h0m1.8-12h0m80.1 2.3h0"/>
<path stroke-width="5" d="M403.6 428.3h0m19.4-1.4h0m3.6 2.7h0m2.9-1.7h0m2.9 3.5h0m.9-4.7h0m4.5-.7h0m.9 4.7h0m4.2-3.6h0m.9-.4h0m1.5-12.2h0m2 7.1h0m1.7 .1h0m2.3 5.2h0m1.6 .7h0m0 1.5h0m.4-15.6h0m.3 15.4h0m3.7 .8h0m.7-1.7h0m1.4-14.3h0m.6 6.2h0m2.6 .1h0m1-1.2h0m.5 2.4h0m1.6 6.6h0m.4-7.7h0m9.4-3.3h0m1.7 .8h0m1.4-1.2h0m0 .2h0m.5-1.6h0m.2 8h0m.1 2.6h0m1-8.2h0m.7 4.9h0m.2-6.9h0m.2 12.5h0m.2-18.1h0m1.8 13h0m.1-10.9h0m.8 8.8h0m.2-.7h0m.4 2.8h0m.2-5h0m.4 10.3h0m.7-2h0m.8-7.9h0m1.2-6.1h0m.6 9.6h0m.2-6.9h0m.5 2.8h0m4.3-3.2h0m1 .2h0m.5 5h0m1.8 2h0m.1-4.9h0m.9 1.7h0m2 1.2h0m1.9 1h0m.4 .9h0m2.7-9.7h0m.6 17.1h0m1.9-12.4h0m1.7 1.1h0m.4 4.4h0m2.3 1.2h0m4.3-6.8h0m1.3 .1h0m4.6 1.1h0m2.9 1.8h0m2.4-5.9h0m.1 11.3h0m1.8-6.5h0m.4 3.1h0m1 .4h0m3.2 .2h0m3.7-5.4h0m.1-4.9h0m.3 6.8h0m.5 2.4h0m1.8 5.8h0m2.8-11.8h0m2 13.3h0m3.8-6.7h0m1.1-.7h0m0 1.2h0m3.1-6.6h0m.2 14.7h0m.4-11.4h0m.3 .4h0m6-29.5h0m7.7 22.3h0m2.1 9.7h0m17.8-3.2h0m6.3-43.3h0m4.5 23.2h0m14.6 19h0m3.6-42.3h0m18.3 15.4h0"/>
<path stroke-width="4" d="M301.8 429.9h0m84.8 3.1h0m20.1-2.4h0m1.6-1.8h0m3.8-4.5h0m1.4 2.9h0m10.4-2.7h0m2.3 1.4h0m1.4 3.9h0m.2-1.6h0m.7-.2h0m2.9 2.4h0m5.2-2.7h0m1-16.4h0m.2 4.3h0m.3 13.8h0m.8 1.7h0m.1-5.5h0m.9-3.7h0m.2 10.3h0m.2-6.4h0m0 4.4h0m1.3-13.4h0m1 12.5h0m.4-14.4h0m.1 3.4h0m2.1-1.6h0m1.5-3.6h0m2.5 2.6h0m3.4-6.2h0m1.1 8.2h0m.4 7.5h0m1.7-9.8h0m0 .4h0m.1 5.3h0m1.5 .3h0m.1-4.1h0m1.8-3.6h0m.1 8.3h0m.2 .2h0m0-1.3h0m.1-.5h0m.1 8.9h0m.4-11.2h0m.7 3.8h0m.7-1.5h0m.4-4.7h0m.6 4.4h0m.1-1.3h0m.9 8.7h0m1.1-3.6h0m.4-4.8h0m.9-5.1h0m.4 4.4h0m.3 8.8h0m.6-9.9h0m.8 2.7h0m1.5-1.2h0m.2-1.9h0m.5 2.2h0m0 3.1h0m.2 6.2h0m.7-7.4h0m.4-3.9h0m.3 2.3h0m.2 .5h0m.4 .7h0m1.4-9.3h0m.5 3.7h0m.2-.7h0m.2 15.8h0m1.4-10.7h0m.7-4.6h0m.1 .7h0m1.6 2.4h0m.4-.9h0m.1 .8h0m.4 .4h0m.1-.2h0m.8-2.5h0m.8-1.2h0m.1 13.2h0m.8-12h0m.1 4h0m.6-5.1h0m1.3 6.5h0m.5-5h0m1.2 1.3h0m0-1.9h0m.3-1.6h0m.7 11.6h0m.1-1.9h0m.9 .9h0m3-11.4h0m.5 6.5h0m.4-1.8h0m1.5-2h0m.6 14.2h0m.5-14h0m.4 2.7h0m.2-1.1h0m.9-.4h0m.1-2.7h0m0 1.6h0m0 2.1h0m.6-1.8h0m.1 4h0m.5-3.4h0m1.1-1.9h0m.3 4.1h0m.1 2.2h0m0 1.3h0m1.1-8h0m.5 6.4h0m1.8-4.9h0m1.3 6.1h0m.5 1.5h0m.3-8.6h0m.2 13.5h0m.2-8.6h0m1.1-3.3h0m.2 4.1h0m.7-7.8h0m.6 5.1h0m.8-6.8h0m.3 7.5h0m.5 4.9h0m0-6.1h0m.8 1.9h0m.1 0h0m.6 5h0m1-4h0m.1-.8h0m.5 6.5h0m.5-12.5h0m.3 4.7h0m.5-.7h0m.4 3.9h0m1.9-3.4h0m.3-3.9h0m2.5 8.2h0m.2-.1h0m.1 1h0m.2-7.3h0m.1-2.4h0m.4-.4h0m.2 4.6h0m0-.5h0m.7-2.5h0m.3 0h0m.6-9.1h0m.2 7h0m2.7 8.1h0m.3 .9h0m.5-2.2h0m1 2.5h0m1.3-1.1h0m1.2 0h0m1.4 2.3h0m.5 4h0m.4-7.8h0m.3-7.2h0m1.3 9.3h0m1-1.1h0m1.3 3.8h0m.5-4.4h0m.5-.8h0m0 3.8h0m1.8-8.3h0m2.6-1.4h0m2.1 7.8h0m.1-2.5h0m.4 3.6h0m1.3 3.2h0m3.1-6.9h0m.6 .5h0m1.5-4.4h0m1.1 14.2h0m.4-3.7h0m1-5.4h0m.1-4h0m0-4.8h0m.6 3.5h0m2.9 4.4h0m.8 3.2h0m.4-10.4h0m2.2 7.1h0m2.1 1h0m.3 1.9h0m.5-12.3h0m4.5 4.4h0m6.8 10.9h0m1.3-6.8h0m3.1-12.7h0m1 14.7h0m.8-12.5h0m.4-25.2h0m5.6 45.4h0m6.7-26.1h0m3.6-22.3h0m.8 26.1h0m3.5-10.5h0m8.2-3.3h0m1.1-14.4h0m.8 14.5h0m2.1 20.8h0m.5-32.6h0m2.4-7.2h0m5.9 13.8h0m1.5 .1h0m1.1-4.1h0m.3 .6h0m.3-17h0m7.2 14h0m3.6 6.8h0m4.1 28.5h0m19.6-35.9h0"/>
<path stroke-width="3" d="M421.3 425.4h0m9 1.4h0m3.5 .4h0m3.8 5.4h0m.7-3.8h0m5.5 1.3h0m.7-7.4h0m1.3 8.7h0m2.7-16h0m3.6 6.6h0m.7-5.1h0m0-2.7h0m2.1 13.1h0m1.9-11.9h0m.2 19.7h0m.1-17.3h0m8.1 .6h0m.1 .5h0m.1-9h0m0 5.9h0m1.1 3.2h0m.1-2.5h0m.1 4.3h0m.7-1.9h0m4.8 .3h0m.4 .2h0m.7-5.1h0m.1 6.3h0m.2 6.6h0m1-8h0m.2-.4h0m2.2 4.2h0m.6-2.1h0m5-6.1h0m.4 10.5h0m1.2-4.5h0m.8-5.7h0m3.4 12.7h0m.1-10.2h0m.4 2.5h0m1.5 .6h0m.1-1.5h0m1.3-1.2h0m.9 .2h0m1.7-3.6h0m.1 3h0m1.1 .1h0m1.8 1.8h0m.7-2.8h0m.3 2.7h0m.5 6.2h0m.5-4.9h0m1.3 .9h0m.1-12.3h0m1.9 2.9h0m4.3 6.7h0m.6-.4h0m1.3 4h0m1.1-8h0m.4 3.5h0m1.1 3.6h0m.3-2h0m.5-4h0m1 1h0m.1 4.7h0m.5-5.2h0m.5 5.2h0m.4-7.7h0m1.6 4.4h0m.3 3.2h0m1.2 7.9h0m.1-10.6h0m1.2-1.5h0m.6-1.5h0m.2 .5h0m.2 4h0m2.2-3.1h0m1.9-.6h0m.3 .9h0m.8 8.4h0m3.8-15.8h0m.1 8.9h0m1.1-2h0m.4 2.2h0m1.6-1.9h0m1.8 3.4h0m.7-4.8h0m1.5 6h0m1-1.5h0m.2-.5h0m.4 5.9h0m.9 1.7h0m1.8 3.3h0m6-8.9h0m1.1-10.7h0m2.1 6.3h0m2.4 1.8h0m5.4 2.3h0m1.1-10.8h0m1.8 18.5h0m.2-12.4h0m7.1 10.9h0m1.7-19.9h0m1.7 14h0m2.5-4.6h0m4.3-2.4h0m10.4-34.7h0m1.6 1.4h0m4.6 36.8h0m.4-46.2h0m12.5 8.1h0m1.8 49.2h0m5.5-40.3h0m7.3-13.6h0m5 46.8h0m0-7.2h0m.7 14.4h0m.1-12.5h0"/>
<path stroke-width="2" d="M429 425.1h0m12.3 1.2h0m9 3.9h0m11.4-13.4h0m1.2 11.7h0m2.4-19.7h0m1.8 12.7h0m4.7-3.8h0m3.5-.2h0m3.6-3.9h0m1.3-.3h0m6 5.3h0m.8-1.2h0m.2 7h0m.2-1.2h0m1.2-6.2h0m.9 .8h0m17.6 4.4h0m2.7 .6h0m2.2-2.2h0m1-5.2h0m1.2 .7h0m1.8 1.9h0m.4-6.7h0m1.7 16.3h0m2.4-11.1h0m2.6-5.9h0m6 10.4h0m.3-9h0m3.2 1.3h0m7 9.7h0m9.3-3.2h0m40.3-30.7h0m16.1-10.5h0m22.6-8.8h0m10.8 50.7h0m193.4 1.4h0"/>
<path stroke-width="1" d="M431.6 431h0m8.9-3.6h0m.1-.1h0m10.1-13.8h0m23.9 6h0m.4-.1h0m3.8-4.3h0m19.2 5.3h0m.5-5.5h0m12.2 15h0m3-9.7h0m3.3-9.8h0m9.1 .1h0m10.4 12.3h0m9.8-8h0m2.4 5.5h0m10.1-10.2h0m6.2-2.5h0m14.1-20.8h0"/>
<path stroke-width="6" d="M380.5 428.2h0m13.9 2.7h0m14.3-3.9h0m180-30.8h0"/>
<path stroke-width="5" d="M377.4 428.9h0m9.9-.3h0m2.4 .1h0m10.8-1.6h0m1.6-4.4h0m6.6 7.3h0m9.8-2.5h0m8.9 1.9h0m1.1 2h0m8.2 2.1h0m3-5.8h0m.6 1.6h0m.4-.9h0m1.4-3h0m.5 3.2h0m1.9-1h0m.2-3.2h0m1.2-.2h0m2.5 2.7h0m.3 3.2h0m3.5-8.6h0m1.5-4.1h0m.7 16.5h0m.4-17h0m2.5-5h0m1.3 10.2h0m2.8 .1h0m.3-5.3h0m.5 2.6h0m1.1-7.9h0m1.2 7.1h0m1.4 .8h0m.9-2.4h0m.8 4.2h0m2-4h0m3.9 12.8h0m.5 .1h0m1-5.5h0m.6-9h0m.4-3.8h0m2.2 7.1h0m4.1-1.7h0m.8 6.8h0m.6-7.5h0m3.8 3.4h0m0-.7h0m.6-3.6h0m0 .9h0m1.3 2.7h0m1.4 6.4h0m3-11h0m4-5.3h0m1.8 18.1h0m2.7-5.9h0m1.5 7.4h0m0-15.4h0m0 0h0m.5 11h0m1.2-9.8h0m2 4.9h0m.7-5.2h0m.4-.9h0m.2 1.2h0m5.2 1.8h0m.7-.5h0m3.1-1.6h0m0 6.5h0m.1 2.5h0m2.2-8.4h0m5.6 6.3h0m2.2 1.9h0m1.3-5.7h0m.5 6.1h0m.1-6.1h0m5.1-.4h0m.7 9.6h0m3.4-16.6h0m2.1 14.9h0m1.9-13h0m2.9 4.9h0m2.1 2.6h0m1.2-4.1h0m.2 5.6h0m.8-1.9h0m.2-2.6h0m.7 7.5h0m2.2-13.8h0m12.3 8.7h0m5.6 4.6h0m6.2 4.7h0m3.6-7.9h0m4.2 7.4h0m8.3-14.9h0m.4 8.2h0m4.9-25.4h0m.6-22.6h0m.2 12.1h0m.4 4.6h0m5-8.2h0m2.4-3.4h0m3.3-.2h0m10.1 16.5h0m12.2-6.2h0m1.4 2.7h0"/>
<path stroke-width="4" d="M327.3 431h0m11.5-4.5h0m59.2 3.7h0m.2 1.8h0m5.9-2.2h0m13.5 2.4h0m3-4.6h0m.3-.8h0m.3-2.2h0m.2 7.3h0m.2-3.1h0m7.3 1.5h0m.2-1.4h0m2.5-1.2h0m1.9 2.7h0m1.3-3.2h0m1.5-10h0m.2 9.7h0m.1 .9h0m1.6-10.2h0m.4 12.3h0m.3-2.5h0m.3 2.1h0m1-2.6h0m.6 3.2h0m.1-2.2h0m1.1 1.7h0m.4-9.6h0m.4 2.1h0m.9 .4h0m1.6 5.7h0m.3-10h0m.1 9.6h0m.5 1.9h0m1.6-18.7h0m.6 8h0m.9-5.1h0m1.4 14.9h0m0 2.7h0m.2-5h0m1.2-15.1h0m.3 19.1h0m.2-11.5h0m2.1-4.5h0m2 3.9h0m.1 .2h0m1 10h0m2-3.5h0m.4 6h0m.3-11.9h0m1.9 .6h0m.2 2.4h0m.5 2.9h0m.5-11.1h0m.3-2.4h0m.1 17.8h0m.9-8.9h0m.5-4h0m0 15.1h0m.1-10.8h0m0-3.3h0m.6 5.6h0m.1-1.2h0m.1 4.7h0m.2-11.6h0m.2 5.3h0m.1 .2h0m.3 0h0m1.4 9h0m.4-9h0m.9-3.5h0m.3-3.2h0m.7 5.1h0m.1 5.8h0m.5-8.5h0m.2-2.6h0m1.5 5.8h0m.1-4.9h0m.3 6.1h0m.5-2.8h0m1.3 4.9h0m.5-3.4h0m.3-.9h0m.3 6.5h0m3.9-7.2h0m1-2.6h0m.5 8.9h0m.8-12.4h0m.3 10.3h0m.8-1.9h0m1.3 8.8h0m1.6-14.1h0m.2 1.3h0m.9-2.7h0m.4 4.5h0m.5-6.9h0m.2 4.4h0m.4 9.1h0m.3-10h0m.1 17h0m0-15h0m.6 11h0m1.1-7.4h0m.4-2.3h0m.3 0h0m.6 .9h0m1.3 6.3h0m.2-5.2h0m1-2.1h0m.3-6.2h0m0 1.3h0m.1-.8h0m0 5.8h0m.2-3.7h0m.5 4.7h0m.5 .6h0m3.5-3.9h0m.2 2h0m.8-6.5h0m.2-1.2h0m.3 13.6h0m.2 .6h0m1.1-10.8h0m0 13.2h0m.8-8.5h0m.2 9.5h0m.6-14.3h0m.1 7h0m.4-.5h0m.4 2.8h0m1.1 6.8h0m.2-6.2h0m.5-4.5h0m.5 2.5h0m1.4-5.1h0m.4 4.3h0m1.2-10.1h0m.5 7.7h0m.1 2.3h0m.1 .8h0m.7 1.7h0m1-4h0m.4 1.8h0m.3 .7h0m1.6-5h0m.4 4h0m.2 11.7h0m.1-14.1h0m.1 5.9h0m.8-5.5h0m2.3 4.1h0m.5-13.1h0m.4 5.7h0m.4-.3h0m1.7 5.2h0m.3-5.4h0m.2 13.2h0m1.1-11.2h0m0 2.1h0m.7-3.5h0m.6 7.5h0m.8-4.3h0m.3 2.4h0m.4-10.9h0m.5 9.8h0m.7-5.9h0m.5 5.9h0m.8 3.6h0m.5-.5h0m1.1-.9h0m1.4-2.2h0m.2-2.4h0m.6-.5h0m2.8 14.8h0m1.6-18.4h0m.2 12h0m.6-7.9h0m1 4.8h0m.2-3.4h0m.1 1.1h0m.8 5.9h0m1.3-7h0m1.1-1.5h0m1.7 9.7h0m.8-11h0m1.3 1.3h0m1.3 3.9h0m.9-5.8h0m.4 7.7h0m1.2 .5h0m2.3-23.6h0m.2 20.9h0m1.3-9.6h0m2.1 6h0m.1-2.5h0m2.4 3.4h0m1.9 3.3h0m.7-12.1h0m2.8 9.3h0m1.3-1.6h0m.3 .1h0m.6-.6h0m8.3-2.7h0m.9 5.4h0m1.2 6.8h0m1-10h0m5.3-24.8h0m2.7-6.1h0m1-2.9h0m1.3-2.8h0m2.2 .6h0m4.9 43.1h0m2.4-41.1h0m1.4 30.8h0m1.5-31.8h0m2.2 17.2h0m2.4-17.8h0m4 29.8h0m1.7-23.6h0m2.9-1.1h0m.5-2.9h0m8-4.4h0m4.3 .7h0m3.5-2.3h0m5.5 41.2h0m28-33.2h0"/>
<path stroke-width="3" d="M433.6 427.5h0m5.6 3.2h0m1.1-9h0m5.4-2h0m.1 1.6h0m.8 3.2h0m.9 3.1h0m1.2 3.7h0m0-8.5h0m6.9-8.6h0m.7 .7h0m0 1.6h0m.3-.5h0m2.4 6.8h0m.4-11.5h0m.8-2.2h0m2.9 8.9h0m.7-.1h0m.4 .2h0m3.5-2h0m1.3 .5h0m1.3-.2h0m2.2 1.3h0m.9 .9h0m.5 3.1h0m3.6-3.8h0m.2 3.2h0m.4 6.7h0m.2-8.5h0m1-1.7h0m1-1.4h0m.3 1.7h0m.4-9h0m1.4 16.6h0m.4-14.4h0m.1 12.7h0m1.8-4.3h0m1.7-1.4h0m.7-1h0m1.1 .3h0m.1 1.4h0m1.1 1.3h0m.6-3.3h0m1 5h0m.9-5.9h0m.4 3.4h0m.3-3.5h0m.3 7.9h0m2.3-11.4h0m.4 8.2h0m1.1-4.9h0m.2 2.8h0m.8-6h0m0 5.8h0m.6-2.2h0m2.1 3.8h0m1.8-4.2h0m.3-2.6h0m1.1 .4h0m.1 4.6h0m.1 2.2h0m.4-9.2h0m1.2 12.4h0m1.6-1.9h0m.1 .6h0m1-7.1h0m.3-.6h0m3 8.3h0m1.3-10h0m2.7 5.1h0m.6 1.8h0m.3-5.3h0m.3 1.5h0m1.5 2.2h0m.9-3.4h0m2.1 9.5h0m2.2-.7h0m7.1-8.7h0m.1 5.8h0m5.4-6h0m.4-3.3h0m4.4 16.4h0m.5-13.9h0m1.6-3.5h0m.9 5.1h0m1.7 6.4h0m2.3-1.8h0m4.1-7.7h0m1.7 7h0m.9-2.9h0m.3 6.5h0m7.2-7.6h0m5.8-26.5h0m4.2 11.1h0m6.9 11.6h0m4 9.3h0m4-4.1h0m1.4-19.6h0m1.6 28.3h0m3.7-40.8h0m2.8-15.4h0m4 21.8h0m2.5-4.4h0m25-11.6h0m.7-4.8h0m5.6 11.5h0m1 2.9h0m19.9-2.8h0"/>
<path stroke-width="2" d="M435.5 425.5h0m2.3 1.1h0m7.2-12.4h0m2.8 12.7h0m6-7.4h0m6.8 1.1h0m2.5 7.9h0m10.9-.2h0m9.1-7.9h0m2.9 7.2h0m3.4-12.9h0m.2-.1h0m2.7-1.1h0m2.2 17.3h0m3.4-16.3h0m6.3 17.6h0m4.8-5h0m3.7-10.6h0m2.7 6h0m.5-9.6h0m1.1 1.7h0m8.3 5.7h0m.7-9h0m2 6h0m1.9-.6h0m9.6-5.7h0m5.8 9.3h0m36.7-30.7h0m8.2 23.8h0m21.1-28.5h0m1.8 1.5h0m48.9 42.6h0"/>
<path stroke-width="1" d="M435.3 428.6h0m5.5-2.7h0m19.6 .3h0m36.8-9.1h0m15.2 10.9h0m4.8 1.6h0m5.4-7.8h0m5.8 2.3h0m2.6-11.2h0m9 10.7h0m5.4-6.1h0m5.5 1h0m20.5-4.1h0m23.7 12.3h0m36.8-47.4h0"/>
<path stroke-width="6" d="M268.7 430.5h0m74.8-2.9h0m40.1 1.4h0m3.5 1.3h0m8.8-1.8h0m6.7 .9h0m5.7-1.8h0m19.1-1.8h0"/>
<path stroke-width="5" d="M367.4 431.7h0m3.8-6.5h0m3.1-1.1h0m17.7 5.6h0m15.9-4.1h0m7.6 5.4h0m21.1-6.1h0m3.7 2.4h0m.4 3.5h0m.1-2.6h0m1.6-9.7h0m1.9 10.5h0m6.1-.5h0m.7-.2h0m1-7.4h0m2.9 4h0m.3 2.6h0m1-.3h0m.1-.5h0m.3-4.5h0m.3 6h0m1-11.3h0m.1 2.2h0m.7 4.3h0m5.6 1.1h0m2.6-8.6h0m.4 1.1h0m1.6 6.9h0m.5-9.8h0m2.9 3.3h0m.5-6h0m.2 6.9h0m1.5 10.7h0m.2-5.3h0m2-4.5h0m.8 3.7h0m2.1-2.5h0m.5 11h0m.6-13.5h0m1.6-3h0m1 5.5h0m.2 1.6h0m1.7-4.5h0m2.5 7.7h0m.3-8h0m.5 1.4h0m1.3 5.5h0m.9 4.3h0m1.5-6.1h0m.1 .8h0m.2-6.3h0m1.9 8.9h0m3.4-2.2h0m2-5.9h0m1.9-.9h0m.8 4h0m1.6-3.8h0m.9 4.5h0m.7-1.5h0m3.7 1.4h0m2.9-.6h0m3.2 .5h0m0-1h0m.8-3.7h0m1.6 7.8h0m2.9-10.7h0m.3 10.7h0m1.6-6.9h0m.5 .1h0m8.3 .5h0m2.5 5.2h0m1.2-4.7h0m3-.4h0m3.2-1.5h0m2.2 8h0m1.3-11h0m2.6 6.9h0m5.4 2.3h0m2-5.3h0m.9-23.1h0m2.3 17.4h0m3.3 2.1h0m1.5 2.9h0m2.6-10.4h0m1.4 12.5h0m2.3 1.1h0m1.7-32.4h0m5.9 28.3h0m.2 6.5h0m.9-1.3h0m.4 4.8h0m.7-25.8h0m.8-7.3h0m1.4-5.4h0m1.1 12.2h0m3 15.6h0m7.3 11.4h0m6.8-44.5h0m5.4 14.2h0m.3-13.2h0m10.4 42.2h0m2-13.7h0m4.2-32.8h0m1.3 6.9h0m13.1-6.1h0m.2-6.5h0m4.1 .5h0"/>
<path stroke-width="4" d="M358.9 426.6h0m2.3 1.3h0m45.5-4.2h0m12.5 2.8h0m8.6 3.1h0m1.3 .2h0m.9-1h0m.1-.5h0m.9-1.4h0m1.7 4.2h0m.2 1.3h0m.4-2.6h0m.3-.7h0m2.5-12.4h0m3.1 14.2h0m.2-.7h0m.4-13.2h0m.4 5.9h0m.4-1.1h0m.8 8.3h0m2.1-1.6h0m1.6 2h0m.5-6.6h0m.9-11.5h0m1.3 6h0m0 1.1h0m.4 9.9h0m.1-.9h0m.7-16.1h0m.4 17.7h0m.2-.8h0m.7-6.4h0m2.3 2.6h0m0-.9h0m.8-7.1h0m.7 12.9h0m.2-18.7h0m.2 7.8h0m.6 6.8h0m0-.7h0m.8-11.2h0m.7-1.7h0m.4 12.6h0m1-10.3h0m.2-2.4h0m.3 5.6h0m.9-.3h0m1 5.3h0m1.1-10.1h0m.8 .4h0m.1 6.5h0m.1-5.3h0m.2-.6h0m.1 6.4h0m.1-1.7h0m.4-3.2h0m0 3h0m.2 6.1h0m.1-8.8h0m1.3 .7h0m.1 2.3h0m1.2-.4h0m.5-1h0m.3 .5h0m.1-5.3h0m0 3.1h0m.8 6.6h0m.4-3h0m.3-3.2h0m.9 .2h0m.1 6.5h0m.3-2.9h0m.3 3.4h0m.2-1.8h0m.3-7.3h0m2.9-1.4h0m.2-1.3h0m.3 8.8h0m1.1-1.7h0m.4-4h0m.1 3.9h0m1.1-2.5h0m.2 5h0m.2-3.4h0m.4-5.3h0m.5-.3h0m.1-1.5h0m1.2 1.4h0m.6 5h0m.2-2.7h0m.1-1.4h0m.3 4.5h0m.6 7.2h0m.6-1h0m.2-3.7h0m3.7-6.5h0m1-3.2h0m.8 7.2h0m1.4-8.1h0m.1 13.2h0m0-7h0m.7-.9h0m1.1 7.2h0m1.3-7.8h0m.6 16.7h0m.1-9.5h0m.4 2.7h0m.7-6.4h0m1 6.6h0m2.2-7.9h0m.5 1.9h0m0 1h0m0-1h0m.1-2.8h0m.4 5.7h0m1.3-1h0m.5-3.9h0m0-.9h0m.1-.3h0m.1-.4h0m.3-1.2h0m1.1 .4h0m.1 4h0m.2 7.1h0m.1 7.2h0m.6-8.5h0m.2-2.1h0m.1-9.2h0m1.2 6.5h0m.2 5.1h0m.7-8.5h0m1.4 5.3h0m.7-9.1h0m.1 3.4h0m1.2 3.3h0m.7 1h0m.2 3.8h0m.1-3.9h0m.6-.4h0m.8-1.2h0m1 .2h0m1.2 .3h0m.4 2.9h0m0 2.1h0m.9-7.5h0m.4 7.7h0m.1 2.9h0m.5-15.7h0m.4 8.1h0m.2-3.1h0m1.3 3.5h0m2.3 9.9h0m.2-10.2h0m.6 9.2h0m2.5-15.1h0m.7 11.6h0m.7 2.6h0m.5-12.1h0m.1 3.6h0m.4-.8h0m.1 .2h0m.3 .8h0m.8 3.2h0m.2 1.3h0m1.3-11.7h0m1.9 6.8h0m.2 1.1h0m1.1-2.3h0m.8-1.5h0m1.3 .3h0m.3 11h0m.3-9.9h0m.6-1.9h0m.6 4.1h0m.4-6.3h0m.8 10.3h0m1.8-.5h0m1.2-8.1h0m.1 3.6h0m.1 8.1h0m3.9-8.4h0m.8-2.3h0m1.6 6.1h0m.6-9.9h0m.1 7.3h0m0-1.9h0m1.2 10.4h0m.5-4.9h0m1.1 1.2h0m1.3-8.3h0m0 2.1h0m.3 10.1h0m1.3-2.7h0m2.7-6.2h0m.1-7.2h0m.6 16.9h0m.2-9.8h0m.6-17.1h0m3.7-4.2h0m.2 18.2h0m1.9-1h0m1 4.3h0m3.8-21.8h0m9.4 30.3h0m.7-7.6h0m1.3 1.5h0m1.9-.7h0m3.5-10.6h0m2.8-41.1h0m0 24h0m1.5 30.8h0m2.8-36.9h0m1.8 34.1h0m1.7-48.2h0m.8 11.1h0m5.4 5.9h0m.4 9h0m.1 23.6h0m2.7-35.8h0m0 6.8h0m1.4-15.3h0m.8-7h0m.7 18.4h0m4.1-5.7h0m.1 27.9h0m2.8-17.8h0m1.6-9.8h0m1.4 .6h0m1.3-4.5h0m.4 1.6h0m1.7-.2h0m4.6-4.3h0m.6 8h0m1.3 35.4h0m5.7-1.7h0m.2-31.7h0m.9-5.6h0m5.9 5.2h0"/>
<path stroke-width="3" d="M420.9 430.5h0m.1-4.2h0m7.6 1.5h0m.2 .4h0m2.7 .2h0m.1 .4h0m.3-11.1h0m2.2 14.3h0m.4-1.8h0m.4-.3h0m0-4.9h0m.9-11.9h0m.1 12.7h0m1.1 2.3h0m2.2-.9h0m1.3 2.7h0m.6-3.5h0m.3-7.6h0m3.4 10.7h0m4.2-9.7h0m1.2 7.6h0m6.4-13.7h0m1.4-.3h0m.8 11.5h0m1.8 6.4h0m.4-15.1h0m2.2-3.3h0m0 5.3h0m0 11.7h0m.2-3h0m1.6-2.9h0m.1-3.9h0m.7 .4h0m1.7-.1h0m.2 9.1h0m3-6.3h0m.9 7.1h0m.5-17.1h0m.1 .1h0m.7 7.5h0m.4 2.7h0m1.5-3.2h0m0-7.6h0m2.8 6.9h0m.4-6.3h0m.6 15.5h0m.3-11.4h0m.1-2.5h0m.1-1.9h0m.2 3.3h0m.6 .8h0m.6-2.4h0m.6 3.1h0m.4 2.8h0m.4-1.9h0m.6 4.7h0m.2 1.4h0m2.2-12.5h0m1.7 .5h0m1.1 12.8h0m1.7-6.1h0m.2 11.2h0m.2-14.7h0m.4-.9h0m1.3 12.2h0m2.5-15.5h0m1 9.2h0m.1-4.6h0m.2-.3h0m.4-.1h0m2.4-1.6h0m.8 5.9h0m.3 10.6h0m.6-14.5h0m.1-2.1h0m.6 3.6h0m1.7-4.6h0m1.3 6.3h0m.2 1.7h0m.7-3.4h0m.2-4.7h0m.8 9.3h0m1.2 0h0m1.8 .3h0m1.9-2.7h0m.1-5h0m.6 6h0m.6-1.4h0m0-4.4h0m1-1.6h0m1.1-1.2h0m1.9 2.1h0m.1-.9h0m1.5 5.2h0m1.2-.6h0m1-6.5h0m2.2 .1h0m.3 9.3h0m2.9-3.2h0m1 8.7h0m4.3-8.5h0m1.5 3.6h0m1.3 6h0m.9-10.8h0m1.7-.2h0m.2 14.4h0m1.8-7.9h0m.6-1.9h0m3.9-4.4h0m1.4 5.4h0m.3-7.6h0m5.9-1.8h0m.9 2.4h0m1.3 1.2h0m1.3 1.6h0m3.8 4.9h0m5.5-10h0m1.2-3.9h0m4.1 8.5h0m2.9-1.7h0m.8-27h0m4.7 14.7h0m4.1-10.7h0m3.3 33.2h0m.1-9.4h0m3.2-47.3h0m7.9 16.9h0m6.6-1.5h0m1.2 43.4h0m8.9-52.2h0m11.5-4h0m1.7 22.6h0m.1-25.2h0m5.9 28.2h0m11 16.6h0"/>
<path stroke-width="2" d="M425.3 428.1h0m17.8-12h0m3 2.5h0m.6 .5h0m10.9 7.4h0m5.7-9.1h0m5.9-1.2h0m1.7 8h0m6.2-9.6h0m15.9 4.1h0m2.3 .4h0m2.7-6.6h0m1.3 2.2h0m2.9 17.4h0m1.9-4.9h0m2.8-4.1h0m1.3-5.4h0m4.7 2h0m6-12.4h0m1 12.8h0m2 8.6h0m1.7-7.9h0m.4-2.8h0m.8-2h0m2.1 2.6h0m1.4-7.2h0m7.1 5.2h0m15.3 3.1h0m2.3 6.3h0m.6-4.9h0m5.6-2.9h0m1 5.2h0m6.8 .3h0m8.6-5h0m7.4-17.8h0m.4 1.1h0m16.4-32.6h0m232.3 55.5h0m.5-7.2h0"/>
<path stroke-width="1" d="M451.5 420.6h0m9.3 .8h0m20.8-3.9h0m4.6-4.4h0m1.2 1.2h0m3.7 1.4h0m3 2.2h0m2 3.9h0m6.8-9.8h0m8.4 13.7h0m7.9-14.4h0m1.3 8.4h0m6.8-.8h0m15.8 .6h0m6-2h0m44.3-6.3h0m12-25.4h0m37.5 9.3h0"/>
</g>
<g stroke="#e6103f">
<path stroke-width="6" d="M268.7 434.6h0m111.8-18.5h0m6.6-3h0m8.8 3.7h0m12.4-2.5h0m19.1 1.8h0m21.1-3h0"/>
<path stroke-width="5" d="M374.3 417.4h0m13-2h0m4.7-.2h0m15.9 6h0m10.6 2.3h0m10-.3h0m9.3-5.5h0m1.9 3.8h0m.6-10.4h0m0 12.7h0m.4-4.4h0m.1 .1h0m1.3 2.1h0m.3 .9h0m.5-5.6h0m.9 .5h0m.7 3.2h0m6.8-6.2h0m.8 4.6h0m5.2-3.8h0m.7 4.4h0m.1-.7h0m1.9 2.7h0m1.4-9.2h0m.8 6.1h0m.4 3.5h0m.7-5.7h0m1.1 6.9h0m1.3-10.4h0m.2 9h0m1.5-1h0m2.1 1.5h0m3.4-.6h0m1.9-.7h0m.2 5h0m3.6-7.8h0m.7 .3h0m.1 2.2h0m.3 2.7h0m2-9.7h0m.6-14.4h0m.8 24.2h0m.4-5.6h0m.9-1.2h0m.2-3.7h0m1 .5h0m1.9 1.6h0m.6 3.8h0m.8 .9h0m1 1.4h0m2.4-4.7h0m1.6-2.7h0m.6 11.7h0m2.7-4.9h0m3-3.1h0m2.1 .9h0m.2 .5h0m1.8 1.8h0m1.2-1h0m.3-2h0m0 0h0m1.7-.6h0m4.9-.9h0m1.6 .2h0m1.6 2.6h0m2.1-20.7h0m.1 21.3h0m0 4h0m3.4-9.4h0m1.1-1.8h0m5.3 7.4h0m1.9-3.1h0m.2-1.5h0m.2-2.6h0m1 3.3h0m4 .4h0m.4 3.4h0m2.6-6.7h0m.3 4.4h0m5.5-4.4h0m3.9 4.2h0m1.5 .2h0m.1-5.5h0m.2 6.5h0m.8-2h0m0-.9h0m2.8-1.4h0m1.2-.3h0m.8 4.5h0m14.3 7.1h0m8.1-10.5h0m1-2.6h0m.7 2.6h0m13.6 1.9h0m.8 1.6h0m.6 .5h0m5.9 2.4h0m5-8.7h0m.2 5.8h0m5.5 3.6h0m4.9-4.3h0m6.2-3.6h0m13.3-.2h0m1.1-19.5h0m4.3 18.5h0"/>
<path stroke-width="4" d="M301.8 427.4h0m37-5.5h0m20.1-2h0m39.1-.4h0m8.7-3.2h0m1.6 8.7h0m12.3-7.4h0m.3 3h0m3-14.6h0m3.7 15.7h0m1.3-1h0m.2 .1h0m2.3-7.2h0m1.3 2h0m.2 .6h0m.4 6.3h0m.2-8.7h0m1.3 11.5h0m1.7-5.9h0m.1-2h0m1-5.6h0m.2 2.6h0m.4 2.2h0m.4 2h0m.6-2.8h0m1 5.6h0m.1-3.7h0m1.1 2.6h0m.6-3.2h0m1.5 4.4h0m.2-3.9h0m1.4-1.5h0m.2-.6h0m.3 4.4h0m1.1-.1h0m1.1-2.3h0m.5 5.2h0m.1-8.6h0m.6-2.1h0m.4 8.4h0m2.7-26h0m.3-10.5h0m.2 37h0m1.5-1.4h0m0-4.2h0m.4 1.1h0m.6-3.3h0m.7 10.2h0m.8-7.7h0m.4 1.2h0m.4 .9h0m.4 4.9h0m.4-2.4h0m.3-2.3h0m.9-.7h0m.4 4h0m.4-7.4h0m2.1 7.4h0m.1-1.5h0m.5 1.4h0m.4 0h0m.2-.9h0m.4-2.2h0m.1 3.7h0m.7-1.3h0m.3-4.8h0m.4 1.7h0m.1-.2h0m.6-4.5h0m.4 .9h0m.2 14.2h0m.3-9h0m.1-5.6h0m0 2.5h0m.8 .9h0m.2 3.1h0m1.5-7.4h0m.3 12.8h0m.2-5.3h0m.2-3h0m.1 .3h0m.1-2.7h0m.2 8.6h0m.2-3.2h0m2.6-.7h0m.6-4.5h0m1.1 8.1h0m.5-28.9h0m.4 24.9h0m.7-3.7h0m.8 2.9h0m1.4 5.1h0m.4-2.1h0m.2-5.4h0m.7 1.3h0m.1-3.4h0m.8-33.3h0m.1 42.3h0m0-1.9h0m1.3-.6h0m1.5-1.1h0m2.7-5.3h0m.7-4.7h0m2.1 6.8h0m.1 1h0m.5 9.6h0m1.5-3.7h0m.3-12.9h0m.6 15.2h0m.2-3.9h0m1.1-27.1h0m1 27.7h0m.8-5.2h0m.2 3.9h0m.3-.8h0m.3-.9h0m.1-1.4h0m.5 2.7h0m.5-3.4h0m.6-2h0m.4 8.6h0m0-7.4h0m1.1 10.5h0m.2-10.4h0m.1-.6h0m.2 1.1h0m.2-21.9h0m1 24.1h0m.2-1.3h0m.3-17.3h0m.6 21.5h0m.5-2.8h0m.3 2.9h0m.5 1.5h0m.2 1.3h0m.2-8.1h0m.4-4.2h0m.1 12.9h0m.2-6.2h0m1.6-.2h0m.3-15.3h0m.5 19.7h0m.9-5.4h0m.5-2.9h0m.3 2.3h0m.2-33.6h0m0 34.2h0m.4-2h0m.6 3.5h0m.6-2.4h0m.5 7.6h0m0-12.8h0m.5 8.9h0m1.1-1h0m1 8h0m.3-35.4h0m1 29.9h0m.3-4.8h0m.6 2.1h0m.1-19.1h0m.9 22.9h0m0 2.4h0m1.6-11.2h0m.7 5.2h0m0-2.9h0m.5-1.1h0m.3 9.6h0m.2-13.6h0m.3 5.2h0m1.7 2.7h0m1.5-.7h0m.7 1.4h0m.1-2.1h0m.4-1.8h0m.2-.2h0m.4-1.4h0m2.1 5.3h0m.2-3.9h0m1.6 3.2h0m.2-31.9h0m.1 33.8h0m.6 1.4h0m1.6-8.2h0m1 6.7h0m.3 6.8h0m1-46.1h0m1.5 41.9h0m1.6-28h0m.8 18h0m.9-4.9h0m.1 13.2h0m2.7-7.3h0m1.2 1.5h0m.5 4.3h0m1.9-6.8h0m1 4.5h0m.9-.9h0m.4-2.8h0m.1 6.5h0m2.4-2.8h0m1.7-1.4h0m2.6 .6h0m.3-3.3h0m.4 2.8h0m.9-1.2h0m2.5-3h0m1.1 11.1h0m.2-6.5h0m.6-8.2h0m.7 14.6h0m.6-11.2h0m2.2 7.1h0m1.6 5.2h0m0-7h0m1-5.1h0m7.9 5.5h0m1.5 .1h0m.8-3.8h0m.8 3.6h0m.4-1.2h0m4.9 3.4h0m.5-5.6h0m2.2 2.4h0m2.1-19.6h0m2.8 12.7h0m.8-26.7h0m1 32.5h0m3.4-6h0m1.7 10.5h0m1.4-6.9h0m1.4 5.3h0m.1-26.1h0m.3 23.2h0m.1-9.2h0m1.8 10.1h0m2.3 3.4h0m1.5-2.8h0m3-.5h0m1.3-6.5h0m1.3 9.5h0m1.4-2h0m10.1-4.9h0m.9 1.6h0m.6-32.6h0m13.4 38.3h0"/>
<path stroke-width="3" d="M421.3 423.1h0m10.2-3.2h0m.1 .9h0m4.2-3.2h0m.1-4.4h0m1.1 1.6h0m2.2 4.2h0m1.1-7.4h0m.8 9.4h0m3.7-.3h0m.9 .4h0m.1-.1h0m0-3.6h0m.8 4.1h0m2.1-.7h0m6.2-2.9h0m.7 0h0m.7 .7h0m.3 .3h0m.4-3.7h0m.1 6.9h0m.9-2.6h0m.8-.5h0m.6-2h0m1.6 2.7h0m2.1-3.4h0m.7 1.7h0m.4 1.4h0m1-4.9h0m.1 8.1h0m.1-28.6h0m.4 26.6h0m1.7-9.1h0m.2 8.6h0m3.9-1.6h0m.6-4.6h0m.7 7.3h0m.4-1.6h0m1.5-4h0m2.7 .7h0m.1 1.7h0m.1-30.5h0m.9 34.6h0m3.9-2.8h0m.1-.2h0m.2-5.1h0m1.9 1.7h0m.3 3.8h0m1.4-7.5h0m3.4 3.1h0m.4 4.4h0m1.3-.2h0m.8-19.2h0m.4 21h0m1.3-.7h0m.4-2.5h0m.7-4.3h0m2.3 .6h0m.3 4.2h0m.6-2.5h0m.6 .4h0m0 1h0m1 4.2h0m.8 6.9h0m2.8-6h0m.2 2.8h0m.1-1.7h0m.4 1.9h0m1.2-10.4h0m0-19h0m1.2 21.4h0m.4 .6h0m1.9 3.7h0m1.1-8.2h0m.4 11.5h0m1.1-5.2h0m.1 2.5h0m.2-6.5h0m.5 4h0m.4 2.6h0m1.7-2.6h0m.4-1.4h0m.9-.5h0m.3-.8h0m.3 .4h0m.3 1.9h0m.1 3.3h0m1.3-3.4h0m.1-2.6h0m.3 .8h0m.8-2h0m3.2-1.6h0m.9 5.2h0m6.8-2.6h0m2.3-4.4h0m.5 7.6h0m2.6-.3h0m.2-4.2h0m1.8-27.7h0m.1 32.5h0m.4-5.1h0m.9 6.2h0m1.8-2.6h0m.5-2.3h0m1.6 6.9h0m6.8-2.9h0m.9 .7h0m1.3-4.8h0m1.7 1.3h0m1.2-4.8h0m3 5h0m2.9-4.5h0m.2 4.9h0m2.8-7.5h0m4.3 6.6h0m2.7-3.3h0m.7 2.7h0m.1-2.2h0m15.4 0h0m1.7 1.7h0m6.6 .7h0m6.2 4.3h0m26.6-8.4h0m6.2 .1h0m7.5 4.6h0"/>
<path stroke-width="2" d="M429 417.6h0m8.8-.7h0m3.5 1.6h0m5.4 2.6h0m1.1-3.9h0m6-1.2h0m3.8-1.1h0m5.3 11.1h0m.2-5.9h0m2.2-1.4h0m6.5-2.6h0m5.3-1.2h0m1.8 4h0m7.1-1.2h0m1.4-1.9h0m2.2 7.9h0m5.7-3.7h0m4 .7h0m4.8-3h0m.1 1.3h0m2.9-7.8h0m1.9 3.7h0m4-3.1h0m2.4 3.4h0m.5 5.4h0m.1-3.4h0m8.8 4.3h0m1.2-4h0m.9 .2h0m2.2-1.7h0m.8-21.8h0m2.7 24.8h0m16.3-8.5h0m1.8 11.4h0m8.5-8h0m23.8-.1h0m22.3 2.9h0m33.4 3h0m193.4-8.8h0m.4-.6h0m.1 13.4h0"/>
<path stroke-width="1" d="M440.8 415.1h0m20 3.1h0m20.8-7.9h0m4.6 15.7h0m1.2-9.9h0m9.8 2.3h0m1.3-3.5h0m15.2-2.2h0m3.3 11.2h0m2.2-5.7h0m8.1 1.3h0m3.7-2.1h0m15.3 3.5h0m48.8-3h0"/>
<path stroke-width="6" d="M354.3 421.6h0m29.3 3.9h0m9.1-4.1h0m1.7 7.2h0m8.2-20.6h0m186.1 6.1h0"/>
<path stroke-width="5" d="M415.5 414.5h0m7.5 6.1h0m13.7-1.7h0m2-1.1h0m3.9-30.3h0m2.7 38.7h0m3.4-5.4h0m1.7 2.4h0m.7-11.8h0m1.1 7.3h0m1.4-32.7h0m.8 32.6h0m.6-5.8h0m1.3 9.5h0m.1-5.9h0m.3-.1h0m.6 1.1h0m.7-5.2h0m5.6 4.5h0m3.2-4.4h0m.2 8.1h0m5.4-2.9h0m1.6 2.7h0m1.6 6.1h0m.4-7.1h0m1.6 1h0m1 1.1h0m.5-8.1h0m1.1 8.3h0m.2-6h0m.4 9.1h0m.5-6.6h0m.2 1.3h0m1.9-2.4h0m.2 3.1h0m.1-6h0m1.3 4.6h0m1.3-5.8h0m.8 7.4h0m.4-1.5h0m.6 2h0m0 4.9h0m.2-4.8h0m.3-3.5h0m.5-1.9h0m.3 5.3h0m1.4-1.1h0m0-.6h0m3 2.8h0m1.1-2.3h0m.5-1.8h0m2.4 1h0m.4-.4h0m4.4-4h0m1.2 .7h0m0-.4h0m1.3 1h0m2.6 2.1h0m.5 2.1h0m.4 1.4h0m.2-7.2h0m.7 5.1h0m2.6 6.2h0m2.6-7h0m.9-7.8h0m2.4-1.9h0m4.8 13.3h0m2.4-3h0m2.5-3.5h0m.2 3.5h0m6.2 2.9h0m4.9 .3h0m2.1-8.1h0m.4-25.8h0m1.5 24.8h0m2 8.3h0m.9-2.3h0m2.1-2.5h0m3.1 1.1h0m2.4-2.1h0m.4 4.8h0m4.3-5h0m2-1h0m5.4-1.4h0m1.4 2.9h0m3-4.9h0m11-1h0m1.4 5.2h0m2.8 1.3h0m2.6-4.4h0m6.1 4.2h0m4.7-7.4h0m.8 7.6h0m.2-2.7h0m13.6 1.3h0m4.4-.9h0m18.8 2.1h0"/>
<path stroke-width="4" d="M327.3 427.5h0m59.3-5.1h0m11.6 3.4h0m8.5 .9h0m5.4-7.1h0m1.4-.7h0m4.1 7.8h0m1.6-4.7h0m2 1.2h0m6.6-4.5h0m2.2 .2h0m.1 8.2h0m.9-8.4h0m5.3 .9h0m.3-.2h0m1.5-1.5h0m.8-.8h0m0 1.2h0m.1 .8h0m.8 4.8h0m.3-8.9h0m.2 4.5h0m.6 2.2h0m.7-.2h0m1.2 1.3h0m.3-3.2h0m2.6-3.7h0m.5 6h0m1.6-6.2h0m.4-2.4h0m1.1 10.1h0m1 1.4h0m2.3-5.7h0m0-3.3h0m1.7 4.3h0m1.6-2.8h0m0-3h0m.8 7.4h0m.1 2.4h0m1.2-14.5h0m1.6 10.6h0m0-1.2h0m.6-33.8h0m.2 36.5h0m1.6-7.9h0m.6 6.2h0m.2-2h0m.5 2.8h0m.3-5.7h0m0 6.2h0m0-6.5h0m1.3-18.7h0m.2 26.5h0m1.1 1.8h0m.2-9.9h0m.3 1.4h0m.1 9.1h0m1.7-7.5h0m.1-3.6h0m.3 3.4h0m.6 .8h0m.1 1.1h0m.2 .1h0m1.8-1.2h0m0 5.5h0m.9-6.6h0m.7-7.2h0m.6 5.2h0m.1 6.5h0m.1-5h0m.4 5.3h0m.9-5.5h0m.3 2.6h0m.2 .9h0m1.2-4.3h0m1.1 2.1h0m1 5.7h0m1.2-15.4h0m.3 11.4h0m1.2 2.1h0m.3-5.3h0m.7 6.7h0m.1-2.5h0m2.1-3.2h0m.8 4.4h0m0 1.8h0m.3-8h0m.5 7h0m.2 1.2h0m1.8-2.5h0m.6-15.9h0m.3 10h0m1.3 1.5h0m0-1.3h0m.9 9.4h0m1-8.1h0m.5 1.9h0m.6-1.6h0m.1 0h0m.2 3.1h0m.2 .8h0m.4 0h0m.2-.8h0m.2-1.1h0m.4 2.8h0m.3-3.2h0m.1-1.4h0m.8-1.6h0m.9-9.2h0m.5 17.1h0m.4-4h0m.9 1.5h0m.8-1.5h0m1 2.2h0m.7-9.3h0m.9 8.2h0m1.2-.1h0m1.1-43.5h0m.4 42.7h0m1.1-.1h0m.4-1.1h0m.8 2.4h0m.1-10.8h0m.4 12.5h0m.4-5h0m.6 3.4h0m.2-2.5h0m.1 0h0m1.6-2.8h0m.2 4.3h0m.1-33.4h0m.2 41.7h0m.5-7.6h0m.1-35.7h0m.3 34.9h0m.7 1h0m2.1 2.1h0m.4-7.6h0m.1 7.7h0m2.3-6.5h0m1.2 2.6h0m.7 .8h0m.2-2.1h0m.7 2.7h0m.2-17.3h0m1.5 13.5h0m.2 2.4h0m.5 1.8h0m.6 1h0m.1-8.2h0m.6 5h0m0 3.5h0m1.7-40.9h0m.1 34.9h0m.3-4h0m.2 6.2h0m1.5-7.2h0m.8-.7h0m.8 8.8h0m.8-5h0m.1 6.7h0m.8 2.7h0m1.3-6.8h0m.6-1.8h0m1.7 8.2h0m.7-4.8h0m3 .4h0m.4-3.9h0m.3-1.5h0m.6 9.5h0m1.5-2.5h0m.5-4.2h0m2.1 4.2h0m1.8-1.8h0m1.1 2h0m1.4-2.2h0m.4 3.2h0m.8-7.5h0m.7 8.1h0m.7-37.7h0m.1 30.9h0m.5 2.3h0m.9-.3h0m2.7 2.6h0m.6-4.2h0m.2-8.3h0m2 10.5h0m2.9-30.7h0m1.7 33.4h0m2.5-9.5h0m10.1 2.4h0m1.2 1.4h0m1.2-23.3h0m.8 22.6h0m7.6-2h0m.4 6.3h0m8.2-2.9h0m.2-24.2h0m4.2 26.1h0m5.7 .2h0m3.6-.5h0m1.9-6.8h0m3.1 5.7h0m.5-1.2h0m.3 2.5h0m.6 2.2h0m2.7-36.7h0m2.6 38.1h0m1.8-1.2h0m.8-11.3h0m3.4 4.5h0m3.6 4.4h0m.8 2.6h0m1.3 3.8h0m.2-3.2h0m2.1-.3h0m1.1 3.5h0m28-1.9h0"/>
<path stroke-width="3" d="M428.8 425h0m1.5-3.4h0m1.6 .8h0m1.7-7h0m.2-1.3h0m.3 5.5h0m6.4-2h0m3.3 7.7h0m4.7-1.2h0m.2-3.6h0m3.4-4.2h0m.7-3h0m0 10.1h0m3.8 .8h0m.2-8h0m2.2 3.9h0m1.2 3.5h0m.4-3.1h0m2.6-1.6h0m0-1.6h0m.2 4.2h0m1.6 .9h0m1.5-4.5h0m.1-22.4h0m.1 26.8h0m1-5.5h0m3-.3h0m2.6 2.8h0m.3 1.4h0m.3 3.6h0m.9-2.6h0m2.2-2.1h0m1 .4h0m.3-3.5h0m1 .9h0m1.2 5.6h0m.5-3.9h0m.9-3.1h0m.5-2.7h0m.3 1h0m.2 5.5h0m.1 6.7h0m1.2-11.4h0m2.9 3.8h0m1.2 3.1h0m.1-9.3h0m.1 8h0m1.1-3.3h0m.4-.7h0m.4 2.7h0m.1-2.6h0m2.4 2h0m2.1 4.5h0m.2-5.3h0m.1 .1h0m.3 6.3h0m1.1-6.6h0m.2-5.3h0m1.2 5.1h0m2.3-1.4h0m.1-20.6h0m.3 24.6h0m2.9-6.3h0m.7 2.7h0m4 .8h0m0 9.4h0m1.9-8.6h0m.7 2.2h0m.6-4.9h0m1 3.2h0m.7 4.3h0m.1-4.7h0m.3 1.8h0m1.7-3.6h0m2.5 6.8h0m1.1-8.9h0m.4 .7h0m.4 2.7h0m.4 5.2h0m1.4-8.3h0m4.2-1.1h0m4.6 6.8h0m3.8-2.8h0m1.7-1.5h0m1.5 7.2h0m3.3-8.8h0m2.7 2.3h0m2 2.1h0m2.3-.6h0m.1-.1h0m2.1-6.1h0m4.5 5.3h0m2.5-7.4h0m1.9 10.8h0m8.9-1.8h0m0-8h0m1.9 6h0m2.3-1h0m1.9 5.1h0m2.3-9.2h0m2 8h0m.7-28.9h0m1.4 30.8h0m3.3-3.3h0m.1 2.9h0m3.2-12.6h0m1.4 9.9h0m1.6-5.9h0m.3 .7h0m3.4-6.5h0m1.2 19h0m7.8-6.4h0m5.1-10.2h0m17-8.9h0m.1 13.9h0m2.5 .1h0m.6-11.1h0m.7 9.6h0m2.1-1h0m4.5 .1h0"/>
<path stroke-width="2" d="M425.3 416.3h0m10.2 4.2h0m25.1-7.2h0m1.1 1.1h0m1.6 .9h0m3.8 .3h0m2.1 1.5h0m1.7-1.4h0m4.4-3.4h0m11.9 5.8h0m1.4-3h0m.8 7.1h0m2.9-38.9h0m.7 37.4h0m5-22.8h0m10.2 18.1h0m3.8-14.5h0m.9 19.8h0m3.5-5.8h0m1.7 5.5h0m5.5-.1h0m.4-5.7h0m1.3 6h0m3-5.8h0m1.1 5.1h0m10.1-8.6h0m.1 7h0m13.4-1h0m7.2-.1h0m6.8-6.1h0m8.6 1.4h0m7.8 8.2h0m6.8-10.8h0m37.7 7.2h0m34.1 5h0m170.8 11h0"/>
<path stroke-width="1" d="M435.3 423h0m5.2-1.8h0m.1-4.8h0m10.1 2.8h0m.8 8h0m23.1-7.9h0m.4-7.7h0m3.8 3h0m12.3 4.7h0m5 1.4h0m1.9-7.1h0m4.9 7.8h0m23.2-10h0m10.4 2.1h0m3.5-2.5h0m3.1 15h0m2.3-10.4h0m5.5 .4h0m7.9-.1h0m6.2 1.5h0m14.1-3.2h0m26.3-3.4h0"/>
<path stroke-width="6" d="M343.5 429.8h0m5.4 2.6h0m59.8-3.8h0m41.7-10.6h0m1.8-1.6h0m80.1-33h0"/>
<path stroke-width="5" d="M367.4 415.3h0m3.8-1.4h0m6.2 6.6h0m12.3-.2h0m10.8-3.6h0m1.6 3.5h0m1.5-1h0m5.1 4.3h0m17.9-6.1h0m.8 2.6h0m2.1 .1h0m2.9 1.5h0m.9-7.8h0m3.3 5.1h0m4.1 1.5h0m3.6 1.8h0m.4-1.6h0m1.2-1.4h0m1.4-1.2h0m1.1 1.2h0m.6 .9h0m3.9-3.2h0m0-7.9h0m.4 12h0m.4-4.2h0m1.1-3.6h0m.5 4.3h0m1.7-.3h0m1.6 .3h0m.2-1.2h0m.6 .4h0m2.3-.5h0m2.4 9.8h0m.4-9.3h0m1.6 .6h0m1.5-1.7h0m1.4 9h0m.6-6.5h0m3.5-3.4h0m.4 6h0m1.1 1.7h0m.9 .6h0m1.3-9.1h0m.4 3.9h0m1-27.6h0m2.9 32.1h0m1.3-1.7h0m1.2 .4h0m1.6-4.5h0m.1-1.6h0m2.5 .8h0m1.8 3.4h0m2.8-2.3h0m.2-.1h0m4.7-3.8h0m.6 9.3h0m1.7 1.5h0m.3-2.8h0m1.9-6.2h0m.3 5.2h0m1.7-6.4h0m.4-.6h0m1 1.1h0m4.2 1.6h0m.4 2.4h0m6.6 .7h0m0 1.7h0m1.5-1.1h0m2.2-28.1h0m.8 22.5h0m2.4 1h0m2.4 2.8h0m3.5 1.9h0m.6 .8h0m1.8-8.4h0m2.5 0h0m1.5 4h0m2.2-1.6h0m.5-1h0m.4 6.5h0m1.8-4.6h0m2.8 2.4h0m2-6h0m4.9 3h0m.2 4.8h0m2.9-3.7h0m0 1.2h0m2.6 3.2h0m5.6-2.4h0m1.5-1.6h0m2.6 .9h0m2.3-1h0m3.1 5.7h0m.2-3.6h0m5.7-7.1h0m.2 8.5h0m.9-1.4h0m1.9-6.9h0m1.4 6.7h0m4.1 3.2h0m13.4-8.9h0m.7 1.2h0m5.4 3.9h0m2.5-7h0m9.4 9.8h0m4-2.1h0m2.3-2.8h0m9.9-35.5h0m1.4 39.2h0"/>
<path stroke-width="4" d="M361.2 424.9h0m42.9-9.6h0m17.3 0h0m.2 2.4h0m4.6-4.6h0m1.6 .6h0m.7 3.4h0m.6 2.2h0m2.5 .2h0m2-6.7h0m2.5 7.1h0m3.1-6.6h0m.2 6h0m.5 4.2h0m.3-4.9h0m.4 .2h0m.2 .5h0m1.6 5.9h0m.2-4.8h0m.4-6.4h0m2.2 1.1h0m.4 4.6h0m.9-.1h0m1.3-8.3h0m1.4 8.5h0m.4 2.9h0m1.1-27.6h0m0 20.6h0m.2 6.1h0m1.7-7.5h0m.8 2.6h0m.3 1.8h0m1 4.3h0m.4-3.1h0m.7 1h0m1.7-1.8h0m1.8-1.4h0m.1-5.3h0m.3 9h0m.1-9.7h0m.7 1.4h0m.4 8.3h0m.6-2.4h0m.1-3.8h0m.8 4.2h0m.1-10.1h0m.1 2.7h0m.1 8.2h0m0 1.2h0m.4 .9h0m1.8-3h0m.5-6.6h0m.1 3.4h0m.5 5.6h0m.2-6.9h0m.1 7.2h0m.4 2.5h0m.4-4.5h0m.2-7.7h0m1 3.4h0m1.5 .5h0m.4 3.8h0m.1-.1h0m.5-5.8h0m.4 1.7h0m.2 6.7h0m.5-.6h0m.2-9.2h0m1-28.4h0m.5 34.5h0m1 5.3h0m.2-9h0m1.4 1.1h0m.2-1.7h0m.5 7.5h0m.1-4.8h0m.2-1h0m1-1.6h0m.4 3.6h0m.9 .3h0m.5-2.7h0m.2 2.5h0m1 3.2h0m.6-3.2h0m.2 .9h0m.2-3.4h0m1.5 2.1h0m.9-14.2h0m1.1 19.8h0m1-3.1h0m.2-.5h0m.8-6.9h0m.1 4.2h0m.3 4.9h0m.7-3.4h0m.1-5.7h0m.1 5.9h0m0 7.2h0m.6-8.3h0m1.7-4.2h0m0 .8h0m.8 9.1h0m1.1-5.3h0m2.2 2.2h0m0-4h0m.1 .3h0m.4-.8h0m1.2 3.4h0m.5-7.4h0m.1 8.5h0m2.2-7.3h0m.2 .5h0m.3 5.4h0m1.1 6.5h0m.2-8.3h0m.1-17.4h0m.2 13.4h0m.7 4.5h0m.3 3.2h0m.8 .5h0m.3-3.2h0m.2-1.1h0m.2 .2h0m1.1 2h0m.2-.7h0m.5-6.2h0m.8 7.6h0m0-3.7h0m2.8 1h0m.8-37.1h0m2.4 35.4h0m.1 4h0m.1 2.1h0m.2-2.5h0m.1-5.8h0m1 2.7h0m.1 2.4h0m.9-.5h0m.1 4.9h0m.6-5.2h0m2.1 1.8h0m.1 .6h0m.3 .9h0m.4-20h0m.2 21.3h0m.2-4.5h0m3.1 .3h0m1.3 2.5h0m.2 0h0m1-2.6h0m.3-6.6h0m.6 11.2h0m.2-3h0m1-4.4h0m.9 1.2h0m1.5 2.8h0m1.1-2.3h0m1.5 4.2h0m.2-.9h0m.6-2.2h0m1.2-.8h0m.6 1.1h0m0-1.1h0m.4 3.1h0m.1-22.9h0m1.8 21.4h0m.5-21.4h0m.2 20.6h0m1.4 0h0m.3 2.4h0m2.1-4.9h0m1.1 7.8h0m1.2-9.1h0m1.3 4.6h0m.9 2.1h0m.1-4h0m.5-1h0m2.1 .4h0m.2 1.6h0m1.3-3.5h0m0-6.3h0m0 11.4h0m1.1-2.3h0m1.2 3.5h0m1.5-2.3h0m.6-3.4h0m1 1.8h0m.4 1h0m4.3-5.2h0m.3 14.2h0m5.6-.8h0m6.2-6.7h0m1.3-6.2h0m3 1.6h0m2.3-2.4h0m.9-4.6h0m4.7 8.8h0m1.6-.2h0m1.7 2.5h0m2.2-2.8h0m3.9 1.4h0m.9-8.5h0m8.5 6.7h0m0 4.3h0m2.2-4.6h0m1.8 1.8h0m1.5-14.8h0m1.6 23.7h0m.9-12.2h0m4.9 1.4h0m1.7 3.8h0m1.7 .9h0m2-5.3h0m1.4 1h0m3.2 8.3h0m6.7-8.8h0m5.9 2.9h0m19-10.3h0"/>
<path stroke-width="3" d="M420.9 417.7h0m.1 5.5h0m7.6-9.3h0m5.9 1h0m.4-.9h0m0-2.1h0m2.7 7.1h0m.7 1.3h0m.9-.6h0m2.2-3.4h0m3.1 2.6h0m3 3.7h0m1.5-3.2h0m1.2-4.4h0m6.1 1.2h0m6.9-1.6h0m1.9 .5h0m.3 7.5h0m2-2.9h0m1.6-.5h0m1.3-4.4h0m1.8 0h0m.1 4.2h0m.3-.8h0m.1 .2h0m.8 8.7h0m0-7.7h0m1.2-2.6h0m.2 1.4h0m2.8-6.4h0m.5 1.8h0m.8 1.6h0m.1 5.7h0m.1-17.6h0m.2 17h0m.6-8.7h0m.4 8.8h0m.3-9.4h0m.5 3.1h0m.4 .6h0m3.4 4.4h0m1.7-1.9h0m1.1-14.9h0m.5 13.6h0m.7 2.6h0m.5 2.8h0m0 3.2h0m1.6-4.2h0m.8 .8h0m.1-.6h0m.7-3.6h0m1.9-2h0m1.1 5.9h0m.1-5.7h0m2 1.2h0m.4 5.8h0m.3-.1h0m.8-7h0m.2 6.6h0m.4-2.5h0m2.4 1.5h0m0-5.8h0m.3 1h0m.2 1.6h0m.9 4.9h0m1 .7h0m2.4-4.1h0m.1 .4h0m.5-.3h0m.5-1.8h0m2.3-.3h0m1 .3h0m2.5 4.8h0m1.7-6.9h0m.8 3.1h0m.8 .2h0m2.8-6.2h0m1.1 10.4h0m.8-2.3h0m2.4-4.3h0m.3 6.9h0m.2-6.6h0m.6 6.7h0m3.8-6.9h0m.1 5.3h0m1.1-4.3h0m.1 2.1h0m.3-4.6h0m.8 9.3h0m2.2-4.8h0m1.1-1.9h0m1.4 3.4h0m.1-5.1h0m1.7 2.3h0m3.9 .3h0m1.7 2.2h0m0-.7h0m3 .4h0m5.1-1.4h0m.5 1.9h0m.8-5.8h0m8.8 4h0m.5-3.9h0m20.4 3.1h0m11.9-14.9h0m1.6 11h0m4 1.1h0m2.5 6.9h0m6.6-5.2h0m2-4.5h0m3.5 5.9h0m7.3-33.7h0m.7 30.1h0m4.3-2.4h0m.8 2.8h0m27 1h0"/>
<path stroke-width="2" d="M443.1 419.5h0m1.9 .2h0m1.1 3.4h0m4.2-6.3h0m23.7 2.2h0m6.2 6h0m2.9-4.4h0m3.1-1.4h0m.8-1.8h0m2.5 3.4h0m5-7.2h0m3.4 10.4h0m4.3-8.7h0m4.7 2.6h0m2.9-2.5h0m2.9 8.9h0m1.5-7.2h0m2.8-2.6h0m1.9-4.3h0m1 8.5h0m.6 .7h0m1.4-2.8h0m1.2 2.7h0m4.9-4.9h0m7.4 4.7h0m9.9-.6h0m8.3-2.6h0m28.4 3.7h0m7.2-.6h0m10.6-10.2h0m11.5 6.8h0m1.8 7h0m218.9 4.6h0m.4-18.9h0m.2 8.5h0"/>
<path stroke-width="1" d="M431.6 418.7h0m28.8-3.6h0m33.7 1.5h0m16.6 3h0m.6-6.6h0m1.1 8.2h0m4.8-4.3h0m3.3 3.3h0m2.1-6.4h0m5.8 5h0m20.3 .3h0m.4-2.8h0m22.3-2.5h0m22 1.8h0m38.5-3h0m11 8.2h0"/>
</g>
<g stroke="#f07d24">
<path stroke-width="6" d="M380.5 423h0m6.6-27.1h0m5.6 24.9h0"/>
<path stroke-width="5" d="M387.3 414.6h0m2.4-12h0m10.8-7.2h0m3.1 13.2h0m4.3-8.5h0m7.6-6h0m3-1.9h0m14.8 24.9h0m3.3-15.4h0m.1 6.3h0m3.6-5.2h0m3.5-1.1h0m.5 6h0m.4-19.8h0m4 11.8h0m1.7 11.8h0m3.3-11.7h0m1.1 9.2h0m.5 .7h0m1.4-4.2h0m1.9 7.3h0m1.4-7.7h0m2.6-11.5h0m.7 6.5h0m1.1-3.8h0m1.5 3.9h0m.2 6.6h0m.7-1.4h0m.6 .1h0m5.5-4.9h0m.6-.1h0m1.5-2h0m.5 5.7h0m.5 .4h0m.8-3h0m.4 .7h0m1 3.6h0m.4 7.3h0m0-8.9h0m.5-.3h0m.6-11h0m.7 11.4h0m1.1 1.3h0m.2-3.1h0m1.8 .9h0m.1-.8h0m0-1.6h0m.1 10.2h0m1.5-18h0m1.1 11.7h0m.8 2.3h0m1-11.2h0m0 12.9h0m.2-9.6h0m1.1-.8h0m.2-8.2h0m2.7 11.3h0m.3 7.2h0m1.3 .4h0m3.4-10.1h0m6.5-7.9h0m.5 14.2h0m4.3-20.5h0m.9 27.1h0m.3-.1h0m4.9-16.2h0m1.7-3h0m4.8 17.8h0m4-2h0m.5-12.2h0m2-2.6h0m2 13.6h0m.2-8.4h0m4.2 4.7h0m.8-17.7h0m.4 4.7h0m2.9 15.7h0m2.9-7.7h0m1.9-8.3h0m.3 10.2h0m1.7-9.6h0m4.1 8.8h0m.1-8.9h0m1 11.3h0m0-6h0m.2 2.6h0m2.6 8.1h0m.5-1.2h0m.4-.5h0m14-11.9h0m1.4-6h0m.7 10.4h0m1 2.4h0m7-15.7h0m.4 1.1h0m.7 15.3h0m3.3-13h0m11.1 4.6h0m.4 9.9h0m.2-12.8h0m4.5 2.2h0m6.3-6.1h0m.3 1.3h0m10.4 21.5h0m5.2-13.3h0m2.3 12.5h0m12-17.1h0m5.4-14.9h0"/>
<path stroke-width="4" d="M327.3 416.3h0m59.3-14.9h0m20.1 15.8h0m5.4-18.6h0m5.5 18.9h0m3 .6h0m.6-8.3h0m5 8.9h0m1.6-20.3h0m.7-18.1h0m1.5 17.6h0m.1 16h0m.9-5.7h0m1.9-8.7h0m.7 6h0m1.2 5.1h0m1.7-10.5h0m1.3 10.6h0m.8-6.1h0m.3 8.3h0m.1-7.1h0m.2 1.1h0m0-2.3h0m.2 4.7h0m.4-13.7h0m.4 3.1h0m.1-1.6h0m.3 1.1h0m.8 4.1h0m.2 7.2h0m.4-5.1h0m.4 7h0m.2-4.9h0m.4 4.4h0m.5-.9h0m1.7-5h0m.4 .5h0m.1 11.7h0m.5-10.7h0m.3-1.8h0m1.3 8.4h0m0-4h0m.4-19.5h0m.2 8.5h0m.6 7.1h0m.3-2.6h0m.1-11.9h0m.9 27.2h0m.4-17.5h0m1.9 5.8h0m0-10.3h0m0 7.7h0m.8 7.3h0m.3 3.5h0m.8-11.5h0m.6 4.7h0m.7-8.9h0m.9 1.2h0m.3 7.9h0m.4-7.9h0m.4 11.4h0m1.6-5.9h0m2.2 3.9h0m.7-.8h0m.3-8.7h0m0 18.1h0m.1-25h0m.9 10h0m0 10.3h0m0-19h0m1.3 1.7h0m0 2.4h0m.2 2.3h0m.3 14.5h0m.7-12.3h0m.1 10.4h0m.3 1.7h0m.2-12.3h0m.3 9.8h0m.1-6.4h0m1 1.8h0m.2-.4h0m.3 4.2h0m1.2-.1h0m.5-19.6h0m.4 8.4h0m.7 2.6h0m1.1 6.2h0m.6-1.5h0m.9-5.9h0m.8 6.1h0m1-9.7h0m1.2-.8h0m1.2 12h0m.4-5.1h0m.4-3h0m.5-.6h0m.9-5.4h0m.8 14.3h0m1.4-1.8h0m1.5-15.1h0m1.6 11.4h0m.9 9h0m.1-14.5h0m2.2 6.8h0m.1-8.6h0m1.2-11.3h0m.6 12h0m.5 5.2h0m1.9 5h0m.6-9.3h0m.3 19.3h0m.2-12.6h0m.6 2.6h0m.8 .3h0m1-7.1h0m.9 4.8h0m.5 6.5h0m1.3-3.9h0m.5 1.3h0m.2-15.2h0m.1 6.9h0m1 1.4h0m.5 1.9h0m.1 8.6h0m.1-11h0m.9 5.4h0m1 4.2h0m0-.8h0m1.8-9h0m1 6.5h0m.2-6.3h0m.3-7.2h0m.2 7.9h0m1.4-2.9h0m.5-2.1h0m.1 25.5h0m.3-26.7h0m1.9 10.9h0m.2-16.5h0m.1 5.3h0m.5-1.9h0m.3 .6h0m1 10.2h0m.6-2.4h0m.4 6.7h0m.1-14.2h0m.7 1.3h0m.2 5.9h0m.2 11.7h0m3-20.1h0m.6 14.7h0m1.6-12.4h0m1.7 0h0m1.2 7.5h0m.2-5.2h0m.1 1.1h0m.5 3.7h0m0 7.6h0m.8-6.3h0m.6-11.8h0m.3 9.2h0m.6-11.5h0m1.5 2.6h0m1.2 11.5h0m.4-9.1h0m.4-3.9h0m.3 15.5h0m.1-4.3h0m1.2 1.4h0m1.6-20.9h0m.7 19.1h0m.9-5.6h0m.8 3.6h0m1.4 18.7h0m1.6-32.1h0m.1 19.9h0m.1 3.6h0m.3-13.7h0m.8-8.1h0m2.8 13.3h0m2.1-5h0m.9 0h0m.6 10.6h0m2.1-10h0m.3-4.4h0m1.2 12.8h0m.3-6.9h0m.8-8.7h0m.5 6.9h0m.7-4.5h0m3.5-2.3h0m0 14.5h0m3.7-5.3h0m.2-15.3h0m.4 11.1h0m.8-.8h0m1.7 3.8h0m2.8 1h0m.6-1.6h0m7.5 5.9h0m1.7-16.9h0m2.2 13.4h0m1.4-13.1h0m5.6 15.9h0m6.7-3h0m3.7-5.9h0m5.2-3.3h0m3.2 1.5h0m1.5-11.2h0m5.5 5h0m2.9 2.3h0m1.6-1.7h0m1.4 12.9h0m1.3-7.9h0m4.1-8.5h0m1.4 8.8h0m7.5-3.9h0m3.6 10.4h0m4.1-1.8h0m25-18h0"/>
<path stroke-width="3" d="M420.9 408.5h0m10.7-13.3h0m3.3 1.3h0m.9 13.4h0m1.2-8.8h0m7.5 6.9h0m2.1-1.3h0m2.1-.3h0m1.5-3.1h0m6.9 3.9h0m1.7 2.3h0m1.4-12h0m.8 10.8h0m5.7-6h0m1 6.3h0m3.9-7.5h0m.6-.3h0m.3 5.2h0m.1-2h0m.7 1.7h0m0 2.8h0m.1-9.7h0m1.4 4.7h0m0 11.8h0m3.3-6.7h0m.2-9.8h0m.6 12.8h0m.1-16.2h0m.1 2.2h0m.2 .9h0m1.2-.6h0m1.4 8.5h0m.8-4.4h0m.2 14.8h0m1.3-18.7h0m2.4 12.9h0m1.1-3.5h0m.5-5.7h0m.1 5.4h0m1.3 4.6h0m.6-.5h0m.3-10.8h0m1 9.2h0m.3-29h0m.8 27h0m2.4-2.1h0m.6-.6h0m1.1 16h0m.2-26.8h0m.8 14.8h0m0-10.2h0m.6 8.5h0m.6-6.6h0m1-17h0m2.3 11.4h0m.5-.9h0m.9 6.5h0m.1-8.1h0m.1 13h0m.4-4.7h0m.2 3.5h0m.2 0h0m2-10.3h0m.4 10.1h0m1.4-12.6h0m2 23.8h0m1.1-7.5h0m.1-14.1h0m.2 .7h0m.9 16.6h0m1.2-4.7h0m1.7-.7h0m.1-12.2h0m.6 8.8h0m.1 2.2h0m.3-7.6h0m.5 7.8h0m.8 4.1h0m2-15.9h0m1.1 15.1h0m.5-18.4h0m.8 6.3h0m3.4 2.5h0m4.6 1.3h0m2-13.5h0m1.4 14.1h0m.4 .3h0m2.1-2.7h0m.1 .6h0m1 4.6h0m3.3 4h0m6-14.1h0m1 11.3h0m1.9 1h0m.9-5.9h0m1.3 2.1h0m.5-19.1h0m2.1 9.1h0m.3 2.9h0m2.2 .3h0m.8-1.1h0m1.1 6.2h0m3.6-8.4h0m1.2 2.3h0m7 11.9h0m.8-12.9h0m.5-.2h0m1.9 11.5h0m2.3-17.8h0m2.7 8.2h0m4.7-9.4h0m.1 8.4h0m3.2-2.5h0m1.7 6.3h0m6.2-.9h0m0-4.9h0m.4 6.5h0m1.2 5.2h0m25.9-11.6h0m2.5-3.9h0m2.5-7h0m.6-12.1h0m.2 32.1h0m.5 4.1h0m2.1-31.8h0m3.5 21.5h0"/>
<path stroke-width="2" d="M429 417h0m6.5-15.5h0m2.3 2h0m3.5-.1h0m4.8-1h0m4.2-4.6h0m7.3 10.2h0m14.2-2.5h0m3.5-.3h0m11.9-1.2h0m1.4-.8h0m.9 4.7h0m2.8-7.2h0m7-.7h0m4.8 9h0m4.9 .2h0m3-2h0m.7 1.6h0m.3-8.7h0m2.4 15.2h0m.5 1.2h0m.5-3.7h0m.6-14.2h0m1.1-2.6h0m.8 10.6h0m4.2 3h0m5.2-20.9h0m1.1 12.9h0m6-.9h0m4.1-1.6h0m5.8 6.9h0m5.4-2.8h0m8.5-5.3h0m24.2-1.4h0m78.6-14.4h0"/>
<path stroke-width="1" d="M440.6 404h0m10.1 .6h0m9.7 3.4h0m.4-10.4h0m13.8 17.1h0m4.2-14.3h0m2.8-.8h0m9.5 5h0m3 4.6h0m2 4.6h0m1.1-18.1h0m.8 2.7h0m4.9 9.8h0m8.4-8.1h0m2.4 4.1h0m3.5 1.6h0m25.9-18.3h0m5.6 15.3h0m.4-12.7h0m1.8 9.3h0m7.9 1.9h0m34.6 1.8h0m1.7 1.9h0m47.8-13.5h0"/>
<path stroke-width="6" d="M343.5 408.4h0m10.8 11.5h0m29.3-3.6h0m10.8-31.3h0m1.5 35.5h0m12.8-18.9h0m18.7 1.1h0m23 3h0m1.8-6.4h0m136.5-7.3h0"/>
<path stroke-width="5" d="M392 408.9h0m16.7-4.1h0m17.9 .2h0m5.8-3.2h0m5.4 7.7h0m.9-14h0m1 8.8h0m1 4.7h0m1.4 1.8h0m.3-7.1h0m2.9 5.4h0m.6-3.5h0m3.1 2.9h0m3.1-8.3h0m1.2 10.7h0m3-5.6h0m.1-10.2h0m.9 10h0m.7 5.1h0m0-9.2h0m.8-4.6h0m2.6 6.2h0m2.7-2.7h0m.4 4.6h0m2.5 6.3h0m.6-7.4h0m1.4-11.9h0m.5 8.8h0m3.6 5.8h0m2.5-5.6h0m3.8 5.9h0m.8 .8h0m.9-18.6h0m.2 .6h0m1.8 21.6h0m1.9-2.2h0m3.1-3.3h0m1-2.5h0m.8-2.3h0m.9 0h0m3 17.3h0m.7-13.2h0m.9-11.5h0m2.4 9.4h0m.1 13.6h0m.3-16h0m4.1 .6h0m.2 5h0m1.3-4.6h0m0 12.9h0m.4-3.9h0m1-14.3h0m.6 5.2h0m1.7-2.5h0m.7-1.1h0m1.2 3.1h0m2.7 12.4h0m.3-20.4h0m3.2 6.2h0m0 8.7h0m2.1-1.3h0m.1 .5h0m.1-4.1h0m2.2 8.6h0m.8-16.6h0m1.9-4.3h0m6.4 7.9h0m.6-12.4h0m1.1 23.7h0m4.7-9.3h0m2.2-4.4h0m1.2-4.3h0m2.5 12.2h0m2.2-2.7h0m1.6-6.1h0m.6 10.9h0m2.1-22h0m1.4 34.9h0m.8-14.1h0m.9-4.3h0m2.2-8.2h0m0 6.9h0m.9-13.9h0m.8 28.2h0m.9-10.9h0m4.3-1.3h0m1.3 2.2h0m1.5-20.6h0m2.6 25.2h0m11.3-11.9h0m.5-1.1h0m3.6-3.6h0m.3 12.8h0m3.9-1h0m.2 5h0m25.3-8.7h0m22.3-8.6h0m3.4-1.5h0"/>
<path stroke-width="4" d="M301.8 407.1h0m37-1.9h0m22.4 11.9h0m36.8-12.7h0m6.1-2.3h0m2.6 3.1h0m12.5 8h0m1.7-10.5h0m.5 6.5h0m.2-1.6h0m2.3-8.5h0m3.7 7.4h0m1.3 3.4h0m.2 2.2h0m2.5-11.1h0m1.1 .2h0m.6 7.4h0m2.8-1.2h0m.5 4.9h0m1.5-2h0m.1-9h0m1.9 4.2h0m.2 5.9h0m.5-.9h0m.1-2.5h0m4.2 2.2h0m.2 1.3h0m2.5-9.5h0m.5 7.4h0m1.3 .2h0m1.1-3.2h0m.2 5.3h0m1.2-9h0m2 3.1h0m.2 2.8h0m.4 3.3h0m1.1-8.2h0m.8 2.9h0m.2-6.7h0m2.5 7.4h0m.3-5.4h0m0 9h0m.1-8.1h0m.1 13.9h0m.4-16.7h0m0 4.4h0m.2-5.8h0m.1 6.8h0m.4-8.7h0m.6 14.7h0m.9-7.5h0m.1 7.8h0m.8-21.2h0m.2 32.4h0m.5-14.6h0m.7-3.3h0m.3-1.4h0m.4-4.1h0m.1 6.5h0m0 2.6h0m.5 .2h0m.4-3.4h0m.3 8.8h0m0-6.8h0m1.8-1h0m.4-1h0m1.4-3.6h0m.5 4.1h0m.4-5h0m.4 13h0m.3-10.1h0m.2-.3h0m1.1-5h0m.7-4.9h0m.5 16.1h0m.9-3.6h0m.3-6.9h0m1.2 4.6h0m.1-1.8h0m.1 7.8h0m.2 5.1h0m.9-7.9h0m1-7.5h0m.9-4.5h0m.3 11.2h0m0-.7h0m.3 0h0m.7 6.3h0m.5-10h0m.2 3.2h0m.1-4.3h0m.1-20.8h0m2.4 28.4h0m.4-6.8h0m.8 1.1h0m.3-1.6h0m.7-2h0m0-.8h0m.1 13.2h0m1.7-.1h0m.2-3.7h0m.2-2.3h0m.2 4.3h0m.3 3.4h0m.1-14.9h0m.1 3.9h0m1.6-1.5h0m.4 3.7h0m.4-.1h0m.5-5h0m.6-4.5h0m.7 .2h0m0 17.6h0m.8-16.2h0m.7 13.3h0m.1-7.8h0m0-1.3h0m.4 14.8h0m0-19.1h0m.6-.3h0m.6 5.3h0m1.1 8.4h0m1.5-3.6h0m.7 10.5h0m0-11.2h0m1.1-5.5h0m.5 8.2h0m.5-11.2h0m.2 12.1h0m.3 4.7h0m1-15.9h0m.2 7.4h0m.1-4.6h0m.3 .4h0m.9-1.9h0m2.3-7.7h0m.1 1.2h0m.3-1.2h0m1 14.2h0m.3 4.8h0m.1 .6h0m.3-7h0m.3 10.6h0m.5-27.2h0m.6 9.2h0m0-3.4h0m.1 6h0m.8 14.6h0m.7-12.8h0m.2 7.5h0m.1 1.7h0m.1-13.3h0m1.9 .7h0m.3 12.2h0m.2-13h0m.2 6.6h0m.2 .9h0m.1-7.6h0m.9 2.8h0m1.1 3.8h0m.3 2.8h0m.2 10.8h0m.5-29.8h0m.2 14h0m0 5.1h0m.5 8.9h0m.2-4.2h0m.6-18.3h0m3.3 17.3h0m0-14.4h0m.6 18h0m.1-7.1h0m.6-10.6h0m2 8.5h0m.5-16.8h0m.2 21.3h0m3.8-8.4h0m.5-2.8h0m.2-6.9h0m2.4 14.4h0m1 1.6h0m1.3-8.5h0m1.1 3.2h0m1.2-8.6h0m2.2 4.5h0m.2-5.7h0m.1 27h0m2.5-19.7h0m3.5 .3h0m2-1.3h0m.4-4.5h0m1.1-3h0m2.7 8.2h0m.8 .4h0m.4 8.4h0m3.4-.9h0m1.9-17.7h0m.7 10.3h0m.6 7.2h0m2.2-5.5h0m1.3-6.4h0m.3 5.7h0m1-11.5h0m7.9 16.5h0m1.5-11.9h0m.6-9.2h0m.1 21h0m1.3-5.8h0m.6-11.3h0m4.3 7.9h0m2.7-3.3h0m4.9 4.9h0m1.8-3.6h0m1.7 .6h0m.9 6.3h0m2.5-13.6h0m1.8 5.3h0m1.1 14.8h0m4.5-18.2h0m1.5-9.4h0m2.6 3.8h0m9.1 5.6h0m5.4 3.4h0m.9-1.4h0m.6 1.6h0m1.3 1.2h0m3.6 5.1h0m3.2-8.1h0m24.9 26.2h0"/>
<path stroke-width="3" d="M421.3 405h0m10.2 3.8h0m.4 .5h0m1.7-2.3h0m.2 13.7h0m.3-16.5h0m1.8 2.6h0m5.5-10.5h0m2.4 7.6h0m1.9 3.7h0m2.8 2.4h0m.2-3.9h0m6.9 .5h0m.7-8.4h0m.5 17.5h0m3.8-9.5h0m2.5 1.1h0m.1-6.9h0m0 3.7h0m.2 17h0m.4-22h0m1.2 8.7h0m.1-12.7h0m.2 16.9h0m.5-8.4h0m.7-7h0m3.8 .5h0m.4 2.8h0m1.4 4.1h0m.1 6.4h0m1.4-10.7h0m.3 8.2h0m.7-.7h0m.2-11.4h0m2.7 6.2h0m.1-2.8h0m.4 7.5h0m.6-4.5h0m.7-1.3h0m.6-8.1h0m.4-9.9h0m2.1 21.3h0m.1 7.8h0m2.2-20.8h0m.2 8.4h0m.1-4.3h0m2.1 11.4h0m1.3-5.6h0m.1-1.9h0m.9 9.4h0m.6-11.2h0m1.9 9.7h0m.4 2.5h0m.4-6.3h0m.2-2.1h0m2.7 .4h0m4.2-5.5h0m2.4 2.8h0m.3 11.6h0m1-15h0m.2 2.9h0m1.7 6.8h0m1.7-30.1h0m.5 20.3h0m1.3 8.4h0m2.1-.8h0m1.6 4.2h0m.7-3.3h0m.1 7.8h0m.3-8.1h0m.7-4.2h0m1-8.1h0m2.5-2.2h0m1.3 16h0m4.1-9.1h0m1 .9h0m.3 10.7h0m.8 1.6h0m3.8-9.8h0m.9 2h0m.3 6.9h0m.1-20.5h0m1.1 19.3h0m1.3-6.3h0m2 2.4h0m.6-18.4h0m.2 13.9h0m2.4 13.9h0m.8-8.1h0m3.9 13.9h0m.6-20.4h0m.3 3.8h0m1.7 5.6h0m6.4-5.2h0m8.8-5.4h0m1.3-17.7h0m5.8 21.5h0m0-10.8h0m.2 3.6h0m1.7 3.9h0m8.5-8.8h0m2.1 7.3h0m2.6-2.9h0m5.4-7.6h0m1.6 16.3h0m3.7-22.7h0m6.8 14.6h0m2.5-13h0m4.8 9.5h0m7.3-4.5h0m20.2-1.4h0m6.5 18.1h0m13.4-16.6h0"/>
<path stroke-width="2" d="M445 407.6h0m1.7-2.6h0m1.1 3.9h0m6-8.2h0m6.8 7.5h0m2.5-3.1h0m6.1 6.7h0m1.7-11h0m3.1-.5h0m6.2 6.4h0m5.8 .3h0m1.4 5h0m2.2 3.4h0m5.7-11.2h0m2.6-7.8h0m.1 9.6h0m9.1-11.8h0m5.8 2.4h0m7 7.9h0m4.9 13.3h0m2.1-13.1h0m1.1 1.9h0m1.1-1.7h0m3.5-15.9h0m7 8.3h0m13.4 6.8h0m.6-10.5h0m6.6 12.3h0m15.4-7.6h0m6.4-.3h0m1-1.1h0m16.8-4.8h0m232.4 30.6h0m.1-26.7h0m.2 7.4h0"/>
<path stroke-width="1" d="M431.6 408.2h0m8.9 3.8h0m.3-14.7h0m34.2 6.5h0m11.2-2.1h0m1.2 8.3h0m11.1-4.1h0m13.9-5.4h0m4.6 2.8h0m2.2-7.8h0m1.3 17.4h0m19.5-6.8h0m6.3-9.2h0m18.7-3.7h0m14.1 2.9h0m26.3 0h0m26.5-4h0m200.6 36.8h0"/>
<path stroke-width="6" d="M268.7 420.2h0m80.2-9.5h0m53.7 .3h0m5.7 16.9h0m40.2-16.6h0m83.8-28.7h0"/>
<path stroke-width="5" d="M367.4 414.9h0m3.8 .4h0m3.1-24.1h0m3.1 24h0m24.7-7.6h0m20.9-4.1h0m4.4-8.7h0m1.1 18.5h0m1-.7h0m10.8-6.7h0m.4 0h0m.1 9.6h0m1.8-14.1h0m.3 .6h0m1.6 5.3h0m2.8-6.4h0m1.1 8.4h0m2.7-11.1h0m.2 12.5h0m.9-4.7h0m.7-1.2h0m0 4.1h0m.7 7.6h0m.8-11.7h0m.6 10.1h0m2-7.5h0m.3-1.8h0m.8-.9h0m1.3-7.2h0m2.3-4h0m.5 7.7h0m1.4 .6h0m2.1 7.6h0m3.9-8.6h0m2.8-7.8h0m1.6 16.4h0m.6-4.4h0m.2-.3h0m2.8-16.6h0m1.7 15.8h0m1.5 6.9h0m1.5-11.7h0m.1 10.1h0m1-7.7h0m1 .1h0m.2 .2h0m.7 2.1h0m.3 9.4h0m1.9-6.1h0m0-4.5h0m.3 1.8h0m.8 2.1h0m.3-14.4h0m1.9 0h0m1.6 15.4h0m2.5-9.9h0m2.3-1.4h0m2.4 6.8h0m.3 6.2h0m.3-8.3h0m1.6-.7h0m.3-.2h0m.5 8h0m2.5-.8h0m.4-6.9h0m.3 0h0m1.9 4.9h0m1.1-2.4h0m5.2 1h0m2.4 2h0m1.4 9.6h0m.2-13.8h0m4.3-5h0m1 .4h0m4.3 16.6h0m.3-11.9h0m1.6 .2h0m2.1 8h0m2.5-7.3h0m3.8-8.2h0m.4 13.7h0m.4-19.4h0m1.8-3.1h0m7.1 6.5h0m10.6 6.7h0m7.4-13.9h0m1.4 22.6h0m4.2-19.2h0m5.9 19.4h0m2.8-25.4h0m7.9 21h0m4.9-3.3h0m6.1-2.8h0m.6-9.9h0m.1-3h0m.1 7.9h0m.4-5.8h0m5 20.6h0m2.4-12.4h0m5.8 8.6h0m3.6-25.1h0m.8 11.2h0m4.2 1.4h0m12.6 17h0m1.8-29.4h0"/>
<path stroke-width="4" d="M358.9 404.8h0m39.3 8.4h0m10.1-11.1h0m5.2-15.9h0m14.3 29.8h0m1.3-14.2h0m2.3-4h0m2.1 3.3h0m2.8 11h0m.3-9.6h0m1 .3h0m1.3 2.6h0m1-2.3h0m.3-2.2h0m2.6 6.4h0m.3-1.7h0m.6 1.2h0m1.9 1.1h0m1.1 6.5h0m2.5-10.1h0m3.2 4.1h0m.2 5.9h0m1.5-.6h0m1-17.2h0m.8 9.2h0m0 0h0m1.6 1.6h0m.5-6.5h0m.2 7.3h0m.3-5.7h0m.9-3.5h0m.4 5.1h0m2.2 3.1h0m.4-2.8h0m.3 4.2h0m.1-5.2h0m.1 .6h0m.2 12.5h0m.2-4.6h0m.6-15.2h0m2.3-.3h0m.1 10.4h0m.5-8h0m.3 6.2h0m0 1.3h0m.2-8.7h0m.6 10h0m1.6-8.5h0m.1 11.3h0m0-1.4h0m.2 2.2h0m.1-4.6h0m.2-7.8h0m.1 12.3h0m.2-1.1h0m.1-4.9h0m.4-4.8h0m.7 6.1h0m1.9-3.8h0m.1 19.7h0m.2-25.6h0m.3 5.8h0m.5 3.2h0m.6 2.3h0m.5-15.9h0m.4 19.8h0m.1 1.5h0m.2-5.8h0m1.2-.7h0m1.8-11.3h0m.2 16.5h0m.6-5.9h0m1-16.3h0m.1 9.7h0m.5 5.3h0m1 9.6h0m.1-19h0m.8 20.8h0m2.1-17.3h0m1.7 7.2h0m.2 6.9h0m.1-8.2h0m.3-2.8h0m1.5 4.4h0m1.2 .1h0m.9-1.8h0m.3-1.5h0m.7 4.8h0m.1-2.3h0m2.1-8.2h0m.2-.1h0m.3-1.4h0m.4 6.1h0m.1-7.8h0m.3-1.4h0m.4 5.9h0m.5 4.9h0m.5-2.9h0m0 17.1h0m.1-8.7h0m.8-7.3h0m.1 7.3h0m0-.9h0m1.3-3.7h0m.1 2.2h0m.2 1.8h0m1.2 2.8h0m.2-5h0m.3-.5h0m1.1-1.7h0m.3 2.3h0m.7 6.3h0m.1-3.7h0m.4-4h0m.2 1.9h0m.2-.9h0m.2 3.9h0m.7-10h0m.5-2.2h0m.2 6.4h0m.5-9h0m.1 6.3h0m1.2-5.9h0m.4 2.9h0m.3 6.5h0m1.8 3.7h0m.4-7.5h0m2.1 1.1h0m.2 2.5h0m.4-11h0m2.4 1.6h0m.8-11h0m1.3 9.8h0m1 11.9h0m.2-6.7h0m.6 9.7h0m.1-5h0m.1-2.4h0m.8-6.4h0m1.2 12.2h0m.3 9.5h0m.2-17.5h0m.5 4.1h0m1.7-9.3h0m.1 22.2h0m.5-12.8h0m.6-2.9h0m.2 5.2h0m.3-3.8h0m1.4 3.8h0m1.1-10.9h0m.3 7.9h0m.2 4.6h0m.1-9.1h0m1.1 2.8h0m2.1 0h0m0 .4h0m0-1.5h0m.3 15.8h0m.9-17.2h0m.6 10.1h0m.5-3.9h0m0-1h0m2.3-3h0m.2-.9h0m1.4-6.7h0m.5 5.8h0m2.6 8.3h0m.4-6.9h0m.9 .9h0m.3-15h0m1.6 12.4h0m.7 4.2h0m0-10.7h0m.3 6.1h0m.8-7.3h0m.1 13.4h0m.4-17.2h0m.9 25.1h0m.3-4.7h0m1.3 2h0m0 2.6h0m1-10.8h0m.7-2.6h0m.8-8.2h0m1.8-1.9h0m.1 14.3h0m.8-4.4h0m.2-7.9h0m.5 5h0m.1 4.6h0m2 3h0m2.4-.1h0m11.8-6h0m4.4 9.3h0m1 1h0m2.1-16.9h0m3.5-.8h0m2.8-3.8h0m0 15.9h0m.4-3h0m1.1-11.1h0m.2 6.4h0m2.2-3h0m4.7 4.6h0m.9-26.4h0m3.1 8h0m1.8 7.4h0m.1 20.6h0m1.8-7.5h0m.9-17.7h0m2.2 .9h0m1.8 16.2h0m1.1-7.1h0m.8 4.1h0m1.2-11.8h0m.1 1.1h0m.8 8.9h0m.5 2.5h0m1.6 3.6h0m.5-7.8h0m.3-7.5h0m5.4 .9h0m.5 3.4h0m1.8 6h0m.8 9.9h0m3.5-16.6h0m5.6-1.5h0m.2 5.5h0m3.2 4.3h0m3.6 11.3h0"/>
<path stroke-width="3" d="M421 404.1h0m7.6 2.9h0m.2 1.3h0m1.5-4h0m4.2 7.7h0m.4-17.2h0m2.7 15.3h0m.7-1.8h0m.9-2.8h0m0 1h0m1.1 2.6h0m.2 4.3h0m.6-11.2h0m3.7 2.6h0m1 2h0m0-3.7h0m1.7-.3h0m1.5 3.9h0m3.1-4.2h0m.7 2.5h0m0 1.2h0m2.1 11.2h0m1.4-11.5h0m.3-.1h0m0-3.6h0m.4 0h0m1-3.1h0m1 3h0m.4-5.4h0m3.8-12.8h0m1 4.7h0m1 22.7h0m.2-4.5h0m0-17.4h0m1.2 6.8h0m.8 21.5h0m.1-.3h0m.2-16.6h0m1.3-1.9h0m3.9 16.1h0m.5-8.9h0m3.6-2h0m.6-2.6h0m.1-1.9h0m2.9-.2h0m.4 5.9h0m.1-4.3h0m.4-2.1h0m1.1 7.8h0m.2-3h0m.2 3.3h0m3.4 2h0m2.5 4.9h0m.5-6.7h0m.4-7.1h0m.6-7.5h0m.6 11.5h0m3 11.5h0m.4-14.4h0m.1-6.4h0m.6 18.2h0m.1-15.3h0m.1 3.5h0m.4-4.9h0m1.7 2.6h0m.7 1.2h0m0 6.5h0m.3-7.9h0m.5-7.5h0m.3 4.1h0m.2 .5h0m1 8.9h0m.1 2.1h0m.2-.9h0m.1-7.2h0m4.6 4.9h0m1.6 5h0m1.1-31.1h0m.3 32.8h0m1.6-6h0m.3-2.6h0m.1 3.6h0m1 14.5h0m.2-16.1h0m.7 8.6h0m2.5-15.8h0m1.2 2h0m.6 4.6h0m1.5-2.5h0m.3 8.1h0m.6-15.5h0m.4 20.3h0m.4-7.8h0m.4-2.9h0m1.7-2.6h0m2.9 1.6h0m4.5-1.5h0m1.5-2.1h0m5.1-5.7h0m1.6 8.7h0m.1-9.6h0m.4 9.8h0m2.7 6.5h0m.5-7.2h0m.8 5.1h0m1.7 3.9h0m4.1-22.5h0m2.1 12.8h0m3.2-2.9h0m.4 6.5h0m7.3-10.8h0m10.5 5.4h0m15.5-7.6h0m3.3 3.3h0m11.2-1.7h0m1.2-.9h0m6.9 9h0m2-10.2h0m11.5-6h0m1.7-4.3h0m2.6 9.7h0m.7 5.3h0"/>
<path stroke-width="2" d="M425.3 402.6h0m17.8 8.4h0m18.6-5.1h0m1.2-1.6h0m.4-6.2h0m2 5.2h0m1.8 9h0m10-6.3h0m1.8 .5h0m4.2-12.5h0m3.1 7.4h0m.8 8.3h0m2.4-10.7h0m3.6 11.1h0m1.5-8.8h0m7.7 9.1h0m2-4h0m2.7-8.7h0m1.3 3.2h0m1.6 5.1h0m4.4-4.8h0m1.8 3.1h0m4.5-17.9h0m1.4 5.6h0m1.7 12.9h0m.4-3.6h0m1.3 5.3h0m.7-3.9h0m3.9-1.7h0m19 9.1h0m18.1-3.1h0m22.2-25.2h0m1 18.7h0m15.1-.8h0m6-1.4h0m1.8-12.9h0m14.8 2.2h0m10.8 1.9h0m193.7 24.1h0m0 18.6h0"/>
<path stroke-width="1" d="M435.3 404h0m16.2-10.7h0m59.2 11.5h0m11.9-5.6h0m3.5 .3h0m1.2 2.6h0m1.1-8.2h0m2.6 3.7h0m5.5-.6h0m8.9 5h0m26-15.2h0m261.1 26.9h0"/>
</g>
<g stroke="#14087f">
<path stroke-width="6" d="M302 340.8h0m46.9 35.4h0m5.4-1.6h0m29.3-11.5h0m3.5-14.5h0m5.6-6.5h0m9.9-3.7h0m5.7 13.4h0m11.1-35.9h0m8 6.2h0m21.1-4.5h0"/>
<path stroke-width="5" d="M374.3 356h0m3.1 17.5h0m12.3-16.1h0m10.8 3.6h0m3.1 7.4h0m5.1-6.1h0m29.1-20.7h0m.9-22.7h0m1 14h0m.6 10.1h0m0 2.2h0m2.3-1.1h0m1.2 .8h0m5.2-.8h0m3.9-29.1h0m1.5-14.5h0m2.3 16h0m.3 14.9h0m.3-.5h0m.8 29.2h0m1.3-47.3h0m.6 22.6h0m1.7-20.8h0m.5 35.1h0m.4-23h0m1 9.1h0m2.3-4.2h0m.9-16.2h0m.2 23.2h0m.4-22.5h0m1.6 9.5h0m3.4 3.3h0m1.1 17h0m1.1-4.3h0m.9-15.8h0m.1-3.2h0m.4 4h0m2.2-14.2h0m2.2 2.7h0m.4 19.2h0m.5-42.9h0m.4 46.6h0m1.9-3.7h0m1 20.6h0m.4-56.4h0m.6 37.3h0m1.5 6.9h0m.7-24.8h0m.3-1.7h0m.8 18.6h0m.7-16.3h0m4.3 4h0m6-20h0m.3 38.3h0m1.6-21.7h0m.3 .9h0m.4 11h0m1.3-18.7h0m1.3 10.9h0m.4 15.2h0m3.1-56.8h0m1.2 41.7h0m2.3 11.1h0m1.9-6.5h0m3.9 .7h0m3-9.7h0m.3 6.8h0m4.5 .6h0m1.9 9.2h0m.1-12.1h0m6.4 4.7h0m1.2-2h0m2.6-12.3h0m.3 11.8h0m.5-9.7h0m.3-62.5h0m2.1 79.4h0m2.2-10.1h0m4.3-.1h0m1.8-8.4h0m3.9-1.5h0m.6 14.3h0m4.3-19.5h0m4.8 11.1h0m2.6 7.6h0m1.4 3.6h0m.9-3.2h0m2.1 4h0m1 5.5h0m5.9-19h0m.2 13.3h0m.3-5.5h0m.6-3.6h0m3.3 17.4h0m3.9-7.5h0m13.4-11.9h0m.9-27.5h0m.1 38h0m5.3-17h0m2.5 1.5h0m5.8 2.9h0m8.6 2.2h0m13.3-2.8h0m1.3-14.7h0m4.1-8h0"/>
<path stroke-width="4" d="M338.8 380.8h0m20.1-15.5h0m39.1-28.4h0m6.1 20.8h0m2.6-10.4h0m0 15.3h0m14.5-39.8h0m6.4 3.1h0m.2 26.4h0m1.3-37.4h0m1 14.1h0m1.3 16.7h0m2.1-25.3h0m2.8 5h0m.3 31.4h0m1-34.8h0m1 20.5h0m.4 0h0m.2-1.6h0m.6 4h0m.3-36.2h0m.1 23.8h0m.1 16.9h0m.6-14.5h0m.5-35.6h0m2.3 26.1h0m2 22.2h0m.5-20.2h0m.5-4.6h0m1.1-5.7h0m.4 18.4h0m.8-12.8h0m.2 13.5h0m.2-9h0m.2 22.6h0m1.1-9.3h0m0-34.3h0m1.9 34h0m0-6.5h0m.8-5.5h0m.7 7.6h0m0 6.3h0m.6 3.8h0m1.1 5.7h0m.1-26.8h0m.7 16.1h0m.4-17.8h0m.8 9.9h0m.2 5.3h0m.5-5.3h0m.8 10.3h0m.3-13.4h0m1.9 2.4h0m.1-21.3h0m.4 12.7h0m.3 26.3h0m.1-24.8h0m0 10.3h0m.1 17.1h0m.2-17.9h0m.2-31.3h0m.4 28.8h0m.3-21.3h0m.4 30.2h0m.7-37.5h0m.2 44.4h0m0-11.6h0m.6-9.7h0m.9 19.3h0m.1-7.7h0m.2-15.9h0m0 14.6h0m0-52.9h0m.4 18.1h0m0 38.1h0m.2-36.5h0m.6 37.9h0m.2-4h0m.2-12.4h0m.3-38h0m.3 50.3h0m.7-7.9h0m.5 8.5h0m.2 .7h0m0 1.8h0m.9-12.5h0m4 5.1h0m.9-9.6h0m.3 11.4h0m.4-3.7h0m.2-9.6h0m2.1 12.3h0m.4 5.7h0m.1-21.4h0m.4 6.3h0m.2 10.2h0m.1-35.8h0m1 25.8h0m.7-1.1h0m.6 27.7h0m.3-21.3h0m.8 10.5h0m.9-17.8h0m2.1 13h0m.2-14.4h0m2.1-8.5h0m.5-5.4h0m.1-20.2h0m0 45.8h0m1.7-.4h0m.4-11.8h0m0-27.8h0m.4 36.8h0m.6 8h0m.5-14.5h0m.9 .3h0m.8 1.7h0m.2-5.8h0m.3 31.6h0m.1-45.7h0m0 23.6h0m.3 16.8h0m.1-8.2h0m.6 12.8h0m.1-23h0m.5-1.3h0m.6-4.1h0m1.7 .4h0m.5-3.5h0m.2-15.8h0m1.1 15.1h0m.2 6.5h0m.1-.6h0m.1 23h0m1.4-28.2h0m.8 5.1h0m.2 11h0m.1 5.5h0m.2-10.3h0m1.2-44h0m.1 30.1h0m.2-7.6h0m.7 26.5h0m.1-4.6h0m.4-13.9h0m.1 5h0m.2 8.6h0m.5 9.9h0m1.4-6.5h0m.1-9.2h0m.3-8.4h0m1.2 21.4h0m.7-16.4h0m.7 5.9h0m.7-13.8h0m.3 3.8h0m.1 14.8h0m.3-6.5h0m.6 9.1h0m1.3-1.4h0m.2-7.5h0m.1-2.1h0m.1-1.8h0m.4 40h0m.8-78.1h0m0 50.2h0m1.1-12.3h0m1.2-6.5h0m0-3.3h0m.2 18.3h0m3.1-17.3h0m0 23.9h0m.7 3.9h0m.6-16.5h0m.1 10.3h0m.6-1.4h0m0-17.7h0m.4 2.4h0m.1 16.7h0m.1-17.9h0m.4-1.2h0m.6 23h0m.1-41h0m.6 25.4h0m.8-51.1h0m.4 55.1h0m.3 6h0m2-13.2h0m.5-23.4h0m.8 22.7h0m.3 12.3h0m1 1.6h0m.3-1.4h0m2 7.8h0m1.8-21.8h0m2-6.4h0m1.2-12.5h0m1.6 28.1h0m.4-7.8h0m3.9-10.1h0m1.2 13.8h0m.5-13.2h0m.8 12.6h0m.3-1.7h0m1.3-5.7h0m1 12.9h0m.1-4h0m0-15.6h0m1.2 29.1h0m1.5-12.9h0m.8 21.2h0m.4-3.6h0m.4-8.8h0m.4-9.6h0m0-9.8h0m.2 40.4h0m2-20.1h0m.4-85h0m1.9 72.6h0m.6 8.1h0m4.5-9h0m1-20.4h0m7.1 24.3h0m2.9-.1h0m.2-4.8h0m3.1-6.1h0m3 16.8h0m2.7 1.8h0m.6-24.2h0m.4 5.7h0m1.3 23.8h0m2.6 1.9h0m.8-11.3h0m2.7-1.7h0m.9-23.8h0m2.5 25.1h0m2.9-11.8h0m.3 14.6h0m.1-23.4h0m1.8-6.9h0m2.4 31h0m.7 .7h0m1.8-32.8h0m1.1-22h0m3.4 61.1h0m1.4 1h0m8.7-49.1h0m4.3 9.2h0m5.6-4.1h0m.2 34h0m9-129.8h0m16.8 108.1h0m5.4-1.9h0"/>
<path stroke-width="3" d="M421.3 349.3h0m10.6-19.2h0m2.6-9.2h0m.4 30.2h0m0-30.6h0m.9 20.5h0m2.5-4.7h0m.9-8.9h0m2.2-11.3h0m6.1 21.2h0m1-1.8h0m.2-7.6h0m0 8.1h0m3.4-3.1h0m.7 9.9h0m0 3.2h0m2.1-31h0m1.7 34.4h0m.4-21.9h0m1.8-37.3h0m2.2 41.1h0m2.1-45.5h0m.1 41h0m0-9.7h0m0 7.1h0m.6 8.9h0m1.3 11.8h0m.3-13.2h0m.4-8.3h0m.7 12.9h0m5.1 5.7h0m1.8-11.1h0m.2-12.4h0m1 8.3h0m.2-29.7h0m2.2 17.4h0m.6 32.2h0m0-8.6h0m.4-12.6h0m1.1-3.1h0m.2-1.4h0m1.2 17.2h0m.5-28.2h0m1.6 25.4h0m.1-46.4h0m1.5 36.3h0m.8 5.3h0m1.4-11.5h0m.2-19.7h0m1.8 35.7h0m1-1.6h0m.4-9.8h0m.2 2.6h0m2.3 2.7h0m.3-4.4h0m1.4 30h0m.5-12.4h0m.6-36.9h0m.5 25.9h0m.1 1.3h0m1.7-4.8h0m.3-13.6h0m.4-5.5h0m1.1 15.1h0m.2 32.4h0m1.1-34.9h0m3.2-16.9h0m1.7 37.7h0m3-9h0m.5-3.3h0m1.5-9.3h0m1-7.9h0m.9 18.6h0m1.6-15.7h0m.9 15.6h0m.6-12.4h0m1.3-.6h0m1.2-9.1h0m.1 12.6h0m.1 3.8h0m.3 11.4h0m1.4-12.7h0m.2 5.3h0m1.9-1.7h0m1.4 11.3h0m1.3-20.4h0m5.5 22.9h0m.3-8.7h0m3.8-23.2h0m1.3 5.2h0m.9 13.7h0m1.2-6.1h0m1.3-7.3h0m1.8-4.1h0m.5 12.8h0m2.5-13.2h0m6.8 13.9h0m6.4 1.1h0m5.5-15h0m1.2 31.5h0m4.3-9.3h0m2.7-11.2h0m3.2 21.3h0m4.3-26.4h0m.7 10.3h0m9.7-22.9h0m1.3 7.7h0m.3 4.7h0m3.4 3.2h0m1.2 14.7h0m14.7-15.8h0m2-4.5h0m13.2-52.9h0m.1 51.9h0m3.1-10.9h0m.7 5.4h0m6.6-43.3h0"/>
<path stroke-width="2" d="M343.7 340.8h0m91.8 0h0m7.6-7.2h0m1.9 36h0m1.7-48.7h0m7.1 13.1h0m7.9 6.8h0m1.4-14.4h0m2.2-4.1h0m3.9 4.5h0m7.9 1.1h0m3.1-10.5h0m2.9 19.9h0m2.9-12h0m1.2 5.4h0m10.7-2.5h0m4.3-3.2h0m6-15.6h0m.8 22.2h0m5.2 1.5h0m2.2-5.8h0m.6-12.2h0m1.9 13.6h0m1 16h0m4.1-38.8h0m1.3 33.3h0m4.1-30.5h0m.5 22.4h0m5.5-18.9h0m9.9 23.1h0m3.6-23.1h0m4.1 11.3h0m.6-3.9h0m13.4-3.3h0m16 10h0m16.8-75.2h0m28.1 66.2h0"/>
<path stroke-width="1" d="M435.3 338.5h0m5.3 4.4h0m34-28h0m.4 24.4h0m21.1-18.3h0m1.1 11.2h0m.8-71.8h0m.5 62.5h0m4.4 3.7h0m9.5-32.9h0m4.8 5.2h0m25.9 27.7h0m7.8 6.7h0m44.2-84.9h0m36.8 65.6h0"/>
<path stroke-width="6" d="M268.7 383.9h0m125.7-25.7h0m1.5-12.8h0m12.8 13.3h0m41.7-23.4h0m138.3-24.7h0"/>
<path stroke-width="5" d="M402.1 357.3h0m5.8 5.7h0m7.6-3.8h0m7.5-4.8h0m4.4-5.9h0m1.1-22.2h0m1-15.7h0m2.9 28.9h0m4.2-15.3h0m4.1 11.7h0m0-10.1h0m.1 9.8h0m1.6-11h0m1.9 16.9h0m3 .4h0m1.1-7.4h0m2.7 10.3h0m1-23.6h0m.1 33h0m.7-42.7h0m1.9 25.2h0m1.5-37.3h0m1 38.7h0m.7 12.8h0m.6-30.9h0m.2 15.3h0m2.6 12.7h0m1.9-9.8h0m.8-5.1h0m.4-16.5h0m1.6 15.5h0m1.5 23.6h0m2-34.5h0m3.3 1.8h0m1.1-18.3h0m.8 32.4h0m2.4-12.2h0m.4 19h0m1-21.8h0m0 5h0m.5 18.1h0m.3-13.6h0m.3 11.8h0m2.6-3.6h0m.1-14.2h0m2.9 9h0m2.2-51h0m.6 34h0m.2 4.5h0m.3 14.3h0m.5-10.7h0m.3 8.6h0m1.4-45.2h0m0 32.4h0m1.5-4.7h0m.1 6.2h0m.2 12.2h0m1.9-25.5h0m.4 18h0m2.3-39h0m.1 27.6h0m.5-15.8h0m.1 7.7h0m1.7 21.1h0m2.7 11.4h0m.3-13.7h0m1.2 .7h0m.4 28.8h0m1-29.7h0m.6-5.6h0m1.7 4.3h0m.7-37h0m6.5 41.1h0m.9-23.5h0m.8 16.4h0m1.4 5.8h0m.2-6.5h0m4.3 10.5h0m.5-14.1h0m5.1 17h0m1.3 5.7h0m.6-21.7h0m.1 4.9h0m4.2-6.1h0m.8-56.6h0m8.1 74.3h0m2-15.9h0m10 6.9h0m.9-20.7h0m4.3 15.4h0m1.3-8.2h0m16.9 19.8h0m.7-16.9h0m.8 34h0m12.8-40.2h0m1.4-4.5h0m4.7 13.9h0m18.8 5.9h0m3.2-22.9h0m12.2 1.6h0"/>
<path stroke-width="4" d="M386.6 358.4h0m9.4-40.4h0m2.2 29.6h0m13.9 3.3h0m5.5-14.8h0m1.6 8.9h0m2.4-16.9h0m2.3 4h0m4.6 11.8h0m.6-42.7h0m3.8 38.9h0m.4-62.2h0m.3 49.8h0m1.2-20.7h0m1.8 19.7h0m1.2 20.7h0m.4-16.5h0m.7-5h0m.3-7.4h0m.2 21.4h0m.5 3.8h0m.3-2h0m.1-29h0m.3 23h0m.2-3h0m2-18.6h0m.2 15h0m.1 8.4h0m2.5-4.9h0m0 3.5h0m2.2-1.6h0m.5-46.2h0m.1 54.4h0m.9-4.3h0m1.6-47.4h0m1.2 50.1h0m.5 10.8h0m0-29.8h0m1.9 6.1h0m.6 36.4h0m.7-39.9h0m.1 3.3h0m.8 8.8h0m.1-12h0m.7 .5h0m.7 5.2h0m1.4 10.1h0m.6-1.1h0m.3-1h0m.4 1h0m1.7-11.2h0m0-5.2h0m.2 6.4h0m.7-2.2h0m.1 29.5h0m0-26.9h0m1.5 3.5h0m1-5.4h0m.1 2.8h0m.8 6.3h0m2.6 4.7h0m.2-25.5h0m0 34.7h0m.7-14.4h0m.2 3.6h0m.1-15.2h0m.6 20.8h0m.5-15h0m.6 1.9h0m1 6.1h0m.4-14.8h0m.1 19.6h0m1.6-13.3h0m.2-2.6h0m1.4 11.6h0m.4-14.1h0m.5-.4h0m.1 6h0m.4-12.8h0m1.7 14h0m.1 1.6h0m.2-15.1h0m.6-5.7h0m.6 31.5h0m.3-27.8h0m.1 13.1h0m.6-3.4h0m2.9-32.4h0m.1 44.3h0m0-1.2h0m.3-11.5h0m.7 3.7h0m.9-6.8h0m.1 1.1h0m.8 24.5h0m.2-18.1h0m.1 7.4h0m.1-9.4h0m1.2-6.8h0m.6-20.4h0m.5 36.1h0m1.3 19.6h0m.2-32.3h0m1.9 15.5h0m.2-11.9h0m.5 9.2h0m.5-35.4h0m.3 15h0m.5 12.4h0m.4-10.9h0m.5 6h0m0 25.9h0m.6 1.4h0m.4-26.2h0m1.3 .6h0m.3 1h0m0 2.8h0m.2 3.4h0m1.4-5.8h0m.1-.3h0m.1 15.3h0m.8-6.5h0m.2-25.3h0m.3 18.9h0m.5-2.1h0m.2 6.6h0m.2-8.1h0m.3-40.6h0m.1 42.3h0m.1 13.3h0m.2-10.8h0m1.9-2.8h0m1.9-12.9h0m.5 10.5h0m.3-33.3h0m.1 30.7h0m.3-37.5h0m.3 43h0m1 1.9h0m.1-5.4h0m.1 17.5h0m.3-15.5h0m.1 8.6h0m.5 4.6h0m.8-16.6h0m.8 12.1h0m1.3-1.5h0m.2-17.1h0m.7 16.1h0m2.3-8.1h0m.1 36.3h0m.2-76.6h0m.1 46.9h0m.4-14.9h0m.2-1.4h0m0 25.6h0m.5 .9h0m.2-64.5h0m.2 55.5h0m.9 10.4h0m1.2-17.2h0m.5-24.9h0m1 20.3h0m.1-5.6h0m.2 2.4h0m1.9 20.1h0m.7-9.2h0m.5-26.4h0m2 34.7h0m.3-26.7h0m.1 12.5h0m.1 13.7h0m.1-21.9h0m.2 12.5h0m.7-1.3h0m.1-19.9h0m1.4 1.3h0m1.4-1.8h0m.6 24.3h0m.6-16.8h0m0 26.9h0m.5-15.7h0m.5 11.4h0m.2 8.5h0m1.6-64h0m.2 58.4h0m1.4-9.2h0m0-15.7h0m.2 22.2h0m2.2-8.3h0m.2 4.8h0m1.8-14h0m.8 24.3h0m.8-21.5h0m.9 11h0m.1-21h0m1.1 4.5h0m.5 17.6h0m1.3-40.3h0m.8 19.7h0m.4 1.8h0m0-17.1h0m.3 34.9h0m1.3-1.5h0m3.6 9.5h0m4.5-23.7h0m1.3 3.3h0m.6-56.8h0m2.2 68.4h0m2.2 14.9h0m8.3-20.4h0m.9 21.2h0m9.2-7.6h0m7.7-23.4h0m3.4 10.2h0m3.1 12.8h0m.4-.7h0m1-48.9h0m3.2 42.5h0m5.5 25.2h0m.4-45h0m1.1 15.6h0m.1-6h0m.1-13h0m.8 4h0m2.1 1.8h0m1.4-14.2h0m1.4 18.6h0m1.3-2h0m.4-5.1h0m2.2 11.3h0m2.9-5.2h0m1.2 11.2h0m.6-59.1h0m8.1 42.1h0m5.3 10.4h0"/>
<path stroke-width="3" d="M421 336h0m7.6 15.3h0m.2-7.9h0m1.5-9.5h0m1.3 24.6h0m2.2-29.2h0m.3 5.9h0m3.5-18h0m1.6 21.1h0m1.1 8.5h0m.2-23.5h0m3.3 30.7h0m.7-18.5h0m.3 4.8h0m.9-1.6h0m.1-1h0m.8-12.1h0m2.4 2.2h0m6.6 5.5h0m.7 3.6h0m.3-3.4h0m.5-19.5h0m.9 11.6h0m2.6-9.1h0m4.7-.2h0m2.1 10.5h0m1.6 6h0m3.1-8.4h0m.1 1.2h0m1.1 6.5h0m.6-13.7h0m.9 20.7h0m0 .7h0m2.7-2h0m.2-15.5h0m.4 8.8h0m1.2 8.1h0m.6-8.3h0m.7-14.1h0m.5-7.4h0m.4 21.8h0m.9-6.1h0m2.3 9.4h0m.2 7.1h0m2.2-25h0m1.4 4.2h0m1.7 7.6h0m.8 5.7h0m.8 1.4h0m.1 6.7h0m.8 0h0m1.7-20h0m.6 2h0m1.7 .5h0m1.6 10h0m.1-9h0m2 25.2h0m.4-9.7h0m1.4-24h0m0-27.2h0m.3 33.2h0m1 11.8h0m.1-6.2h0m.6 5.5h0m.4-29.4h0m.8 2.5h0m1.6-2.5h0m.1 41h0m.5-36.4h0m.5-15.1h0m2.2 52.6h0m.1-26.2h0m1.4 4.5h0m.9 13.7h0m1 4.2h0m1.9-15.5h0m.1 1.4h0m.7-9.1h0m.2 1h0m2.4-11.2h0m.2 34.6h0m.2-11.9h0m1.7-14.9h0m.5 9.8h0m2.7-1.7h0m.5 12.4h0m1 6.8h0m4.6-16.8h0m.4 6h0m1.6-18.9h0m.5 12.6h0m4.6-13.3h0m.5-4.2h0m.1 10.2h0m2.6-5.6h0m2.1 4.2h0m.9 6.6h0m1.7-13.4h0m1.3 19.9h0m1-13.3h0m.1 2.9h0m4 15.3h0m0-15.7h0m2.6-39.8h0m3.3 10.5h0m2.9 24h0m.2-3.8h0m1.1 47.2h0m5.8-22.9h0m3.6-43.2h0m.1 52.4h0m8.8-23.8h0m3.3 11.5h0m3.3-25.7h0m8.3 14h0m1.2 23.6h0m4 11.8h0m1-33.8h0m20.9 6.8h0m.7-6h0m4.3-7.2h0m.8-21h0m2.6 26.7h0m3.5-20h0m20.9 19.1h0m177.4-234.9h0"/>
<path stroke-width="2" d="M298.7 369.7h0m126.6-17.6h0m3.7-10.5h0m8.8-48.8h0m19.8 46.7h0m5.3 7.8h0m4.2-21.3h0m3.8 12.5h0m.9-13.9h0m7.1 1.1h0m8.5 3.8h0m1.2-6.2h0m.9 23.3h0m.1-9.7h0m2.7-24.1h0m.7 4.1h0m5 .1h0m6.1-16.4h0m.1 23.6h0m8.5 16.9h0m.3-12h0m2.9-4.6h0m.1 4.5h0m5.9-17h0m1.2 8.1h0m.5-7.7h0m2.4 5.3h0m.9 20.9h0m2.2-18.7h0m46.5 4.3h0m6.4-29.8h0m31.1 15.8h0m219.3-203.4h0"/>
<path stroke-width="1" d="M431.6 339.1h0m9.2-5.8h0m9.9 6h0m.8-14.3h0m9.3 24h0m33.3-8h0m16.6-18.4h0m8.5 11.6h0m1.3-7.5h0m10.5-15.1h0m5.5 32.1h0m3.5-10.3h0m5.4-14.9h0m.9-1.7h0m2.8-2.9h0m9.7-6.6h0m12.6 24.8h0m7.7-26.4h0m14.3 9.6h0m12 2.5h0"/>
<path stroke-width="6" d="M343.5 382.3h0m37-13h0m71.7-25.5h0m80.1-18.9h0"/>
<path stroke-width="5" d="M367.4 369.7h0m3.8 8.9h0m16.1-14.6h0m4.7-8.9h0m26.5-8h0m8.1-8.3h0m6.7-8.3h0m3.4 6.8h0m5.4-14.1h0m.8 28.9h0m1.6-16.4h0m.2 11.2h0m.6-10.7h0m.6 9.8h0m2.8-10.7h0m1.7-1.6h0m.9-37.1h0m2 37.5h0m.3-15.1h0m.1 20.7h0m1.3-7.4h0m.3 12.3h0m1.1-4.4h0m1.6-17.3h0m6.4 21.1h0m1.3-25h0m3.8 5.5h0m3.6-24.3h0m1.9 24h0m1.8 8.2h0m2.5 2.1h0m.9 3.9h0m.9-6.9h0m.4 9.8h0m1.6-6.6h0m.3-17.9h0m.1 24.1h0m.1-37.6h0m.1 33.4h0m.7-12.1h0m.8 18.3h0m1.1-11.3h0m1.2-2.9h0m.6 14h0m1.8 .2h0m3.9-23.3h0m1.6 9.1h0m2.8 1.8h0m5.6 3.7h0m.5-18.1h0m1.5-3h0m1.9 22.7h0m1.1-11.3h0m.6 5.3h0m.1-5.1h0m2.9 4.9h0m3.2 1.8h0m.8-2.1h0m1.3-8.5h0m.1 15.2h0m2.3-11.2h0m3.2 10.3h0m1.9-18.1h0m4.3 18.6h0m.2-21.2h0m1.2 9.7h0m.7-23.2h0m4 22.6h0m2.2-15.2h0m.5 26.2h0m2.2-33.1h0m1-13.7h0m2.2-11.5h0m1.6 46.3h0m.6-4.3h0m2.1 8.9h0m1.1 8.1h0m.1-5.1h0m1 3.6h0m0-10.6h0m0 7.2h0m.2-16.8h0m.7 3.4h0m1.9 28.3h0m.3-46.1h0m.2 25.1h0m.7 .8h0m11.4 .2h0m3.7-15.6h0m1.9 10.3h0m9.8-19.4h0m1.4 21.3h0m3 34.6h0m2.4-42h0m5.7-11.8h0m.4 1.5h0m5.5 22.7h0m.6-1.2h0m5-61.9h0m.2 49.5h0m5.5-19.2h0m4.9 18.8h0m1.2 17h0m6.3-26.1h0m11.3 11.3h0m1.8-9.2h0"/>
<path stroke-width="4" d="M301.8 340.7h0m25.5 29.1h0m33.9-36.8h0m9.8 3.3h0m37.3 34.2h0m5.2-25.4h0m7.1 1.4h0m.3-5.8h0m.5-3.9h0m4.8-2.8h0m1.6-13.6h0m1.1 6.4h0m1.1 9.2h0m1 21.1h0m.6-8.6h0m1.1-9.5h0m3.4-8.6h0m.4 9.5h0m1.6-2.2h0m.8 16.7h0m2.7-21.2h0m.4 19.1h0m.4 2.2h0m.2-19.9h0m.9-10.4h0m1.6 10.8h0m.1-38.1h0m.1 43h0m1.2 7h0m1.3-8.8h0m2.5-15.5h0m2.1 9.7h0m1.3-.3h0m.6-26h0m.8 30h0m2.3 10.2h0m2-15.9h0m0 5.6h0m.3 8.5h0m.1-9.4h0m0-7h0m.4 4.2h0m.2 6.7h0m2.3-7.5h0m.4-10.1h0m.2 3.3h0m.6 10.9h0m1.1-7.7h0m.4 4.9h0m0 .4h0m.1 7.7h0m.5-3.9h0m.2-1.6h0m.1 6.8h0m.5-19.3h0m.3 10.8h0m1.4-4.4h0m1 14.9h0m.4-40.7h0m.3 44.4h0m.2-13.2h0m.5-21.3h0m.7-16.9h0m0 58h0m.5-18h0m1-.8h0m.1-5.8h0m.4 2.7h0m.2-5h0m.3 20.6h0m.3-7.2h0m.2 5.5h0m.2-.5h0m.5-21.2h0m.4 23h0m.5-25.8h0m.7 9h0m.1-.5h0m2-.6h0m.4-9.4h0m1.8 2.5h0m.1-6h0m.5-2.9h0m2.3 19.2h0m.9-7.9h0m1.6-9.5h0m.2 15.8h0m.7-7.6h0m.6-26.2h0m1.1 54.6h0m.5-37.5h0m1.1-52.2h0m1.2 76.1h0m1.2-64h0m.6 69.9h0m.1-3.8h0m0-10h0m.4-1.4h0m1.4 8.1h0m.2-10.9h0m1.7-21.2h0m.5 34.4h0m.4 6.6h0m.1-28.3h0m1.1-7.4h0m.3-.1h0m.4 33.5h0m1.3-14.9h0m.2 8.9h0m.6-25.1h0m.2-.7h0m2.4-37.2h0m1.2 61.2h0m.8-12.3h0m.8 24.7h0m.3-16.3h0m.1 4h0m.4-14h0m.3-9.9h0m1.7 2.4h0m.6 9.7h0m1.3 15.2h0m.7-41.3h0m.2 9.8h0m1.1-13h0m.1 51.1h0m.9-11.8h0m.6-48.8h0m4 41.3h0m.2 2.2h0m.3-8.6h0m.3-8.2h0m3.6 17.9h0m.1 9.7h0m.8-7.4h0m1-35.8h0m1.5 35.7h0m4.5-26.9h0m.6-4.2h0m0-.6h0m1.3 17.9h0m.9 3.8h0m2.2 .5h0m.8-7.5h0m.8-9.4h0m.5 1h0m.2 18.4h0m3-8.5h0m.4 6.3h0m.8 9.4h0m1.6-20.7h0m1 31.4h0m.2-11.7h0m2.1 9.5h0m1.5-24.2h0m1.7-22.5h0m.8-8.9h0m1.8 47.8h0m.1-10.4h0m1.5-2.3h0m3.6-19.2h0m.6 19.1h0m.3-.5h0m2.2-3.2h0m2.5 20h0m.3-23h0m6.8-37h0m3.6 46.4h0m.7 4h0m.9-14.3h0m.2 34.1h0m.2-20.9h0m.6-18h0m.4 9.1h0m4.4-14.8h0m2.8 8.3h0m1.5 8.8h0m2.4 2.5h0m4.7 6h0m.2-.3h0m7.3-87h0m1.1 75.8h0m1.4-9.7h0m1.5 16.6h0m7.7 9.1h0m.3-45.6h0m5.4 37h0m2 2.4h0m1.1-26.5h0m.6 10.8h0m2.8 13.9h0m3.6-33.1h0m.8 13.7h0m3.6 9.2h0m1.1-23.6h0m3.6 15.3h0"/>
<path stroke-width="3" d="M420.9 343.3h0m10.6-33.3h0m2.1-11h0m2.3 50.1h0m1.1-7.7h0m4.1-17.3h0m4.7-8.5h0m4.4 17.6h0m6.1 8.9h0m.5-7.2h0m2.2-17.6h0m.4-7.7h0m.8 .4h0m3.2 14.7h0m.8-6.1h0m.8 21.2h0m.2-13.9h0m.2 33.3h0m1.2-12.6h0m.1-34.2h0m.8 2.9h0m.2 23.6h0m0 3.2h0m2.6-24h0m.4 14.7h0m1.5-5.1h0m.3-1.2h0m.1 8.3h0m.3-14.3h0m.4 31.4h0m.1-13.1h0m4.9-3.2h0m.3 1.5h0m.3 5.4h0m.1-.5h0m1.3-43.7h0m1.6 23h0m.6 12.5h0m.3-6.9h0m.1-5.4h0m.1 .5h0m4.7-19.5h0m.5 39.1h0m.1-2.4h0m.6 5.4h0m.5-11.4h0m.2 11.1h0m.8-20.7h0m.1 15.1h0m1 9h0m1.4-23.8h0m2.3 3.7h0m.1 .2h0m.3 6.4h0m1.3-10h0m.8 7.6h0m.4 1.2h0m.8 .4h0m0-2.1h0m.9-4.8h0m.1 7.7h0m.8-17.7h0m2 26.5h0m1-1.9h0m.1-23.6h0m.6 16.6h0m2.2-15.1h0m.4-19.3h0m1.4 40.5h0m1.6-19.3h0m1-7.2h0m.5 29.8h0m.1 1.4h0m0-2.9h0m1-20.5h0m.7 2.2h0m.1 6h0m1 1.9h0m1.6 12.1h0m.3-20.1h0m.9 10.8h0m3-5.7h0m2.2-25.4h0m3-15.7h0m3.8 50.2h0m.1-18.3h0m1.2-2.9h0m1.1 20.6h0m2.2-14.1h0m1.1-22.3h0m.8 4.8h0m.2 9h0m.4 12.8h0m1.1 12.2h0m4.6-17h0m1.4 7.7h0m6.2-22.4h0m.3 3h0m2.4-2.4h0m.8 23.1h0m.4-11.4h0m1.2-24.5h0m4.1 17.6h0m8.9-29.9h0m1.9 14h0m2.3-6h0m4.2 48.5h0m6.7-8.4h0m.8-10.4h0m3.2 4.2h0m1.4-7.9h0m6.5 17.9h0m7.8-16.5h0m.3 5h0m4.8 19h0m1.4-96.8h0m5.9 94.3h0m12.3-31.8h0m.7 .3h0m13.7 3.8h0m15.4-72.6h0m175.2 197.2h0"/>
<path stroke-width="2" d="M390.8 320h0m50.5 12.4h0m4.8-1.9h0m1.7-2h0m2.5-2h0m10.3 12.3h0m2.7-11.9h0m10.7 12.2h0m1.3-16.3h0m10.9 1.1h0m.8-25h0m2.4 3.8h0m5.1 4.9h0m.8 13.5h0m4 4.8h0m7.6 14.2h0m.2-17.3h0m2.7 22h0m2.2-44.6h0m.9 21.5h0m2.5-23.3h0m2.7 34.1h0m2.4-25.5h0m4.3-20h0m3.2 16.3h0m.3 4.9h0m4.3 19.4h0m6.9-25.8h0m.1 33.7h0m11.1-32.2h0m8.5-15.8h0m1 33.9h0m23.2-12.8h0m5.8 3.6h0m1 13.6h0m15.1 13.5h0m6-5.9h0m17.2-91.9h0m10.2 76h0m23.3 2.5h0m170.3 114.9h0m.1-4.3h0m0-352.3h0m0-12.9h0m0 77.6h0"/>
<path stroke-width="1" d="M440.5 361h0m19.9-31h0m18.4-2.3h0m2.8 18.2h0m4.6-11.3h0m1.2-4.2h0m3.7-.7h0m20.2-18.5h0m2.4 4.1h0m3.3 16.5h0m5.6-.4h0m3.5 19.9h0m1.2-18.3h0m1.1-.5h0m20.3-27.1h0m16.3 17.3h0m77.9-14.7h0"/>
</g>
</g>
<g fill="none" stroke-linecap="round" stroke-width="5.3" filter="url(#sh)">
<path d="M56.3 437.1L755.2 52.9" stroke="#dc4a58" stroke-opacity=".46"/>
<path d="M56.3 437.2L816.8 253.7" stroke="#42aa5c" stroke-opacity=".5"/>
<path d="M56.3 437.6L809.4 375.3" stroke="#42aa5c" stroke-opacity=".5"/>
</g>
<g font-size="14.67" text-anchor="middle" opacity=".99">
<text transform="translate(570 145.8) rotate(-27.0)" fill="#d1475a">= 45* pure ballot-box stuffing / bussing</text>
<text transform="translate(606 153) rotate(-27.0)" fill="#d1475a">y=x</text>
<text transform="translate(749.5 253.6) rotate(-13.6)" fill="#3d9a52">normal</text>
<text transform="translate(755.5 291) rotate(-13.6)" fill="#3d9a52">y = result(GD)*x</text>
<text transform="translate(739 373.6) rotate(-4.6)" fill="#3d9a52">normal</text>
<text transform="translate(740 400.2) rotate(-4.6)" fill="#3d9a52">y = result(CfC)*x</text>
</g>
<text x="80" y="73.4" font-size="15.67" font-weight="bold" fill="#000">Clean victory of the opposition in urban regions</text>
<text x="80" y="91.6" font-size="14.7" fill="#111">DEC# 1-10 (Tbilisi), 20 (Rustavi), 59 (Kutaisi), 64, 67, 68,</text>
<text x="80" y="108.6" font-size="14.7" fill="#111">69, 70 (Poti), 79 (Batumi)</text>
<g font-size="10.3" fill="#333" stroke="#333" stroke-width=".45">
<text x="844" y="65.1" textLength="29.5" lengthAdjust="spacingAndGlyphs">DEC(s)</text>
<text x="844" y="110" textLength="104" lengthAdjust="spacingAndGlyphs">The type of scatterplot</text>
<text x="844" y="169" textLength="99" lengthAdjust="spacingAndGlyphs">Dot’s size adjustment</text>
<text x="844" y="214" textLength="52" lengthAdjust="spacingAndGlyphs">Кандидаты</text>
</g>
<rect x="844.5" y="69.3" width="169" height="14.6" fill="#fff" stroke="#9a9a9a" stroke-width="1"/>
<rect x="844.5" y="174.3" width="169" height="14.6" fill="#fff" stroke="#b8b8b8" stroke-width="1"/>
<path d="M1003 75.5h5l-2.5 3zM1003 180.5h5l-2.5 3z" fill="#222"/>
<path d="M1005.5 60.5h6l-3 3.6z" fill="#666"/>
<text x="847" y="80.2" font-size="9.6" fill="#777" textLength="71" lengthAdjust="spacingAndGlyphs">(Multiple values)</text>
<text x="847" y="185.2" font-size="9.6" fill="#777" textLength="20" lengthAdjust="spacingAndGlyphs">x100</text>
<path d="M990.3 59.2h7.2l-2.8 3.2v3.6l-1.6-1v-2.6z" fill="none" stroke="#888" stroke-width=".8"/><path d="M996.2 63.6l3 3m0-3l-3 3" stroke="#d9534f" stroke-width=".9" fill="none"/>
<circle cx="851.5" cy="122.5" r="4.4" fill="#fff" stroke="#bbb" stroke-width="1"/>
<circle cx="851.5" cy="138.5" r="4.4" fill="#fff" stroke="#555" stroke-width="1"/><circle cx="851.5" cy="138.5" r="2.3" fill="#333"/>
<g font-size="10.5" fill="#666">
<text x="860" y="126" textLength="99.5" lengthAdjust="spacingAndGlyphs">result as % of turnout</text>
<text x="860" y="142" textLength="96.5" lengthAdjust="spacingAndGlyphs">result as % of the list</text>
</g>
<g font-size="10.5" fill="#666">
<rect x="845.4" y="221.1" width="10.9" height="10.4" fill="#6561b1"/>
<text x="861.1" y="230.0" textLength="84.4" lengthAdjust="spacingAndGlyphs">Georgian Dream %</text>
<rect x="845.4" y="237.3" width="10.9" height="10.4" fill="#f4b07e"/>
<text x="861.1" y="246.2" textLength="102.7" lengthAdjust="spacingAndGlyphs">Coalition for Change %</text>
<rect x="845.4" y="253.4" width="10.9" height="10.4" fill="#ec6b8b"/>
<text x="861.1" y="262.3" textLength="134.6" lengthAdjust="spacingAndGlyphs">Unity – National Movement %</text>
<rect x="845.4" y="269.6" width="10.9" height="10.4" fill="#83cf89"/>
<text x="861.1" y="278.5" textLength="79.9" lengthAdjust="spacingAndGlyphs">Strong Georgia %</text>
<rect x="845.4" y="285.8" width="10.9" height="10.4" fill="#fde878"/>
<text x="861.1" y="294.7" textLength="106.8" lengthAdjust="spacingAndGlyphs">Gakharia For Georgia %</text>
<rect x="845.4" y="302.0" width="10.9" height="10.4" fill="#8d9de9"/>
<text x="861.1" y="310.9" textLength="136.4" lengthAdjust="spacingAndGlyphs">New Political Centre – Girchi...</text>
<rect x="845.4" y="318.1" width="10.9" height="10.4" fill="#b868d0"/>
<text x="861.1" y="327.0" textLength="136.4" lengthAdjust="spacingAndGlyphs">Alliance of Patriots of Georg...</text>
<rect x="845.4" y="334.3" width="10.9" height="10.4" fill="#ee7be8"/>
<text x="861.1" y="343.2" textLength="112.9" lengthAdjust="spacingAndGlyphs">Georgian Labour Party %</text>
<rect x="845.4" y="350.5" width="10.9" height="10.4" fill="#d6f78e"/>
<text x="861.1" y="359.4" textLength="82.1" lengthAdjust="spacingAndGlyphs">Change Georgia %</text>
<rect x="845.4" y="366.6" width="10.9" height="10.4" fill="#fbd3df"/>
<text x="861.1" y="375.5" textLength="105.6" lengthAdjust="spacingAndGlyphs">European Democrats %</text>
<rect x="845.4" y="382.8" width="10.9" height="10.4" fill="#8cc4bf"/>
<text x="861.1" y="391.7" textLength="79.2" lengthAdjust="spacingAndGlyphs">Georgian Unity %</text>
<rect x="845.4" y="399.0" width="10.9" height="10.4" fill="#b56666"/>
<text x="861.1" y="407.9" textLength="37.6" lengthAdjust="spacingAndGlyphs">Chven %</text>
<rect x="845.4" y="415.1" width="10.9" height="10.4" fill="#e6d3fa"/>
<text x="861.1" y="424.0" textLength="68.4" lengthAdjust="spacingAndGlyphs">Free Georgia %</text>
</g>
<rect x="840" y="454" width="177.7" height="1.5" fill="#8c8c8c"/>
<g font-size="11" fill="#777">
<text x="843.3" y="470.3" textLength="150" lengthAdjust="spacingAndGlyphs">A dot’s size is proportional to the</text>
<text x="843.3" y="484.8" textLength="156" lengthAdjust="spacingAndGlyphs">number of registered voters in the</text>
<text x="843.3" y="499" textLength="52" lengthAdjust="spacingAndGlyphs">voters’ list.</text>
</g>
<text x="1007.4" y="521" text-anchor="end" font-size="10.5" fill="#555" textLength="59" lengthAdjust="spacingAndGlyphs">★ viz by R.Udot</text>
</svg></body></html>
